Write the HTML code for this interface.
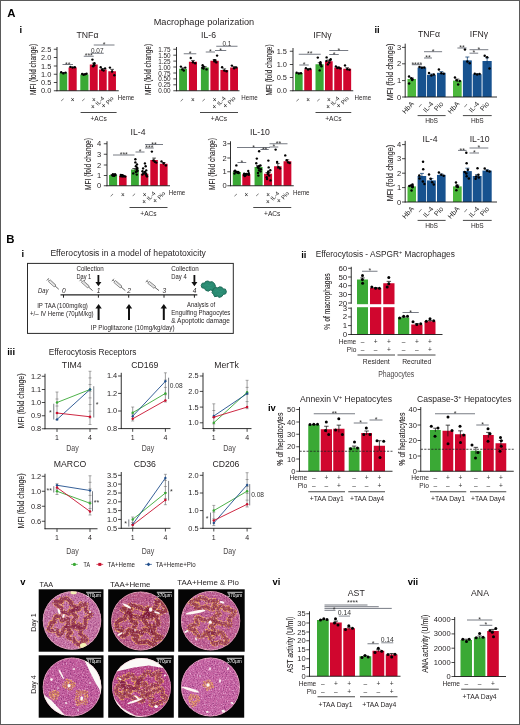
<!DOCTYPE html>
<html><head><meta charset="utf-8"><title>Figure</title>
<style>
html,body{margin:0;padding:0;background:#fff;}
body{width:520px;height:725px;overflow:hidden;font-family:"Liberation Sans",sans-serif;}
svg{display:block;font-family:"Liberation Sans",sans-serif;}
</style></head><body>
<svg width="520" height="725" viewBox="0 0 520 725">
<rect x="0" y="0" width="520" height="725" fill="#fff"/>
<g opacity="0.999">
<text x="7.20" y="17.00" font-size="11.4" text-anchor="start" fill="#000" font-weight="bold" >A</text>
<text x="19.40" y="32.50" font-size="9.4" text-anchor="start" fill="#000" font-weight="bold" >i</text>
<text x="203.90" y="25.40" font-size="8.6" text-anchor="middle" fill="#231f20" textLength="100.50" lengthAdjust="spacingAndGlyphs" >Macrophage polarization</text>
<text x="87.50" y="38.20" font-size="8.7" text-anchor="middle" fill="#231f20" >TNFα</text>
<text x="36.14" y="69.38" font-size="8.6" text-anchor="middle" fill="#231f20" stroke="#231f20" stroke-width="0.1" transform="rotate(-90 36.14 69.38)" textLength="51.00" lengthAdjust="spacingAndGlyphs">MFI (fold change)</text>
<rect x="59.55" y="73.00" width="7.65" height="17.75" fill="#3aa935" />
<rect x="68.55" y="67.50" width="8.15" height="23.25" fill="#d0062e" />
<rect x="80.30" y="74.50" width="8.15" height="16.25" fill="#3aa935" />
<rect x="89.80" y="64.50" width="7.90" height="26.25" fill="#d0062e" />
<rect x="99.05" y="69.50" width="7.65" height="21.25" fill="#d0062e" />
<rect x="108.30" y="71.25" width="7.65" height="19.50" fill="#d0062e" />
<line x1="56.60" y1="90.75" x2="118.75" y2="90.75" stroke="#1a1a1a" stroke-width="0.9" />
<line x1="57.00" y1="47.00" x2="57.00" y2="91.15" stroke="#1a1a1a" stroke-width="0.9" />
<line x1="53.80" y1="49.25" x2="57.00" y2="49.25" stroke="#1a1a1a" stroke-width="0.8" />
<text x="51.30" y="51.77" font-size="7" text-anchor="end" fill="#231f20" textLength="10.30" lengthAdjust="spacingAndGlyphs" >2.5</text>
<line x1="53.80" y1="57.50" x2="57.00" y2="57.50" stroke="#1a1a1a" stroke-width="0.8" />
<text x="51.30" y="60.02" font-size="7" text-anchor="end" fill="#231f20" textLength="10.30" lengthAdjust="spacingAndGlyphs" >2.0</text>
<line x1="53.80" y1="66.00" x2="57.00" y2="66.00" stroke="#1a1a1a" stroke-width="0.8" />
<text x="51.30" y="68.52" font-size="7" text-anchor="end" fill="#231f20" textLength="10.30" lengthAdjust="spacingAndGlyphs" >1.5</text>
<line x1="53.80" y1="74.25" x2="57.00" y2="74.25" stroke="#1a1a1a" stroke-width="0.8" />
<text x="51.30" y="76.77" font-size="7" text-anchor="end" fill="#231f20" textLength="10.30" lengthAdjust="spacingAndGlyphs" >1.0</text>
<line x1="53.80" y1="82.50" x2="57.00" y2="82.50" stroke="#1a1a1a" stroke-width="0.8" />
<text x="51.30" y="85.02" font-size="7" text-anchor="end" fill="#231f20" textLength="10.30" lengthAdjust="spacingAndGlyphs" >0.5</text>
<line x1="53.80" y1="90.75" x2="57.00" y2="90.75" stroke="#1a1a1a" stroke-width="0.8" />
<text x="51.30" y="93.27" font-size="7" text-anchor="end" fill="#231f20" textLength="10.30" lengthAdjust="spacingAndGlyphs" >0.0</text>
<line x1="63.38" y1="72.50" x2="63.38" y2="73.50" stroke="#111" stroke-width="0.75" />
<line x1="61.58" y1="72.50" x2="65.17" y2="72.50" stroke="#111" stroke-width="0.75" />
<circle cx="61.17" cy="72.20" r="1.20" fill="#000"/>
<circle cx="63.38" cy="73.40" r="1.20" fill="#000"/>
<circle cx="65.58" cy="72.60" r="1.20" fill="#000"/>
<line x1="72.62" y1="67.00" x2="72.62" y2="68.00" stroke="#111" stroke-width="0.75" />
<line x1="70.83" y1="67.00" x2="74.42" y2="67.00" stroke="#111" stroke-width="0.75" />
<circle cx="70.42" cy="66.90" r="1.20" fill="#000"/>
<circle cx="72.62" cy="67.60" r="1.20" fill="#000"/>
<circle cx="74.83" cy="67.20" r="1.20" fill="#000"/>
<line x1="84.38" y1="74.10" x2="84.38" y2="74.90" stroke="#111" stroke-width="0.75" />
<line x1="82.58" y1="74.10" x2="86.17" y2="74.10" stroke="#111" stroke-width="0.75" />
<circle cx="82.17" cy="74.00" r="1.20" fill="#000"/>
<circle cx="83.64" cy="74.80" r="1.20" fill="#000"/>
<circle cx="85.11" cy="74.20" r="1.20" fill="#000"/>
<circle cx="86.58" cy="73.80" r="1.20" fill="#000"/>
<line x1="93.75" y1="63.20" x2="93.75" y2="65.80" stroke="#111" stroke-width="0.75" />
<line x1="91.95" y1="63.20" x2="95.55" y2="63.20" stroke="#111" stroke-width="0.75" />
<circle cx="92.42" cy="59.60" r="1.20" fill="#000"/>
<circle cx="93.97" cy="64.80" r="1.20" fill="#000"/>
<circle cx="93.09" cy="66.20" r="1.20" fill="#000"/>
<circle cx="94.28" cy="65.20" r="1.20" fill="#000"/>
<circle cx="94.39" cy="63.20" r="1.20" fill="#000"/>
<line x1="102.88" y1="68.60" x2="102.88" y2="70.40" stroke="#111" stroke-width="0.75" />
<line x1="101.08" y1="68.60" x2="104.67" y2="68.60" stroke="#111" stroke-width="0.75" />
<circle cx="100.67" cy="67.20" r="1.20" fill="#000"/>
<circle cx="102.14" cy="69.80" r="1.20" fill="#000"/>
<circle cx="103.61" cy="70.60" r="1.20" fill="#000"/>
<circle cx="105.08" cy="68.40" r="1.20" fill="#000"/>
<line x1="112.12" y1="69.35" x2="112.12" y2="73.15" stroke="#111" stroke-width="0.75" />
<line x1="110.33" y1="69.35" x2="113.92" y2="69.35" stroke="#111" stroke-width="0.75" />
<circle cx="109.92" cy="67.60" r="1.20" fill="#000"/>
<circle cx="112.12" cy="71.40" r="1.20" fill="#000"/>
<circle cx="114.33" cy="75.20" r="1.20" fill="#000"/>
<line x1="62.50" y1="64.50" x2="73.00" y2="64.50" stroke="#555a66" stroke-width="0.8" />
<text x="67.75" y="66.70" font-size="7" text-anchor="middle" fill="#333" >**</text>
<line x1="83.75" y1="56.25" x2="93.75" y2="56.25" stroke="#555a66" stroke-width="0.8" />
<text x="88.75" y="58.45" font-size="7" text-anchor="middle" fill="#333" >***</text>
<line x1="90.75" y1="53.25" x2="103.75" y2="53.25" stroke="#555a66" stroke-width="0.8" />
<text x="97.25" y="52.55" font-size="6.4" text-anchor="middle" fill="#333" >0.07</text>
<line x1="93.75" y1="45.00" x2="114.50" y2="45.00" stroke="#555a66" stroke-width="0.8" />
<text x="104.12" y="47.20" font-size="7" text-anchor="middle" fill="#333" >*</text>
<text x="63.38" y="101.15" font-size="6.2" text-anchor="middle" fill="#111" transform="rotate(-45 63.38 101.15)" >–</text>
<text x="72.62" y="101.95" font-size="6.4" text-anchor="middle" fill="#111" >×</text>
<text x="84.38" y="101.15" font-size="6.2" text-anchor="middle" fill="#111" transform="rotate(-45 84.38 101.15)" >–</text>
<text x="93.75" y="101.95" font-size="6.4" text-anchor="middle" fill="#111" >×</text>
<text x="104.78" y="98.55" font-size="5.8" text-anchor="end" fill="#222" transform="rotate(-48 104.78 98.55)" >IL-4</text>
<text x="92.88" y="109.25" font-size="6.4" text-anchor="middle" fill="#111" >×</text>
<text x="114.03" y="98.55" font-size="5.8" text-anchor="end" fill="#222" transform="rotate(-48 114.03 98.55)" >Pio</text>
<text x="103.53" y="108.25" font-size="6.4" text-anchor="middle" fill="#111" >×</text>
<text x="117.80" y="99.75" font-size="6.3" text-anchor="start" fill="#231f20" textLength="16.50" lengthAdjust="spacingAndGlyphs" >Heme</text>
<line x1="80.60" y1="112.50" x2="116.60" y2="112.50" stroke="#333" stroke-width="0.9" />
<text x="98.60" y="120.70" font-size="6.6" text-anchor="middle" fill="#231f20" >+ACs</text>
<text x="208.60" y="38.20" font-size="8.7" text-anchor="middle" fill="#231f20" >IL-6</text>
<text x="151.04" y="69.38" font-size="8.6" text-anchor="middle" fill="#231f20" stroke="#231f20" stroke-width="0.1" transform="rotate(-90 151.04 69.38)" textLength="51.00" lengthAdjust="spacingAndGlyphs">MFI (fold change)</text>
<rect x="179.15" y="68.75" width="7.85" height="22.00" fill="#3aa935" />
<rect x="188.90" y="61.75" width="8.10" height="29.00" fill="#d0062e" />
<rect x="200.90" y="67.50" width="7.85" height="23.25" fill="#3aa935" />
<rect x="210.40" y="60.75" width="8.35" height="30.00" fill="#d0062e" />
<rect x="220.40" y="70.00" width="7.85" height="20.75" fill="#d0062e" />
<rect x="230.15" y="67.50" width="7.85" height="23.25" fill="#d0062e" />
<line x1="176.10" y1="90.75" x2="239.50" y2="90.75" stroke="#1a1a1a" stroke-width="0.9" />
<line x1="176.50" y1="47.00" x2="176.50" y2="91.15" stroke="#1a1a1a" stroke-width="0.9" />
<line x1="173.30" y1="49.25" x2="176.50" y2="49.25" stroke="#1a1a1a" stroke-width="0.8" />
<text x="170.60" y="51.77" font-size="7" text-anchor="end" fill="#231f20" textLength="12.40" lengthAdjust="spacingAndGlyphs" >1.75</text>
<line x1="173.30" y1="55.20" x2="176.50" y2="55.20" stroke="#1a1a1a" stroke-width="0.8" />
<text x="170.60" y="57.72" font-size="7" text-anchor="end" fill="#231f20" textLength="12.40" lengthAdjust="spacingAndGlyphs" >1.50</text>
<line x1="173.30" y1="61.10" x2="176.50" y2="61.10" stroke="#1a1a1a" stroke-width="0.8" />
<text x="170.60" y="63.62" font-size="7" text-anchor="end" fill="#231f20" textLength="12.40" lengthAdjust="spacingAndGlyphs" >1.25</text>
<line x1="173.30" y1="67.00" x2="176.50" y2="67.00" stroke="#1a1a1a" stroke-width="0.8" />
<text x="170.60" y="69.52" font-size="7" text-anchor="end" fill="#231f20" textLength="12.40" lengthAdjust="spacingAndGlyphs" >1.00</text>
<line x1="173.30" y1="73.00" x2="176.50" y2="73.00" stroke="#1a1a1a" stroke-width="0.8" />
<text x="170.60" y="75.52" font-size="7" text-anchor="end" fill="#231f20" textLength="12.40" lengthAdjust="spacingAndGlyphs" >0.75</text>
<line x1="173.30" y1="78.90" x2="176.50" y2="78.90" stroke="#1a1a1a" stroke-width="0.8" />
<text x="170.60" y="81.42" font-size="7" text-anchor="end" fill="#231f20" textLength="12.40" lengthAdjust="spacingAndGlyphs" >0.50</text>
<line x1="173.30" y1="84.80" x2="176.50" y2="84.80" stroke="#1a1a1a" stroke-width="0.8" />
<text x="170.60" y="87.32" font-size="7" text-anchor="end" fill="#231f20" textLength="12.40" lengthAdjust="spacingAndGlyphs" >0.25</text>
<line x1="173.30" y1="90.75" x2="176.50" y2="90.75" stroke="#1a1a1a" stroke-width="0.8" />
<text x="170.60" y="93.27" font-size="7" text-anchor="end" fill="#231f20" textLength="12.40" lengthAdjust="spacingAndGlyphs" >0.00</text>
<line x1="183.07" y1="67.85" x2="183.07" y2="69.65" stroke="#111" stroke-width="0.75" />
<line x1="181.27" y1="67.85" x2="184.88" y2="67.85" stroke="#111" stroke-width="0.75" />
<circle cx="180.88" cy="66.60" r="1.20" fill="#000"/>
<circle cx="182.34" cy="69.40" r="1.20" fill="#000"/>
<circle cx="183.81" cy="70.60" r="1.20" fill="#000"/>
<circle cx="185.27" cy="67.60" r="1.20" fill="#000"/>
<line x1="192.95" y1="60.45" x2="192.95" y2="63.05" stroke="#111" stroke-width="0.75" />
<line x1="191.15" y1="60.45" x2="194.75" y2="60.45" stroke="#111" stroke-width="0.75" />
<circle cx="190.75" cy="58.00" r="1.20" fill="#000"/>
<circle cx="192.95" cy="62.20" r="1.20" fill="#000"/>
<circle cx="195.15" cy="63.20" r="1.20" fill="#000"/>
<line x1="204.82" y1="66.70" x2="204.82" y2="68.30" stroke="#111" stroke-width="0.75" />
<line x1="203.02" y1="66.70" x2="206.62" y2="66.70" stroke="#111" stroke-width="0.75" />
<circle cx="202.63" cy="65.20" r="1.20" fill="#000"/>
<circle cx="202.36" cy="67.80" r="1.20" fill="#000"/>
<circle cx="206.53" cy="69.40" r="1.20" fill="#000"/>
<circle cx="203.61" cy="66.60" r="1.20" fill="#000"/>
<circle cx="203.48" cy="68.60" r="1.20" fill="#000"/>
<line x1="214.57" y1="59.55" x2="214.57" y2="61.95" stroke="#111" stroke-width="0.75" />
<line x1="212.77" y1="59.55" x2="216.38" y2="59.55" stroke="#111" stroke-width="0.75" />
<circle cx="217.08" cy="55.60" r="1.20" fill="#000"/>
<circle cx="214.42" cy="60.20" r="1.20" fill="#000"/>
<circle cx="216.28" cy="62.40" r="1.20" fill="#000"/>
<circle cx="214.46" cy="61.40" r="1.20" fill="#000"/>
<circle cx="215.28" cy="60.60" r="1.20" fill="#000"/>
<line x1="224.32" y1="68.90" x2="224.32" y2="71.10" stroke="#111" stroke-width="0.75" />
<line x1="222.52" y1="68.90" x2="226.12" y2="68.90" stroke="#111" stroke-width="0.75" />
<circle cx="222.12" cy="67.20" r="1.20" fill="#000"/>
<circle cx="224.32" cy="70.60" r="1.20" fill="#000"/>
<circle cx="226.52" cy="71.20" r="1.20" fill="#000"/>
<line x1="234.07" y1="66.60" x2="234.07" y2="68.40" stroke="#111" stroke-width="0.75" />
<line x1="232.27" y1="66.60" x2="235.88" y2="66.60" stroke="#111" stroke-width="0.75" />
<circle cx="231.88" cy="65.60" r="1.20" fill="#000"/>
<circle cx="234.07" cy="68.20" r="1.20" fill="#000"/>
<circle cx="236.27" cy="67.40" r="1.20" fill="#000"/>
<line x1="183.75" y1="53.75" x2="196.25" y2="53.75" stroke="#555a66" stroke-width="0.8" />
<text x="190.00" y="55.95" font-size="7" text-anchor="middle" fill="#333" >*</text>
<line x1="205.75" y1="52.00" x2="215.00" y2="52.00" stroke="#555a66" stroke-width="0.8" />
<text x="210.38" y="54.20" font-size="7" text-anchor="middle" fill="#333" >*</text>
<line x1="215.00" y1="50.50" x2="226.25" y2="50.50" stroke="#555a66" stroke-width="0.8" />
<text x="220.62" y="52.70" font-size="7" text-anchor="middle" fill="#333" >*</text>
<line x1="216.25" y1="46.25" x2="237.50" y2="46.25" stroke="#555a66" stroke-width="0.8" />
<text x="226.88" y="45.55" font-size="6.4" text-anchor="middle" fill="#333" >0.1</text>
<text x="183.07" y="101.15" font-size="6.2" text-anchor="middle" fill="#111" transform="rotate(-45 183.07 101.15)" >–</text>
<text x="192.95" y="101.95" font-size="6.4" text-anchor="middle" fill="#111" >×</text>
<text x="204.82" y="101.15" font-size="6.2" text-anchor="middle" fill="#111" transform="rotate(-45 204.82 101.15)" >–</text>
<text x="214.57" y="101.95" font-size="6.4" text-anchor="middle" fill="#111" >×</text>
<text x="226.22" y="98.55" font-size="5.8" text-anchor="end" fill="#222" transform="rotate(-48 226.22 98.55)" >IL-4</text>
<text x="214.32" y="109.25" font-size="6.4" text-anchor="middle" fill="#111" >×</text>
<text x="235.97" y="98.55" font-size="5.8" text-anchor="end" fill="#222" transform="rotate(-48 235.97 98.55)" >Pio</text>
<text x="225.47" y="108.25" font-size="6.4" text-anchor="middle" fill="#111" >×</text>
<text x="241.30" y="99.75" font-size="6.3" text-anchor="start" fill="#231f20" textLength="16.50" lengthAdjust="spacingAndGlyphs" >Heme</text>
<line x1="200.00" y1="112.50" x2="238.00" y2="112.50" stroke="#333" stroke-width="0.9" />
<text x="219.00" y="120.70" font-size="6.6" text-anchor="middle" fill="#231f20" >+ACs</text>
<text x="322.50" y="38.20" font-size="8.7" text-anchor="middle" fill="#231f20" >IFNγ</text>
<text x="272.44" y="69.88" font-size="8.6" text-anchor="middle" fill="#231f20" stroke="#231f20" stroke-width="0.1" transform="rotate(-90 272.44 69.88)" textLength="51.00" lengthAdjust="spacingAndGlyphs">MFI (fold change)</text>
<rect x="295.00" y="73.25" width="7.65" height="17.50" fill="#3aa935" />
<rect x="304.25" y="69.25" width="7.65" height="21.50" fill="#d0062e" />
<rect x="315.50" y="64.25" width="8.15" height="26.50" fill="#3aa935" />
<rect x="325.00" y="61.25" width="7.65" height="29.50" fill="#d0062e" />
<rect x="334.25" y="67.50" width="7.65" height="23.25" fill="#d0062e" />
<rect x="343.25" y="68.75" width="7.90" height="22.00" fill="#d0062e" />
<line x1="292.60" y1="90.75" x2="353.25" y2="90.75" stroke="#1a1a1a" stroke-width="0.9" />
<line x1="293.00" y1="48.00" x2="293.00" y2="91.15" stroke="#1a1a1a" stroke-width="0.9" />
<line x1="289.80" y1="51.25" x2="293.00" y2="51.25" stroke="#1a1a1a" stroke-width="0.8" />
<text x="287.00" y="53.77" font-size="7" text-anchor="end" fill="#231f20" textLength="10.30" lengthAdjust="spacingAndGlyphs" >1.5</text>
<line x1="289.80" y1="64.50" x2="293.00" y2="64.50" stroke="#1a1a1a" stroke-width="0.8" />
<text x="287.00" y="67.02" font-size="7" text-anchor="end" fill="#231f20" textLength="10.30" lengthAdjust="spacingAndGlyphs" >1.0</text>
<line x1="289.80" y1="77.50" x2="293.00" y2="77.50" stroke="#1a1a1a" stroke-width="0.8" />
<text x="287.00" y="80.02" font-size="7" text-anchor="end" fill="#231f20" textLength="10.30" lengthAdjust="spacingAndGlyphs" >0.5</text>
<line x1="289.80" y1="90.75" x2="293.00" y2="90.75" stroke="#1a1a1a" stroke-width="0.8" />
<text x="287.00" y="93.27" font-size="7" text-anchor="end" fill="#231f20" textLength="10.30" lengthAdjust="spacingAndGlyphs" >0.0</text>
<line x1="298.82" y1="72.85" x2="298.82" y2="73.65" stroke="#111" stroke-width="0.75" />
<line x1="297.02" y1="72.85" x2="300.62" y2="72.85" stroke="#111" stroke-width="0.75" />
<circle cx="296.62" cy="72.80" r="1.20" fill="#000"/>
<circle cx="298.82" cy="73.60" r="1.20" fill="#000"/>
<circle cx="301.02" cy="73.20" r="1.20" fill="#000"/>
<line x1="308.07" y1="68.65" x2="308.07" y2="69.85" stroke="#111" stroke-width="0.75" />
<line x1="306.27" y1="68.65" x2="309.88" y2="68.65" stroke="#111" stroke-width="0.75" />
<circle cx="305.88" cy="68.20" r="1.20" fill="#000"/>
<circle cx="308.07" cy="69.60" r="1.20" fill="#000"/>
<circle cx="310.27" cy="69.00" r="1.20" fill="#000"/>
<line x1="319.57" y1="62.75" x2="319.57" y2="65.75" stroke="#111" stroke-width="0.75" />
<line x1="317.77" y1="62.75" x2="321.38" y2="62.75" stroke="#111" stroke-width="0.75" />
<circle cx="317.81" cy="57.60" r="1.20" fill="#000"/>
<circle cx="320.26" cy="63.40" r="1.20" fill="#000"/>
<circle cx="321.44" cy="66.20" r="1.20" fill="#000"/>
<circle cx="319.69" cy="70.40" r="1.20" fill="#000"/>
<circle cx="320.80" cy="64.40" r="1.20" fill="#000"/>
<circle cx="320.44" cy="62.20" r="1.20" fill="#000"/>
<line x1="328.82" y1="60.05" x2="328.82" y2="62.45" stroke="#111" stroke-width="0.75" />
<line x1="327.02" y1="60.05" x2="330.62" y2="60.05" stroke="#111" stroke-width="0.75" />
<circle cx="326.62" cy="57.40" r="1.20" fill="#000"/>
<circle cx="330.13" cy="60.20" r="1.20" fill="#000"/>
<circle cx="329.29" cy="62.60" r="1.20" fill="#000"/>
<circle cx="327.82" cy="64.40" r="1.20" fill="#000"/>
<circle cx="326.45" cy="61.00" r="1.20" fill="#000"/>
<circle cx="330.67" cy="59.20" r="1.20" fill="#000"/>
<line x1="338.07" y1="67.00" x2="338.07" y2="68.00" stroke="#111" stroke-width="0.75" />
<line x1="336.27" y1="67.00" x2="339.88" y2="67.00" stroke="#111" stroke-width="0.75" />
<circle cx="335.88" cy="66.40" r="1.20" fill="#000"/>
<circle cx="337.34" cy="68.00" r="1.20" fill="#000"/>
<circle cx="338.81" cy="67.60" r="1.20" fill="#000"/>
<circle cx="340.27" cy="68.40" r="1.20" fill="#000"/>
<line x1="347.20" y1="67.75" x2="347.20" y2="69.75" stroke="#111" stroke-width="0.75" />
<line x1="345.40" y1="67.75" x2="349.00" y2="67.75" stroke="#111" stroke-width="0.75" />
<circle cx="345.00" cy="65.40" r="1.20" fill="#000"/>
<circle cx="347.20" cy="69.20" r="1.20" fill="#000"/>
<circle cx="349.40" cy="69.80" r="1.20" fill="#000"/>
<line x1="298.75" y1="54.25" x2="320.75" y2="54.25" stroke="#555a66" stroke-width="0.8" />
<text x="309.75" y="56.45" font-size="7" text-anchor="middle" fill="#333" >**</text>
<line x1="299.25" y1="65.00" x2="308.75" y2="65.00" stroke="#555a66" stroke-width="0.8" />
<text x="304.00" y="67.20" font-size="7" text-anchor="middle" fill="#333" >*</text>
<line x1="329.25" y1="50.50" x2="348.25" y2="50.50" stroke="#555a66" stroke-width="0.8" />
<text x="338.75" y="52.70" font-size="7" text-anchor="middle" fill="#333" >*</text>
<line x1="329.25" y1="54.50" x2="338.75" y2="54.50" stroke="#555a66" stroke-width="0.8" />
<text x="334.00" y="56.70" font-size="7" text-anchor="middle" fill="#333" >*</text>
<text x="298.82" y="101.15" font-size="6.2" text-anchor="middle" fill="#111" transform="rotate(-45 298.82 101.15)" >–</text>
<text x="308.07" y="101.95" font-size="6.4" text-anchor="middle" fill="#111" >×</text>
<text x="319.57" y="101.15" font-size="6.2" text-anchor="middle" fill="#111" transform="rotate(-45 319.57 101.15)" >–</text>
<text x="328.82" y="101.95" font-size="6.4" text-anchor="middle" fill="#111" >×</text>
<text x="339.97" y="98.55" font-size="5.8" text-anchor="end" fill="#222" transform="rotate(-48 339.97 98.55)" >IL-4</text>
<text x="328.07" y="109.25" font-size="6.4" text-anchor="middle" fill="#111" >×</text>
<text x="349.10" y="98.55" font-size="5.8" text-anchor="end" fill="#222" transform="rotate(-48 349.10 98.55)" >Pio</text>
<text x="338.60" y="108.25" font-size="6.4" text-anchor="middle" fill="#111" >×</text>
<text x="354.60" y="99.75" font-size="6.3" text-anchor="start" fill="#231f20" textLength="16.50" lengthAdjust="spacingAndGlyphs" >Heme</text>
<line x1="315.50" y1="112.50" x2="351.25" y2="112.50" stroke="#333" stroke-width="0.9" />
<text x="333.38" y="120.70" font-size="6.6" text-anchor="middle" fill="#231f20" >+ACs</text>
<text x="138.00" y="135.30" font-size="8.7" text-anchor="middle" fill="#231f20" >IL-4</text>
<text x="91.24" y="164.00" font-size="8.6" text-anchor="middle" fill="#231f20" stroke="#231f20" stroke-width="0.1" transform="rotate(-90 91.24 164.00)" textLength="52.00" lengthAdjust="spacingAndGlyphs">MFI (fold change)</text>
<rect x="109.05" y="175.00" width="8.05" height="10.75" fill="#3aa935" />
<rect x="119.05" y="175.75" width="7.55" height="10.00" fill="#d0062e" />
<rect x="131.05" y="169.50" width="7.80" height="16.25" fill="#3aa935" />
<rect x="140.80" y="173.75" width="7.55" height="12.00" fill="#d0062e" />
<rect x="150.30" y="160.00" width="7.55" height="25.75" fill="#d0062e" />
<rect x="159.80" y="163.75" width="7.80" height="22.00" fill="#d0062e" />
<line x1="106.60" y1="185.75" x2="170.00" y2="185.75" stroke="#1a1a1a" stroke-width="0.9" />
<line x1="107.00" y1="141.25" x2="107.00" y2="186.15" stroke="#1a1a1a" stroke-width="0.9" />
<line x1="103.80" y1="143.75" x2="107.00" y2="143.75" stroke="#1a1a1a" stroke-width="0.8" />
<text x="101.20" y="146.27" font-size="7" text-anchor="end" fill="#231f20" textLength="4.20" lengthAdjust="spacingAndGlyphs" >4</text>
<line x1="103.80" y1="154.25" x2="107.00" y2="154.25" stroke="#1a1a1a" stroke-width="0.8" />
<text x="101.20" y="156.77" font-size="7" text-anchor="end" fill="#231f20" textLength="4.20" lengthAdjust="spacingAndGlyphs" >3</text>
<line x1="103.80" y1="165.00" x2="107.00" y2="165.00" stroke="#1a1a1a" stroke-width="0.8" />
<text x="101.20" y="167.52" font-size="7" text-anchor="end" fill="#231f20" textLength="4.20" lengthAdjust="spacingAndGlyphs" >2</text>
<line x1="103.80" y1="175.50" x2="107.00" y2="175.50" stroke="#1a1a1a" stroke-width="0.8" />
<text x="101.20" y="178.02" font-size="7" text-anchor="end" fill="#231f20" textLength="4.20" lengthAdjust="spacingAndGlyphs" >1</text>
<line x1="103.80" y1="185.75" x2="107.00" y2="185.75" stroke="#1a1a1a" stroke-width="0.8" />
<text x="101.20" y="188.27" font-size="7" text-anchor="end" fill="#231f20" textLength="4.20" lengthAdjust="spacingAndGlyphs" >0</text>
<line x1="113.07" y1="174.70" x2="113.07" y2="175.30" stroke="#111" stroke-width="0.75" />
<line x1="110.47" y1="174.70" x2="115.67" y2="174.70" stroke="#111" stroke-width="0.75" />
<circle cx="112.94" cy="174.20" r="1.20" fill="#000"/>
<circle cx="114.18" cy="175.40" r="1.20" fill="#000"/>
<circle cx="114.99" cy="174.80" r="1.20" fill="#000"/>
<circle cx="114.16" cy="175.80" r="1.20" fill="#000"/>
<circle cx="115.21" cy="174.40" r="1.20" fill="#000"/>
<circle cx="112.54" cy="175.20" r="1.20" fill="#000"/>
<circle cx="114.60" cy="174.60" r="1.20" fill="#000"/>
<circle cx="112.79" cy="175.60" r="1.20" fill="#000"/>
<circle cx="115.28" cy="174.90" r="1.20" fill="#000"/>
<circle cx="114.99" cy="175.10" r="1.20" fill="#000"/>
<line x1="122.82" y1="175.45" x2="122.82" y2="176.05" stroke="#111" stroke-width="0.75" />
<line x1="120.22" y1="175.45" x2="125.42" y2="175.45" stroke="#111" stroke-width="0.75" />
<circle cx="120.79" cy="175.00" r="1.20" fill="#000"/>
<circle cx="120.98" cy="176.20" r="1.20" fill="#000"/>
<circle cx="121.39" cy="175.40" r="1.20" fill="#000"/>
<circle cx="125.18" cy="176.60" r="1.20" fill="#000"/>
<circle cx="122.50" cy="175.20" r="1.20" fill="#000"/>
<circle cx="123.47" cy="176.00" r="1.20" fill="#000"/>
<circle cx="121.82" cy="175.60" r="1.20" fill="#000"/>
<circle cx="122.86" cy="176.40" r="1.20" fill="#000"/>
<circle cx="122.25" cy="175.80" r="1.20" fill="#000"/>
<circle cx="122.07" cy="176.10" r="1.20" fill="#000"/>
<line x1="134.95" y1="168.50" x2="134.95" y2="170.50" stroke="#111" stroke-width="0.75" />
<line x1="132.35" y1="168.50" x2="137.55" y2="168.50" stroke="#111" stroke-width="0.75" />
<circle cx="135.38" cy="159.20" r="1.20" fill="#000"/>
<circle cx="135.38" cy="162.40" r="1.20" fill="#000"/>
<circle cx="137.00" cy="164.40" r="1.20" fill="#000"/>
<circle cx="135.87" cy="166.20" r="1.20" fill="#000"/>
<circle cx="137.12" cy="167.80" r="1.20" fill="#000"/>
<circle cx="136.75" cy="169.20" r="1.20" fill="#000"/>
<circle cx="137.43" cy="170.60" r="1.20" fill="#000"/>
<circle cx="135.82" cy="172.00" r="1.20" fill="#000"/>
<circle cx="133.25" cy="173.40" r="1.20" fill="#000"/>
<circle cx="136.77" cy="174.60" r="1.20" fill="#000"/>
<circle cx="137.30" cy="168.40" r="1.20" fill="#000"/>
<circle cx="137.00" cy="171.20" r="1.20" fill="#000"/>
<line x1="144.57" y1="172.85" x2="144.57" y2="174.65" stroke="#111" stroke-width="0.75" />
<line x1="141.97" y1="172.85" x2="147.17" y2="172.85" stroke="#111" stroke-width="0.75" />
<circle cx="144.92" cy="163.40" r="1.20" fill="#000"/>
<circle cx="145.66" cy="166.20" r="1.20" fill="#000"/>
<circle cx="143.11" cy="168.40" r="1.20" fill="#000"/>
<circle cx="146.25" cy="170.40" r="1.20" fill="#000"/>
<circle cx="144.95" cy="172.00" r="1.20" fill="#000"/>
<circle cx="143.49" cy="173.40" r="1.20" fill="#000"/>
<circle cx="142.37" cy="174.60" r="1.20" fill="#000"/>
<circle cx="146.37" cy="175.60" r="1.20" fill="#000"/>
<circle cx="147.05" cy="176.40" r="1.20" fill="#000"/>
<circle cx="142.49" cy="171.20" r="1.20" fill="#000"/>
<circle cx="146.10" cy="174.00" r="1.20" fill="#000"/>
<line x1="154.07" y1="158.10" x2="154.07" y2="161.90" stroke="#111" stroke-width="0.75" />
<line x1="152.27" y1="158.10" x2="155.88" y2="158.10" stroke="#111" stroke-width="0.75" />
<circle cx="151.88" cy="151.60" r="1.20" fill="#000"/>
<circle cx="153.34" cy="160.40" r="1.20" fill="#000"/>
<circle cx="154.81" cy="161.80" r="1.20" fill="#000"/>
<circle cx="156.27" cy="162.60" r="1.20" fill="#000"/>
<line x1="163.70" y1="162.55" x2="163.70" y2="164.95" stroke="#111" stroke-width="0.75" />
<line x1="161.90" y1="162.55" x2="165.50" y2="162.55" stroke="#111" stroke-width="0.75" />
<circle cx="161.50" cy="161.40" r="1.20" fill="#000"/>
<circle cx="163.70" cy="163.20" r="1.20" fill="#000"/>
<circle cx="165.90" cy="165.40" r="1.20" fill="#000"/>
<line x1="113.00" y1="155.00" x2="134.50" y2="155.00" stroke="#555a66" stroke-width="0.8" />
<text x="123.75" y="157.20" font-size="7" text-anchor="middle" fill="#333" >***</text>
<line x1="135.50" y1="152.00" x2="144.50" y2="152.00" stroke="#555a66" stroke-width="0.8" />
<text x="140.00" y="154.20" font-size="7" text-anchor="middle" fill="#333" >*</text>
<line x1="145.00" y1="148.00" x2="153.75" y2="148.00" stroke="#555a66" stroke-width="0.8" />
<text x="149.38" y="150.20" font-size="7" text-anchor="middle" fill="#333" >***</text>
<line x1="145.00" y1="144.50" x2="163.00" y2="144.50" stroke="#555a66" stroke-width="0.8" />
<text x="154.00" y="146.70" font-size="7" text-anchor="middle" fill="#333" >**</text>
<text x="113.07" y="196.15" font-size="6.2" text-anchor="middle" fill="#111" transform="rotate(-45 113.07 196.15)" >–</text>
<text x="122.82" y="196.95" font-size="6.4" text-anchor="middle" fill="#111" >×</text>
<text x="134.95" y="196.15" font-size="6.2" text-anchor="middle" fill="#111" transform="rotate(-45 134.95 196.15)" >–</text>
<text x="144.57" y="196.95" font-size="6.4" text-anchor="middle" fill="#111" >×</text>
<text x="155.97" y="193.55" font-size="5.8" text-anchor="end" fill="#222" transform="rotate(-48 155.97 193.55)" >IL-4</text>
<text x="144.07" y="204.25" font-size="6.4" text-anchor="middle" fill="#111" >×</text>
<text x="165.60" y="193.55" font-size="5.8" text-anchor="end" fill="#222" transform="rotate(-48 165.60 193.55)" >Pio</text>
<text x="155.10" y="203.25" font-size="6.4" text-anchor="middle" fill="#111" >×</text>
<text x="168.80" y="194.75" font-size="6.3" text-anchor="start" fill="#231f20" textLength="16.50" lengthAdjust="spacingAndGlyphs" >Heme</text>
<line x1="129.50" y1="207.50" x2="167.50" y2="207.50" stroke="#333" stroke-width="0.9" />
<text x="148.50" y="215.70" font-size="6.6" text-anchor="middle" fill="#231f20" >+ACs</text>
<text x="260.00" y="135.30" font-size="8.7" text-anchor="middle" fill="#231f20" >IL-10</text>
<text x="215.04" y="164.00" font-size="8.6" text-anchor="middle" fill="#231f20" stroke="#231f20" stroke-width="0.1" transform="rotate(-90 215.04 164.00)" textLength="52.00" lengthAdjust="spacingAndGlyphs">MFI (fold change)</text>
<rect x="232.80" y="172.00" width="8.05" height="13.75" fill="#3aa935" />
<rect x="242.30" y="174.25" width="8.05" height="11.50" fill="#d0062e" />
<rect x="254.55" y="167.00" width="8.05" height="18.75" fill="#3aa935" />
<rect x="264.05" y="173.75" width="8.05" height="12.00" fill="#d0062e" />
<rect x="274.05" y="166.25" width="7.55" height="19.50" fill="#d0062e" />
<rect x="283.55" y="161.25" width="7.80" height="24.50" fill="#d0062e" />
<line x1="230.10" y1="185.75" x2="293.75" y2="185.75" stroke="#1a1a1a" stroke-width="0.9" />
<line x1="230.50" y1="141.25" x2="230.50" y2="186.15" stroke="#1a1a1a" stroke-width="0.9" />
<line x1="227.30" y1="143.75" x2="230.50" y2="143.75" stroke="#1a1a1a" stroke-width="0.8" />
<text x="226.60" y="146.27" font-size="7" text-anchor="end" fill="#231f20" textLength="4.20" lengthAdjust="spacingAndGlyphs" >3</text>
<line x1="227.30" y1="158.00" x2="230.50" y2="158.00" stroke="#1a1a1a" stroke-width="0.8" />
<text x="226.60" y="160.52" font-size="7" text-anchor="end" fill="#231f20" textLength="4.20" lengthAdjust="spacingAndGlyphs" >2</text>
<line x1="227.30" y1="171.75" x2="230.50" y2="171.75" stroke="#1a1a1a" stroke-width="0.8" />
<text x="226.60" y="174.27" font-size="7" text-anchor="end" fill="#231f20" textLength="4.20" lengthAdjust="spacingAndGlyphs" >1</text>
<line x1="227.30" y1="185.75" x2="230.50" y2="185.75" stroke="#1a1a1a" stroke-width="0.8" />
<text x="226.60" y="188.27" font-size="7" text-anchor="end" fill="#231f20" textLength="4.20" lengthAdjust="spacingAndGlyphs" >0</text>
<line x1="236.82" y1="171.50" x2="236.82" y2="172.50" stroke="#111" stroke-width="0.75" />
<line x1="234.22" y1="171.50" x2="239.42" y2="171.50" stroke="#111" stroke-width="0.75" />
<circle cx="236.37" cy="165.40" r="1.20" fill="#000"/>
<circle cx="235.06" cy="170.80" r="1.20" fill="#000"/>
<circle cx="235.78" cy="171.60" r="1.20" fill="#000"/>
<circle cx="238.19" cy="172.40" r="1.20" fill="#000"/>
<circle cx="238.71" cy="173.00" r="1.20" fill="#000"/>
<circle cx="234.52" cy="171.20" r="1.20" fill="#000"/>
<circle cx="237.40" cy="172.80" r="1.20" fill="#000"/>
<circle cx="234.52" cy="173.60" r="1.20" fill="#000"/>
<circle cx="237.93" cy="172.00" r="1.20" fill="#000"/>
<circle cx="235.97" cy="171.90" r="1.20" fill="#000"/>
<line x1="246.32" y1="173.75" x2="246.32" y2="174.75" stroke="#111" stroke-width="0.75" />
<line x1="243.72" y1="173.75" x2="248.92" y2="173.75" stroke="#111" stroke-width="0.75" />
<circle cx="248.25" cy="171.00" r="1.20" fill="#000"/>
<circle cx="248.76" cy="173.20" r="1.20" fill="#000"/>
<circle cx="246.35" cy="174.00" r="1.20" fill="#000"/>
<circle cx="248.85" cy="174.80" r="1.20" fill="#000"/>
<circle cx="245.36" cy="175.40" r="1.20" fill="#000"/>
<circle cx="244.18" cy="173.60" r="1.20" fill="#000"/>
<circle cx="246.83" cy="174.40" r="1.20" fill="#000"/>
<circle cx="243.95" cy="175.00" r="1.20" fill="#000"/>
<circle cx="244.79" cy="176.00" r="1.20" fill="#000"/>
<circle cx="245.86" cy="174.20" r="1.20" fill="#000"/>
<line x1="258.58" y1="165.70" x2="258.58" y2="168.30" stroke="#111" stroke-width="0.75" />
<line x1="255.98" y1="165.70" x2="261.18" y2="165.70" stroke="#111" stroke-width="0.75" />
<circle cx="259.13" cy="151.20" r="1.20" fill="#000"/>
<circle cx="256.84" cy="158.60" r="1.20" fill="#000"/>
<circle cx="256.26" cy="163.20" r="1.20" fill="#000"/>
<circle cx="260.44" cy="165.40" r="1.20" fill="#000"/>
<circle cx="257.63" cy="167.00" r="1.20" fill="#000"/>
<circle cx="260.90" cy="169.20" r="1.20" fill="#000"/>
<circle cx="260.58" cy="171.40" r="1.20" fill="#000"/>
<circle cx="257.96" cy="173.00" r="1.20" fill="#000"/>
<circle cx="258.37" cy="175.60" r="1.20" fill="#000"/>
<circle cx="258.68" cy="168.20" r="1.20" fill="#000"/>
<circle cx="259.30" cy="166.00" r="1.20" fill="#000"/>
<circle cx="259.06" cy="170.40" r="1.20" fill="#000"/>
<line x1="268.08" y1="172.55" x2="268.08" y2="174.95" stroke="#111" stroke-width="0.75" />
<line x1="265.48" y1="172.55" x2="270.68" y2="172.55" stroke="#111" stroke-width="0.75" />
<circle cx="268.37" cy="160.60" r="1.20" fill="#000"/>
<circle cx="268.68" cy="167.40" r="1.20" fill="#000"/>
<circle cx="270.30" cy="170.20" r="1.20" fill="#000"/>
<circle cx="268.11" cy="172.40" r="1.20" fill="#000"/>
<circle cx="267.73" cy="174.00" r="1.20" fill="#000"/>
<circle cx="269.19" cy="175.60" r="1.20" fill="#000"/>
<circle cx="266.75" cy="177.20" r="1.20" fill="#000"/>
<circle cx="267.07" cy="179.00" r="1.20" fill="#000"/>
<circle cx="270.49" cy="180.40" r="1.20" fill="#000"/>
<circle cx="268.18" cy="173.20" r="1.20" fill="#000"/>
<circle cx="268.32" cy="171.40" r="1.20" fill="#000"/>
<line x1="277.83" y1="163.45" x2="277.83" y2="169.05" stroke="#111" stroke-width="0.75" />
<line x1="276.03" y1="163.45" x2="279.63" y2="163.45" stroke="#111" stroke-width="0.75" />
<circle cx="275.63" cy="149.60" r="1.20" fill="#000"/>
<circle cx="277.09" cy="162.00" r="1.20" fill="#000"/>
<circle cx="278.56" cy="167.20" r="1.20" fill="#000"/>
<circle cx="280.03" cy="168.40" r="1.20" fill="#000"/>
<line x1="287.45" y1="159.85" x2="287.45" y2="162.65" stroke="#111" stroke-width="0.75" />
<line x1="285.65" y1="159.85" x2="289.25" y2="159.85" stroke="#111" stroke-width="0.75" />
<circle cx="285.25" cy="155.40" r="1.20" fill="#000"/>
<circle cx="286.72" cy="160.20" r="1.20" fill="#000"/>
<circle cx="288.18" cy="162.40" r="1.20" fill="#000"/>
<circle cx="289.65" cy="163.00" r="1.20" fill="#000"/>
<line x1="237.00" y1="147.50" x2="270.00" y2="147.50" stroke="#555a66" stroke-width="0.8" />
<text x="253.50" y="149.70" font-size="7" text-anchor="middle" fill="#333" >*</text>
<line x1="237.50" y1="162.50" x2="246.25" y2="162.50" stroke="#555a66" stroke-width="0.8" />
<text x="241.88" y="164.70" font-size="7" text-anchor="middle" fill="#333" >*</text>
<line x1="260.50" y1="149.50" x2="268.75" y2="149.50" stroke="#555a66" stroke-width="0.8" />
<text x="264.62" y="151.70" font-size="7" text-anchor="middle" fill="#333" >**</text>
<line x1="269.50" y1="147.00" x2="278.25" y2="147.00" stroke="#555a66" stroke-width="0.8" />
<text x="273.88" y="149.20" font-size="7" text-anchor="middle" fill="#333" >*</text>
<line x1="269.50" y1="143.75" x2="287.50" y2="143.75" stroke="#555a66" stroke-width="0.8" />
<text x="278.50" y="145.95" font-size="7" text-anchor="middle" fill="#333" >**</text>
<text x="236.82" y="196.15" font-size="6.2" text-anchor="middle" fill="#111" transform="rotate(-45 236.82 196.15)" >–</text>
<text x="246.32" y="196.95" font-size="6.4" text-anchor="middle" fill="#111" >×</text>
<text x="258.58" y="196.15" font-size="6.2" text-anchor="middle" fill="#111" transform="rotate(-45 258.58 196.15)" >–</text>
<text x="268.08" y="196.95" font-size="6.4" text-anchor="middle" fill="#111" >×</text>
<text x="279.73" y="193.55" font-size="5.8" text-anchor="end" fill="#222" transform="rotate(-48 279.73 193.55)" >IL-4</text>
<text x="267.83" y="204.25" font-size="6.4" text-anchor="middle" fill="#111" >×</text>
<text x="289.35" y="193.55" font-size="5.8" text-anchor="end" fill="#222" transform="rotate(-48 289.35 193.55)" >Pio</text>
<text x="278.85" y="203.25" font-size="6.4" text-anchor="middle" fill="#111" >×</text>
<text x="293.00" y="194.75" font-size="6.3" text-anchor="start" fill="#231f20" textLength="16.50" lengthAdjust="spacingAndGlyphs" >Heme</text>
<line x1="253.25" y1="207.50" x2="291.25" y2="207.50" stroke="#333" stroke-width="0.9" />
<text x="272.25" y="215.70" font-size="6.6" text-anchor="middle" fill="#231f20" >+ACs</text>
<text x="374.50" y="32.60" font-size="9.4" text-anchor="start" fill="#000" font-weight="bold" >ii</text>
<text x="392.64" y="71.95" font-size="9.2" text-anchor="middle" fill="#231f20" stroke="#231f20" stroke-width="0.1" transform="rotate(-90 392.64 71.95)" textLength="56.50" lengthAdjust="spacingAndGlyphs">MFI (fold change)</text>
<text x="429.00" y="37.40" font-size="8.7" text-anchor="middle" fill="#231f20" >TNFα</text>
<text x="479.00" y="37.40" font-size="8.7" text-anchor="middle" fill="#231f20" >IFNγ</text>
<rect x="407.50" y="79.00" width="8.50" height="18.00" fill="#4cb83c" />
<rect x="417.60" y="67.60" width="8.60" height="29.40" fill="#17528f" />
<rect x="427.00" y="74.80" width="8.80" height="22.20" fill="#17528f" />
<rect x="437.00" y="72.80" width="8.60" height="24.20" fill="#17528f" />
<rect x="453.00" y="80.60" width="8.70" height="16.40" fill="#4cb83c" />
<rect x="462.90" y="60.40" width="8.90" height="36.60" fill="#17528f" />
<rect x="472.70" y="74.20" width="8.90" height="22.80" fill="#17528f" />
<rect x="482.50" y="61.00" width="9.20" height="36.00" fill="#17528f" />
<line x1="404.80" y1="97.00" x2="497.00" y2="97.00" stroke="#1a1a1a" stroke-width="0.9" />
<line x1="405.20" y1="43.70" x2="405.20" y2="97.40" stroke="#1a1a1a" stroke-width="0.9" />
<line x1="402.00" y1="47.40" x2="405.20" y2="47.40" stroke="#1a1a1a" stroke-width="0.8" />
<text x="401.20" y="49.99" font-size="7.2" text-anchor="end" fill="#231f20" textLength="4.20" lengthAdjust="spacingAndGlyphs" >3</text>
<line x1="402.00" y1="63.80" x2="405.20" y2="63.80" stroke="#1a1a1a" stroke-width="0.8" />
<text x="401.20" y="66.39" font-size="7.2" text-anchor="end" fill="#231f20" textLength="4.20" lengthAdjust="spacingAndGlyphs" >2</text>
<line x1="402.00" y1="80.60" x2="405.20" y2="80.60" stroke="#1a1a1a" stroke-width="0.8" />
<text x="401.20" y="83.19" font-size="7.2" text-anchor="end" fill="#231f20" textLength="4.20" lengthAdjust="spacingAndGlyphs" >1</text>
<line x1="402.00" y1="97.00" x2="405.20" y2="97.00" stroke="#1a1a1a" stroke-width="0.8" />
<text x="401.20" y="99.59" font-size="7.2" text-anchor="end" fill="#231f20" textLength="4.20" lengthAdjust="spacingAndGlyphs" >0</text>
<line x1="411.75" y1="78.00" x2="411.75" y2="80.00" stroke="#111" stroke-width="0.75" />
<line x1="409.75" y1="78.00" x2="413.75" y2="78.00" stroke="#111" stroke-width="0.75" />
<circle cx="409.05" cy="76.60" r="1.25" fill="#000"/>
<circle cx="411.28" cy="78.20" r="1.25" fill="#000"/>
<circle cx="412.19" cy="80.00" r="1.25" fill="#000"/>
<circle cx="409.10" cy="83.40" r="1.25" fill="#000"/>
<circle cx="412.39" cy="79.20" r="1.25" fill="#000"/>
<line x1="421.90" y1="67.20" x2="421.90" y2="68.00" stroke="#0d3c6e" stroke-width="0.75" />
<line x1="419.90" y1="67.20" x2="423.90" y2="67.20" stroke="#0d3c6e" stroke-width="0.75" />
<circle cx="419.50" cy="67.00" r="1.25" fill="#000"/>
<circle cx="421.90" cy="67.80" r="1.25" fill="#000"/>
<circle cx="424.30" cy="67.40" r="1.25" fill="#000"/>
<line x1="431.40" y1="74.00" x2="431.40" y2="75.60" stroke="#0d3c6e" stroke-width="0.75" />
<line x1="429.40" y1="74.00" x2="433.40" y2="74.00" stroke="#0d3c6e" stroke-width="0.75" />
<circle cx="429.00" cy="73.00" r="1.25" fill="#000"/>
<circle cx="431.40" cy="75.40" r="1.25" fill="#000"/>
<circle cx="433.80" cy="74.60" r="1.25" fill="#000"/>
<line x1="441.30" y1="71.60" x2="441.30" y2="74.00" stroke="#0d3c6e" stroke-width="0.75" />
<line x1="439.30" y1="71.60" x2="443.30" y2="71.60" stroke="#0d3c6e" stroke-width="0.75" />
<circle cx="438.90" cy="69.40" r="1.25" fill="#000"/>
<circle cx="441.30" cy="73.20" r="1.25" fill="#000"/>
<circle cx="443.70" cy="73.80" r="1.25" fill="#000"/>
<line x1="457.35" y1="79.10" x2="457.35" y2="82.10" stroke="#111" stroke-width="0.75" />
<line x1="455.35" y1="79.10" x2="459.35" y2="79.10" stroke="#111" stroke-width="0.75" />
<circle cx="454.95" cy="77.40" r="1.25" fill="#000"/>
<circle cx="456.55" cy="80.20" r="1.25" fill="#000"/>
<circle cx="458.15" cy="84.40" r="1.25" fill="#000"/>
<circle cx="459.75" cy="81.00" r="1.25" fill="#000"/>
<line x1="467.35" y1="57.00" x2="467.35" y2="63.80" stroke="#0d3c6e" stroke-width="0.75" />
<line x1="465.35" y1="57.00" x2="469.35" y2="57.00" stroke="#0d3c6e" stroke-width="0.75" />
<circle cx="464.95" cy="49.60" r="1.25" fill="#000"/>
<circle cx="467.35" cy="61.40" r="1.25" fill="#000"/>
<circle cx="469.75" cy="63.20" r="1.25" fill="#000"/>
<line x1="477.15" y1="73.80" x2="477.15" y2="74.60" stroke="#0d3c6e" stroke-width="0.75" />
<line x1="475.15" y1="73.80" x2="479.15" y2="73.80" stroke="#0d3c6e" stroke-width="0.75" />
<circle cx="474.75" cy="73.80" r="1.25" fill="#000"/>
<circle cx="477.15" cy="74.40" r="1.25" fill="#000"/>
<circle cx="479.55" cy="74.00" r="1.25" fill="#000"/>
<line x1="487.10" y1="57.80" x2="487.10" y2="64.20" stroke="#0d3c6e" stroke-width="0.75" />
<line x1="485.10" y1="57.80" x2="489.10" y2="57.80" stroke="#0d3c6e" stroke-width="0.75" />
<circle cx="484.70" cy="55.80" r="1.25" fill="#000"/>
<circle cx="487.10" cy="57.20" r="1.25" fill="#000"/>
<circle cx="489.50" cy="68.40" r="1.25" fill="#000"/>
<line x1="411.80" y1="64.70" x2="421.90" y2="64.70" stroke="#555a66" stroke-width="0.8" />
<text x="416.85" y="66.90" font-size="7" text-anchor="middle" fill="#333" >****</text>
<line x1="424.00" y1="58.00" x2="432.00" y2="58.00" stroke="#555a66" stroke-width="0.8" />
<text x="428.00" y="60.20" font-size="7" text-anchor="middle" fill="#333" >**</text>
<line x1="424.00" y1="51.70" x2="442.10" y2="51.70" stroke="#555a66" stroke-width="0.8" />
<text x="433.05" y="53.90" font-size="7" text-anchor="middle" fill="#333" >*</text>
<line x1="457.40" y1="48.00" x2="466.60" y2="48.00" stroke="#555a66" stroke-width="0.8" />
<text x="462.00" y="50.20" font-size="7" text-anchor="middle" fill="#333" >**</text>
<line x1="469.50" y1="49.70" x2="488.30" y2="49.70" stroke="#555a66" stroke-width="0.8" />
<text x="478.90" y="51.90" font-size="7" text-anchor="middle" fill="#333" >*</text>
<line x1="469.50" y1="53.20" x2="478.20" y2="53.20" stroke="#555a66" stroke-width="0.8" />
<text x="473.85" y="55.40" font-size="7" text-anchor="middle" fill="#333" >*</text>
<text x="414.25" y="104.20" font-size="6.9" text-anchor="end" fill="#222" transform="rotate(-48 414.25 104.20)" >HbA</text>
<text x="422.90" y="105.40" font-size="7.0" text-anchor="end" fill="#222" transform="rotate(-48 422.90 105.40)" >–</text>
<text x="433.90" y="104.20" font-size="6.9" text-anchor="end" fill="#222" transform="rotate(-48 433.90 104.20)" >IL-4</text>
<text x="443.80" y="104.20" font-size="6.9" text-anchor="end" fill="#222" transform="rotate(-48 443.80 104.20)" >Pio</text>
<line x1="417.60" y1="115.60" x2="445.60" y2="115.60" stroke="#333" stroke-width="0.9" />
<text x="431.60" y="123.20" font-size="6.6" text-anchor="middle" fill="#231f20" >HbS</text>
<text x="459.85" y="104.20" font-size="6.9" text-anchor="end" fill="#222" transform="rotate(-48 459.85 104.20)" >HbA</text>
<text x="468.35" y="105.40" font-size="7.0" text-anchor="end" fill="#222" transform="rotate(-48 468.35 105.40)" >–</text>
<text x="479.65" y="104.20" font-size="6.9" text-anchor="end" fill="#222" transform="rotate(-48 479.65 104.20)" >IL-4</text>
<text x="489.60" y="104.20" font-size="6.9" text-anchor="end" fill="#222" transform="rotate(-48 489.60 104.20)" >Pio</text>
<line x1="462.90" y1="115.60" x2="491.70" y2="115.60" stroke="#333" stroke-width="0.9" />
<text x="477.30" y="123.20" font-size="6.6" text-anchor="middle" fill="#231f20" >HbS</text>
<text x="392.64" y="173.05" font-size="9.2" text-anchor="middle" fill="#231f20" stroke="#231f20" stroke-width="0.1" transform="rotate(-90 392.64 173.05)" textLength="56.50" lengthAdjust="spacingAndGlyphs">MFI (fold change)</text>
<text x="430.00" y="142.40" font-size="8.7" text-anchor="middle" fill="#231f20" >IL-4</text>
<text x="479.60" y="142.40" font-size="8.7" text-anchor="middle" fill="#231f20" >IL-10</text>
<rect x="407.50" y="186.40" width="8.50" height="15.60" fill="#4cb83c" />
<rect x="417.60" y="176.00" width="8.60" height="26.00" fill="#17528f" />
<rect x="427.00" y="180.40" width="8.80" height="21.60" fill="#17528f" />
<rect x="437.00" y="174.90" width="8.60" height="27.10" fill="#17528f" />
<rect x="453.00" y="186.40" width="8.70" height="15.60" fill="#4cb83c" />
<rect x="462.90" y="171.10" width="8.90" height="30.90" fill="#17528f" />
<rect x="472.70" y="176.00" width="8.90" height="26.00" fill="#17528f" />
<rect x="482.50" y="170.60" width="9.20" height="31.40" fill="#17528f" />
<line x1="404.80" y1="202.00" x2="497.00" y2="202.00" stroke="#1a1a1a" stroke-width="0.9" />
<line x1="405.20" y1="140.90" x2="405.20" y2="202.40" stroke="#1a1a1a" stroke-width="0.9" />
<line x1="402.00" y1="144.60" x2="405.20" y2="144.60" stroke="#1a1a1a" stroke-width="0.8" />
<text x="401.20" y="147.19" font-size="7.2" text-anchor="end" fill="#231f20" textLength="4.20" lengthAdjust="spacingAndGlyphs" >4</text>
<line x1="402.00" y1="158.70" x2="405.20" y2="158.70" stroke="#1a1a1a" stroke-width="0.8" />
<text x="401.20" y="161.29" font-size="7.2" text-anchor="end" fill="#231f20" textLength="4.20" lengthAdjust="spacingAndGlyphs" >3</text>
<line x1="402.00" y1="173.20" x2="405.20" y2="173.20" stroke="#1a1a1a" stroke-width="0.8" />
<text x="401.20" y="175.79" font-size="7.2" text-anchor="end" fill="#231f20" textLength="4.20" lengthAdjust="spacingAndGlyphs" >2</text>
<line x1="402.00" y1="187.60" x2="405.20" y2="187.60" stroke="#1a1a1a" stroke-width="0.8" />
<text x="401.20" y="190.19" font-size="7.2" text-anchor="end" fill="#231f20" textLength="4.20" lengthAdjust="spacingAndGlyphs" >1</text>
<line x1="402.00" y1="202.00" x2="405.20" y2="202.00" stroke="#1a1a1a" stroke-width="0.8" />
<text x="401.20" y="204.59" font-size="7.2" text-anchor="end" fill="#231f20" textLength="4.20" lengthAdjust="spacingAndGlyphs" >0</text>
<line x1="411.75" y1="185.60" x2="411.75" y2="187.20" stroke="#111" stroke-width="0.75" />
<line x1="409.75" y1="185.60" x2="413.75" y2="185.60" stroke="#111" stroke-width="0.75" />
<circle cx="412.48" cy="184.60" r="1.25" fill="#000"/>
<circle cx="409.32" cy="186.00" r="1.25" fill="#000"/>
<circle cx="412.45" cy="187.20" r="1.25" fill="#000"/>
<circle cx="411.56" cy="190.60" r="1.25" fill="#000"/>
<circle cx="412.74" cy="186.40" r="1.25" fill="#000"/>
<circle cx="410.94" cy="185.40" r="1.25" fill="#000"/>
<line x1="421.90" y1="173.40" x2="421.90" y2="178.60" stroke="#0d3c6e" stroke-width="0.75" />
<line x1="419.90" y1="173.40" x2="423.90" y2="173.40" stroke="#0d3c6e" stroke-width="0.75" />
<circle cx="423.04" cy="161.80" r="1.25" fill="#000"/>
<circle cx="423.21" cy="169.20" r="1.25" fill="#000"/>
<circle cx="419.26" cy="175.40" r="1.25" fill="#000"/>
<circle cx="419.47" cy="178.40" r="1.25" fill="#000"/>
<circle cx="422.87" cy="181.60" r="1.25" fill="#000"/>
<circle cx="424.46" cy="184.00" r="1.25" fill="#000"/>
<line x1="431.40" y1="178.60" x2="431.40" y2="182.20" stroke="#0d3c6e" stroke-width="0.75" />
<line x1="429.40" y1="178.60" x2="433.40" y2="178.60" stroke="#0d3c6e" stroke-width="0.75" />
<circle cx="429.00" cy="174.60" r="1.25" fill="#000"/>
<circle cx="430.60" cy="178.80" r="1.25" fill="#000"/>
<circle cx="432.20" cy="182.20" r="1.25" fill="#000"/>
<circle cx="433.80" cy="184.60" r="1.25" fill="#000"/>
<line x1="441.30" y1="174.00" x2="441.30" y2="175.80" stroke="#0d3c6e" stroke-width="0.75" />
<line x1="439.30" y1="174.00" x2="443.30" y2="174.00" stroke="#0d3c6e" stroke-width="0.75" />
<circle cx="438.90" cy="172.60" r="1.25" fill="#000"/>
<circle cx="441.30" cy="174.80" r="1.25" fill="#000"/>
<circle cx="443.70" cy="175.80" r="1.25" fill="#000"/>
<line x1="457.35" y1="185.20" x2="457.35" y2="187.60" stroke="#111" stroke-width="0.75" />
<line x1="455.35" y1="185.20" x2="459.35" y2="185.20" stroke="#111" stroke-width="0.75" />
<circle cx="455.98" cy="182.40" r="1.25" fill="#000"/>
<circle cx="457.11" cy="185.60" r="1.25" fill="#000"/>
<circle cx="457.86" cy="187.00" r="1.25" fill="#000"/>
<circle cx="456.36" cy="190.20" r="1.25" fill="#000"/>
<circle cx="456.60" cy="186.60" r="1.25" fill="#000"/>
<line x1="467.35" y1="168.20" x2="467.35" y2="174.00" stroke="#0d3c6e" stroke-width="0.75" />
<line x1="465.35" y1="168.20" x2="469.35" y2="168.20" stroke="#0d3c6e" stroke-width="0.75" />
<circle cx="466.32" cy="152.80" r="1.25" fill="#000"/>
<circle cx="466.63" cy="163.20" r="1.25" fill="#000"/>
<circle cx="467.88" cy="169.80" r="1.25" fill="#000"/>
<circle cx="466.25" cy="173.40" r="1.25" fill="#000"/>
<circle cx="466.67" cy="176.20" r="1.25" fill="#000"/>
<circle cx="468.85" cy="178.60" r="1.25" fill="#000"/>
<circle cx="464.74" cy="172.00" r="1.25" fill="#000"/>
<line x1="477.15" y1="174.60" x2="477.15" y2="177.40" stroke="#0d3c6e" stroke-width="0.75" />
<line x1="475.15" y1="174.60" x2="479.15" y2="174.60" stroke="#0d3c6e" stroke-width="0.75" />
<circle cx="477.53" cy="168.20" r="1.25" fill="#000"/>
<circle cx="478.45" cy="174.80" r="1.25" fill="#000"/>
<circle cx="476.10" cy="176.60" r="1.25" fill="#000"/>
<circle cx="475.62" cy="178.80" r="1.25" fill="#000"/>
<circle cx="478.83" cy="177.40" r="1.25" fill="#000"/>
<line x1="487.10" y1="169.80" x2="487.10" y2="171.40" stroke="#0d3c6e" stroke-width="0.75" />
<line x1="485.10" y1="169.80" x2="489.10" y2="169.80" stroke="#0d3c6e" stroke-width="0.75" />
<circle cx="484.70" cy="168.60" r="1.25" fill="#000"/>
<circle cx="487.10" cy="170.80" r="1.25" fill="#000"/>
<circle cx="489.50" cy="171.60" r="1.25" fill="#000"/>
<line x1="458.00" y1="150.40" x2="466.60" y2="150.40" stroke="#555a66" stroke-width="0.8" />
<text x="462.30" y="152.60" font-size="7" text-anchor="middle" fill="#333" >**</text>
<line x1="469.50" y1="148.00" x2="488.30" y2="148.00" stroke="#555a66" stroke-width="0.8" />
<text x="478.90" y="150.20" font-size="7" text-anchor="middle" fill="#333" >*</text>
<line x1="469.50" y1="153.00" x2="479.00" y2="153.00" stroke="#555a66" stroke-width="0.8" />
<text x="474.25" y="155.20" font-size="7" text-anchor="middle" fill="#333" >*</text>
<text x="414.25" y="209.20" font-size="6.9" text-anchor="end" fill="#222" transform="rotate(-48 414.25 209.20)" >HbA</text>
<text x="422.90" y="210.40" font-size="7.0" text-anchor="end" fill="#222" transform="rotate(-48 422.90 210.40)" >–</text>
<text x="433.90" y="209.20" font-size="6.9" text-anchor="end" fill="#222" transform="rotate(-48 433.90 209.20)" >IL-4</text>
<text x="443.80" y="209.20" font-size="6.9" text-anchor="end" fill="#222" transform="rotate(-48 443.80 209.20)" >Pio</text>
<line x1="417.60" y1="220.40" x2="445.60" y2="220.40" stroke="#333" stroke-width="0.9" />
<text x="431.60" y="228.00" font-size="6.6" text-anchor="middle" fill="#231f20" >HbS</text>
<text x="459.85" y="209.20" font-size="6.9" text-anchor="end" fill="#222" transform="rotate(-48 459.85 209.20)" >HbA</text>
<text x="468.35" y="210.40" font-size="7.0" text-anchor="end" fill="#222" transform="rotate(-48 468.35 210.40)" >–</text>
<text x="479.65" y="209.20" font-size="6.9" text-anchor="end" fill="#222" transform="rotate(-48 479.65 209.20)" >IL-4</text>
<text x="489.60" y="209.20" font-size="6.9" text-anchor="end" fill="#222" transform="rotate(-48 489.60 209.20)" >Pio</text>
<line x1="462.90" y1="220.40" x2="491.70" y2="220.40" stroke="#333" stroke-width="0.9" />
<text x="477.30" y="228.00" font-size="6.6" text-anchor="middle" fill="#231f20" >HbS</text>
<text x="6.20" y="243.20" font-size="11.4" text-anchor="start" fill="#000" font-weight="bold" >B</text>
<text x="21.40" y="257.00" font-size="9.4" text-anchor="start" fill="#000" font-weight="bold" >i</text>
<text x="50.40" y="256.40" font-size="8.3" text-anchor="start" fill="#231f20" textLength="155.50" lengthAdjust="spacingAndGlyphs" >Efferocytosis in a model of hepatotoxicity</text>
<rect x="27.5" y="263.4" width="205.8" height="70" fill="#fff" stroke="#2a2a2a" stroke-width="1"/>
<line x1="60.50" y1="294.80" x2="197.30" y2="294.80" stroke="#222" stroke-width="1.2" />
<line x1="63.50" y1="294.80" x2="63.50" y2="297.70" stroke="#222" stroke-width="1.0" />
<text x="63.80" y="293.00" font-size="6.6" text-anchor="middle" fill="#231f20" font-style="italic" >0</text>
<line x1="98.40" y1="294.80" x2="98.40" y2="297.70" stroke="#222" stroke-width="1.0" />
<text x="98.70" y="293.00" font-size="6.6" text-anchor="middle" fill="#231f20" font-style="italic" >1</text>
<line x1="128.70" y1="294.80" x2="128.70" y2="297.70" stroke="#222" stroke-width="1.0" />
<text x="129.00" y="293.00" font-size="6.6" text-anchor="middle" fill="#231f20" font-style="italic" >2</text>
<line x1="164.00" y1="294.80" x2="164.00" y2="297.70" stroke="#222" stroke-width="1.0" />
<text x="164.30" y="293.00" font-size="6.6" text-anchor="middle" fill="#231f20" font-style="italic" >3</text>
<line x1="194.40" y1="294.80" x2="194.40" y2="297.70" stroke="#222" stroke-width="1.0" />
<text x="194.70" y="293.00" font-size="6.6" text-anchor="middle" fill="#231f20" font-style="italic" >4</text>
<text x="38.10" y="293.30" font-size="6.6" text-anchor="start" fill="#231f20" font-style="italic" textLength="10.30" lengthAdjust="spacingAndGlyphs" >Day</text>
<text x="76.40" y="271.00" font-size="6.8" text-anchor="start" fill="#231f20" textLength="27.30" lengthAdjust="spacingAndGlyphs" >Collection</text>
<text x="76.40" y="279.00" font-size="6.8" text-anchor="start" fill="#231f20" textLength="14.80" lengthAdjust="spacingAndGlyphs" >Day 1</text>
<path d="M97.50 275.00H99.30V282.00H101.40L98.40 286.20L95.40 282.00H97.50Z" fill="#111"/>
<text x="171.30" y="271.00" font-size="6.8" text-anchor="start" fill="#231f20" textLength="27.40" lengthAdjust="spacingAndGlyphs" >Collection</text>
<text x="171.30" y="279.00" font-size="6.8" text-anchor="start" fill="#231f20" textLength="15.40" lengthAdjust="spacingAndGlyphs" >Day 4</text>
<path d="M193.50 275.00H195.30V282.00H197.40L194.40 286.20L191.40 282.00H193.50Z" fill="#111"/>
<path d="M97.60 320.00H99.60V308.60H101.80L98.60 304.00L95.40 308.60H97.60Z" fill="#111"/>
<path d="M128.00 320.00H130.00V308.60H132.20L129.00 304.00L125.80 308.60H128.00Z" fill="#111"/>
<path d="M162.80 320.00H164.80V308.60H167.00L163.80 304.00L160.60 308.60H162.80Z" fill="#111"/>
<text x="37.20" y="308.00" font-size="6.8" text-anchor="start" fill="#231f20" textLength="50.60" lengthAdjust="spacingAndGlyphs" >IP TAA (100mg/kg)</text>
<text x="30.00" y="316.10" font-size="6.8" text-anchor="start" fill="#231f20" textLength="63.60" lengthAdjust="spacingAndGlyphs" >+/– IV Heme (70µM/kg)</text>
<text x="90.80" y="329.60" font-size="6.8" text-anchor="start" fill="#231f20" textLength="83.80" lengthAdjust="spacingAndGlyphs" >IP Pioglitazone (10mg/kg/day)</text>
<text x="187.10" y="306.90" font-size="6.8" text-anchor="start" fill="#231f20" textLength="28.00" lengthAdjust="spacingAndGlyphs" >Analysis of</text>
<text x="171.30" y="314.70" font-size="6.8" text-anchor="start" fill="#231f20" textLength="59.10" lengthAdjust="spacingAndGlyphs" >Engulfing Phagocytes</text>
<text x="171.30" y="322.90" font-size="6.8" text-anchor="start" fill="#231f20" textLength="58.50" lengthAdjust="spacingAndGlyphs" >&amp; Apoptotic damage</text>
<line x1="48.87" y1="278.21" x2="46.73" y2="280.59" stroke="#444" stroke-width="0.7" />
<line x1="47.80" y1="279.40" x2="49.56" y2="280.98" stroke="#444" stroke-width="0.6" />
<polygon points="50.18,279.86 55.90,285.00 54.22,286.86 48.50,281.72" fill="#f1f1f1" stroke="#444" stroke-width="0.6"/>
<line x1="51.46" y1="281.08" x2="50.59" y2="282.05" stroke="#666" stroke-width="0.35" />
<line x1="52.56" y1="282.07" x2="51.69" y2="283.04" stroke="#666" stroke-width="0.35" />
<line x1="53.66" y1="283.06" x2="52.79" y2="284.03" stroke="#666" stroke-width="0.35" />
<line x1="54.76" y1="284.05" x2="53.89" y2="285.02" stroke="#666" stroke-width="0.35" />
<line x1="55.06" y1="285.93" x2="58.80" y2="289.30" stroke="#222" stroke-width="0.7" />
<line x1="81.66" y1="278.80" x2="79.54" y2="281.20" stroke="#444" stroke-width="0.7" />
<line x1="80.60" y1="280.00" x2="82.52" y2="281.70" stroke="#444" stroke-width="0.6" />
<polygon points="83.11,280.55 89.35,286.06 87.69,287.93 81.45,282.42" fill="#f1f1f1" stroke="#444" stroke-width="0.6"/>
<line x1="84.51" y1="281.86" x2="83.65" y2="282.83" stroke="#666" stroke-width="0.35" />
<line x1="85.71" y1="282.92" x2="84.85" y2="283.89" stroke="#666" stroke-width="0.35" />
<line x1="86.91" y1="283.98" x2="86.05" y2="284.95" stroke="#666" stroke-width="0.35" />
<line x1="88.11" y1="285.04" x2="87.25" y2="286.01" stroke="#666" stroke-width="0.35" />
<line x1="88.52" y1="287.00" x2="92.60" y2="290.60" stroke="#222" stroke-width="0.7" />
<line x1="113.94" y1="278.78" x2="111.86" y2="281.22" stroke="#444" stroke-width="0.7" />
<line x1="112.90" y1="280.00" x2="114.88" y2="281.70" stroke="#444" stroke-width="0.6" />
<polygon points="115.45,280.53 121.90,286.05 120.27,287.95 113.82,282.43" fill="#f1f1f1" stroke="#444" stroke-width="0.6"/>
<line x1="116.90" y1="281.84" x2="116.06" y2="282.83" stroke="#666" stroke-width="0.35" />
<line x1="118.14" y1="282.90" x2="117.30" y2="283.89" stroke="#666" stroke-width="0.35" />
<line x1="119.38" y1="283.96" x2="118.54" y2="284.95" stroke="#666" stroke-width="0.35" />
<line x1="120.62" y1="285.02" x2="119.78" y2="286.01" stroke="#666" stroke-width="0.35" />
<line x1="121.08" y1="287.00" x2="125.30" y2="290.60" stroke="#222" stroke-width="0.7" />
<line x1="147.79" y1="279.74" x2="145.81" y2="282.26" stroke="#444" stroke-width="0.7" />
<line x1="146.80" y1="281.00" x2="148.75" y2="282.54" stroke="#444" stroke-width="0.6" />
<polygon points="149.28,281.36 155.62,286.35 154.08,288.32 147.74,283.33" fill="#f1f1f1" stroke="#444" stroke-width="0.6"/>
<line x1="150.71" y1="282.55" x2="149.91" y2="283.57" stroke="#666" stroke-width="0.35" />
<line x1="151.93" y1="283.51" x2="151.13" y2="284.53" stroke="#666" stroke-width="0.35" />
<line x1="153.15" y1="284.47" x2="152.35" y2="285.49" stroke="#666" stroke-width="0.35" />
<line x1="154.37" y1="285.43" x2="153.57" y2="286.45" stroke="#666" stroke-width="0.35" />
<line x1="154.85" y1="287.34" x2="159.00" y2="290.60" stroke="#222" stroke-width="0.7" />
<path d="M201.20 285.59 L202.21 283.24 L204.66 283.04 L205.52 281.51 L207.97 281.00 L209.84 282.02 L212.43 281.71 L214.59 283.86 L215.60 286.61 L214.16 288.14 L213.01 290.49 L210.13 289.98 L208.40 291.20 L205.81 290.38 L204.37 288.34 L201.92 287.73Z" fill="#2a8b72" stroke="#1c6a57" stroke-width="1.0" stroke-linejoin="round"/>
<path d="M204.08 285.59 L206.96 284.57 L209.12 286.10 L212.00 284.57 M206.24 288.34 L209.12 287.73 L212.00 288.14" fill="none" stroke="#3a9c84" stroke-width="0.5"/>
<path d="M226.40 291.57 L225.39 289.13 L222.94 288.92 L222.08 287.33 L219.63 286.80 L217.76 287.86 L215.17 287.54 L213.01 289.77 L212.00 292.63 L213.44 294.22 L214.59 296.66 L217.47 296.13 L219.20 297.40 L221.79 296.55 L223.23 294.43 L225.68 293.80Z" fill="#2a8b72" stroke="#1c6a57" stroke-width="1.0" stroke-linejoin="round"/>
<path d="M214.88 291.57 L217.76 290.51 L219.92 292.10 L222.80 290.51 M217.04 294.43 L219.92 293.80 L222.80 294.22" fill="none" stroke="#3a9c84" stroke-width="0.5"/>
<text x="301.20" y="257.60" font-size="9.4" text-anchor="start" fill="#000" font-weight="bold" >ii</text>
<text x="315.70" y="257.40" font-size="8.3" text-anchor="start" fill="#231f20" >Efferocytosis - ASPGR<tspan dy="-3" font-size="5.5">+</tspan><tspan dy="3"> Macrophages</tspan></text>
<text x="330.17" y="301.50" font-size="9.6" text-anchor="middle" fill="#231f20" stroke="#231f20" stroke-width="0.1" transform="rotate(-90 330.17 301.50)" textLength="56.50" lengthAdjust="spacingAndGlyphs">% of macrophages</text>
<rect x="357.00" y="279.50" width="11.00" height="55.00" fill="#3aa935" />
<rect x="370.00" y="288.00" width="11.25" height="46.50" fill="#d0062e" />
<rect x="383.25" y="283.25" width="11.25" height="51.25" fill="#d0062e" />
<rect x="398.00" y="317.50" width="11.25" height="17.00" fill="#3aa935" />
<rect x="411.25" y="324.50" width="11.25" height="10.00" fill="#d0062e" />
<rect x="424.50" y="321.25" width="11.00" height="13.25" fill="#d0062e" />
<rect x="352.00" y="304.20" width="90.00" height="3.00" fill="#fff" />
<line x1="350.85" y1="334.50" x2="442.50" y2="334.50" stroke="#1a1a1a" stroke-width="0.9" />
<line x1="351.25" y1="266.80" x2="351.25" y2="303.80" stroke="#1a1a1a" stroke-width="0.9" />
<line x1="351.25" y1="307.40" x2="351.25" y2="334.90" stroke="#1a1a1a" stroke-width="0.9" />
<line x1="348.05" y1="268.25" x2="351.25" y2="268.25" stroke="#1a1a1a" stroke-width="0.8" />
<text x="347.20" y="270.75" font-size="7" text-anchor="end" fill="#231f20" textLength="8.80" lengthAdjust="spacingAndGlyphs" >60</text>
<line x1="348.05" y1="277.00" x2="351.25" y2="277.00" stroke="#1a1a1a" stroke-width="0.8" />
<text x="347.20" y="279.50" font-size="7" text-anchor="end" fill="#231f20" textLength="8.80" lengthAdjust="spacingAndGlyphs" >50</text>
<line x1="348.05" y1="285.75" x2="351.25" y2="285.75" stroke="#1a1a1a" stroke-width="0.8" />
<text x="347.20" y="288.25" font-size="7" text-anchor="end" fill="#231f20" textLength="8.80" lengthAdjust="spacingAndGlyphs" >40</text>
<line x1="348.05" y1="294.50" x2="351.25" y2="294.50" stroke="#1a1a1a" stroke-width="0.8" />
<text x="347.20" y="297.00" font-size="7" text-anchor="end" fill="#231f20" textLength="8.80" lengthAdjust="spacingAndGlyphs" >30</text>
<line x1="348.05" y1="303.00" x2="351.25" y2="303.00" stroke="#1a1a1a" stroke-width="0.8" />
<text x="347.20" y="305.50" font-size="7" text-anchor="end" fill="#231f20" textLength="8.80" lengthAdjust="spacingAndGlyphs" >20</text>
<line x1="348.05" y1="308.20" x2="351.25" y2="308.20" stroke="#1a1a1a" stroke-width="0.8" />
<text x="347.20" y="310.70" font-size="7" text-anchor="end" fill="#231f20" textLength="4.40" lengthAdjust="spacingAndGlyphs" >3</text>
<line x1="348.05" y1="316.90" x2="351.25" y2="316.90" stroke="#1a1a1a" stroke-width="0.8" />
<text x="347.20" y="319.40" font-size="7" text-anchor="end" fill="#231f20" textLength="4.40" lengthAdjust="spacingAndGlyphs" >2</text>
<line x1="348.05" y1="325.60" x2="351.25" y2="325.60" stroke="#1a1a1a" stroke-width="0.8" />
<text x="347.20" y="328.10" font-size="7" text-anchor="end" fill="#231f20" textLength="4.40" lengthAdjust="spacingAndGlyphs" >1</text>
<line x1="348.05" y1="334.50" x2="351.25" y2="334.50" stroke="#1a1a1a" stroke-width="0.8" />
<text x="347.20" y="337.00" font-size="7" text-anchor="end" fill="#231f20" textLength="4.40" lengthAdjust="spacingAndGlyphs" >0</text>
<line x1="362.50" y1="277.90" x2="362.50" y2="281.10" stroke="#111" stroke-width="0.75" />
<line x1="360.30" y1="277.90" x2="364.70" y2="277.90" stroke="#111" stroke-width="0.75" />
<circle cx="362.50" cy="275.40" r="1.50" fill="#000"/>
<circle cx="362.40" cy="279.50" r="1.50" fill="#000"/>
<circle cx="362.60" cy="283.20" r="1.50" fill="#000"/>
<line x1="375.62" y1="287.50" x2="375.62" y2="288.50" stroke="#111" stroke-width="0.75" />
<line x1="373.43" y1="287.50" x2="377.82" y2="287.50" stroke="#111" stroke-width="0.75" />
<circle cx="371.80" cy="287.00" r="1.50" fill="#000"/>
<circle cx="375.60" cy="288.30" r="1.50" fill="#000"/>
<circle cx="379.40" cy="288.30" r="1.50" fill="#000"/>
<line x1="388.88" y1="281.35" x2="388.88" y2="285.15" stroke="#111" stroke-width="0.75" />
<line x1="386.68" y1="281.35" x2="391.07" y2="281.35" stroke="#111" stroke-width="0.75" />
<circle cx="388.80" cy="277.50" r="1.50" fill="#000"/>
<circle cx="388.80" cy="283.70" r="1.50" fill="#000"/>
<circle cx="387.20" cy="287.00" r="1.50" fill="#000"/>
<line x1="403.62" y1="317.00" x2="403.62" y2="318.00" stroke="#111" stroke-width="0.75" />
<line x1="401.43" y1="317.00" x2="405.82" y2="317.00" stroke="#111" stroke-width="0.75" />
<circle cx="399.60" cy="318.00" r="1.50" fill="#000"/>
<circle cx="403.70" cy="316.30" r="1.50" fill="#000"/>
<circle cx="407.50" cy="316.30" r="1.50" fill="#000"/>
<line x1="416.88" y1="323.70" x2="416.88" y2="325.30" stroke="#111" stroke-width="0.75" />
<line x1="414.68" y1="323.70" x2="419.07" y2="323.70" stroke="#111" stroke-width="0.75" />
<circle cx="413.00" cy="321.80" r="1.50" fill="#000"/>
<circle cx="416.80" cy="324.50" r="1.50" fill="#000"/>
<circle cx="420.70" cy="323.80" r="1.50" fill="#000"/>
<line x1="430.00" y1="320.55" x2="430.00" y2="321.95" stroke="#111" stroke-width="0.75" />
<line x1="427.80" y1="320.55" x2="432.20" y2="320.55" stroke="#111" stroke-width="0.75" />
<circle cx="426.30" cy="321.20" r="1.50" fill="#000"/>
<circle cx="430.00" cy="318.80" r="1.50" fill="#000"/>
<circle cx="433.70" cy="320.80" r="1.50" fill="#000"/>
<line x1="362.00" y1="271.25" x2="377.50" y2="271.25" stroke="#555a66" stroke-width="0.8" />
<text x="369.75" y="273.45" font-size="7" text-anchor="middle" fill="#333" >*</text>
<line x1="402.50" y1="312.50" x2="418.75" y2="312.50" stroke="#555a66" stroke-width="0.8" />
<text x="410.62" y="314.70" font-size="7" text-anchor="middle" fill="#333" >*</text>
<text x="356.30" y="343.55" font-size="6.6" text-anchor="end" fill="#231f20" >Heme</text>
<text x="362.50" y="343.55" font-size="6.6" text-anchor="middle" fill="#333" >–</text>
<text x="375.62" y="343.55" font-size="6.6" text-anchor="middle" fill="#333" >+</text>
<text x="388.88" y="343.55" font-size="6.6" text-anchor="middle" fill="#333" >+</text>
<text x="403.62" y="343.55" font-size="6.6" text-anchor="middle" fill="#333" >–</text>
<text x="416.88" y="343.55" font-size="6.6" text-anchor="middle" fill="#333" >+</text>
<text x="430.00" y="343.55" font-size="6.6" text-anchor="middle" fill="#333" >+</text>
<text x="356.30" y="351.55" font-size="6.6" text-anchor="end" fill="#231f20" >Pio</text>
<text x="362.50" y="351.55" font-size="6.6" text-anchor="middle" fill="#333" >–</text>
<text x="375.62" y="351.55" font-size="6.6" text-anchor="middle" fill="#333" >–</text>
<text x="388.88" y="351.55" font-size="6.6" text-anchor="middle" fill="#333" >+</text>
<text x="403.62" y="351.55" font-size="6.6" text-anchor="middle" fill="#333" >–</text>
<text x="416.88" y="351.55" font-size="6.6" text-anchor="middle" fill="#333" >–</text>
<text x="430.00" y="351.55" font-size="6.6" text-anchor="middle" fill="#333" >+</text>
<line x1="357.50" y1="355.00" x2="395.00" y2="355.00" stroke="#333" stroke-width="0.9" />
<line x1="397.50" y1="355.00" x2="435.50" y2="355.00" stroke="#333" stroke-width="0.9" />
<text x="376.25" y="364.10" font-size="6.8" text-anchor="middle" fill="#231f20" >Resident</text>
<text x="416.75" y="364.10" font-size="6.8" text-anchor="middle" fill="#231f20" >Recruited</text>
<text x="396.25" y="377.00" font-size="9.6" text-anchor="middle" fill="#231f20" textLength="36.00" lengthAdjust="spacingAndGlyphs" fill-opacity="0.85">Phagocytes</text>
<text x="7.20" y="355.40" font-size="9.4" text-anchor="start" fill="#000" font-weight="bold" >iii</text>
<text x="48.80" y="355.30" font-size="8.3" text-anchor="start" fill="#231f20" textLength="87.50" lengthAdjust="spacingAndGlyphs" >Efferocytosis Receptors</text>
<text x="71.75" y="367.60" font-size="8.7" text-anchor="middle" fill="#231f20" >TIM4</text>
<text x="24.50" y="400.95" font-size="9.4" text-anchor="middle" fill="#231f20" stroke="#231f20" stroke-width="0.1" transform="rotate(-90 24.50 400.95)" textLength="55.00" lengthAdjust="spacingAndGlyphs">MFI (fold change)</text>
<line x1="57.00" y1="392.00" x2="57.00" y2="420.00" stroke="#5a5a5a" stroke-width="0.6" />
<line x1="55.50" y1="392.00" x2="58.50" y2="392.00" stroke="#5a5a5a" stroke-width="0.5" />
<line x1="55.50" y1="399.00" x2="58.50" y2="399.00" stroke="#5a5a5a" stroke-width="0.5" />
<line x1="55.50" y1="406.00" x2="58.50" y2="406.00" stroke="#5a5a5a" stroke-width="0.5" />
<line x1="55.50" y1="413.00" x2="58.50" y2="413.00" stroke="#5a5a5a" stroke-width="0.5" />
<line x1="55.50" y1="420.00" x2="58.50" y2="420.00" stroke="#5a5a5a" stroke-width="0.5" />
<line x1="90.00" y1="371.25" x2="90.00" y2="424.50" stroke="#5a5a5a" stroke-width="0.6" />
<line x1="88.50" y1="371.25" x2="91.50" y2="371.25" stroke="#5a5a5a" stroke-width="0.5" />
<line x1="88.50" y1="377.91" x2="91.50" y2="377.91" stroke="#5a5a5a" stroke-width="0.5" />
<line x1="88.50" y1="384.56" x2="91.50" y2="384.56" stroke="#5a5a5a" stroke-width="0.5" />
<line x1="88.50" y1="391.22" x2="91.50" y2="391.22" stroke="#5a5a5a" stroke-width="0.5" />
<line x1="88.50" y1="397.88" x2="91.50" y2="397.88" stroke="#5a5a5a" stroke-width="0.5" />
<line x1="88.50" y1="404.53" x2="91.50" y2="404.53" stroke="#5a5a5a" stroke-width="0.5" />
<line x1="88.50" y1="411.19" x2="91.50" y2="411.19" stroke="#5a5a5a" stroke-width="0.5" />
<line x1="88.50" y1="417.84" x2="91.50" y2="417.84" stroke="#5a5a5a" stroke-width="0.5" />
<line x1="88.50" y1="424.50" x2="91.50" y2="424.50" stroke="#5a5a5a" stroke-width="0.5" />
<line x1="57.00" y1="402.50" x2="90.00" y2="389.50" stroke="#3aa935" stroke-width="0.9" />
<line x1="57.00" y1="419.50" x2="90.00" y2="389.50" stroke="#1f4e8c" stroke-width="0.9" />
<line x1="57.00" y1="413.00" x2="90.00" y2="416.75" stroke="#c8102e" stroke-width="0.9" />
<circle cx="57.00" cy="402.50" r="1.25" fill="#3aa935"/>
<circle cx="90.00" cy="389.50" r="1.25" fill="#3aa935"/>
<path d="M55.50 419.50L57.00 418.00L58.50 419.50L57.00 421.00Z" fill="#1f4e8c"/>
<path d="M88.50 389.50L90.00 388.00L91.50 389.50L90.00 391.00Z" fill="#1f4e8c"/>
<circle cx="57.00" cy="413.00" r="1.25" fill="#c8102e"/>
<circle cx="90.00" cy="416.75" r="1.25" fill="#c8102e"/>
<line x1="44.60" y1="428.75" x2="97.50" y2="428.75" stroke="#1a1a1a" stroke-width="0.9" />
<line x1="45.00" y1="373.75" x2="45.00" y2="429.15" stroke="#1a1a1a" stroke-width="0.9" />
<line x1="41.80" y1="376.25" x2="45.00" y2="376.25" stroke="#1a1a1a" stroke-width="0.8" />
<text x="41.20" y="378.70" font-size="6.8" text-anchor="end" fill="#231f20" textLength="10.30" lengthAdjust="spacingAndGlyphs" >1.2</text>
<line x1="41.80" y1="389.50" x2="45.00" y2="389.50" stroke="#1a1a1a" stroke-width="0.8" />
<text x="41.20" y="391.95" font-size="6.8" text-anchor="end" fill="#231f20" textLength="10.30" lengthAdjust="spacingAndGlyphs" >1.1</text>
<line x1="41.80" y1="402.50" x2="45.00" y2="402.50" stroke="#1a1a1a" stroke-width="0.8" />
<text x="41.20" y="404.95" font-size="6.8" text-anchor="end" fill="#231f20" textLength="10.30" lengthAdjust="spacingAndGlyphs" >1.0</text>
<line x1="41.80" y1="415.75" x2="45.00" y2="415.75" stroke="#1a1a1a" stroke-width="0.8" />
<text x="41.20" y="418.20" font-size="6.8" text-anchor="end" fill="#231f20" textLength="10.30" lengthAdjust="spacingAndGlyphs" >0.9</text>
<line x1="41.80" y1="428.75" x2="45.00" y2="428.75" stroke="#1a1a1a" stroke-width="0.8" />
<text x="41.20" y="431.20" font-size="6.8" text-anchor="end" fill="#231f20" textLength="10.30" lengthAdjust="spacingAndGlyphs" >0.8</text>
<line x1="57.00" y1="428.75" x2="57.00" y2="431.95" stroke="#1a1a1a" stroke-width="0.8" />
<text x="57.00" y="440.35" font-size="7" text-anchor="middle" fill="#231f20" >1</text>
<line x1="90.00" y1="428.75" x2="90.00" y2="431.95" stroke="#1a1a1a" stroke-width="0.8" />
<text x="90.00" y="440.35" font-size="7" text-anchor="middle" fill="#231f20" >4</text>
<text x="72.50" y="451.00" font-size="9.6" text-anchor="middle" fill="#231f20" textLength="12.50" lengthAdjust="spacingAndGlyphs" fill-opacity="0.85">Day</text>
<line x1="53.75" y1="403.75" x2="53.75" y2="419.50" stroke="#555a66" stroke-width="0.8" />
<text x="50.40" y="415.00" font-size="7" text-anchor="middle" fill="#333" >*</text>
<line x1="93.75" y1="386.25" x2="93.75" y2="417.50" stroke="#555a66" stroke-width="0.8" />
<text x="97.20" y="406.60" font-size="7" text-anchor="middle" fill="#333" >*</text>
<text x="144.80" y="367.60" font-size="8.7" text-anchor="middle" fill="#231f20" >CD169</text>
<line x1="132.70" y1="407.00" x2="132.70" y2="421.00" stroke="#5a5a5a" stroke-width="0.6" />
<line x1="131.20" y1="407.00" x2="134.20" y2="407.00" stroke="#5a5a5a" stroke-width="0.5" />
<line x1="131.20" y1="414.00" x2="134.20" y2="414.00" stroke="#5a5a5a" stroke-width="0.5" />
<line x1="131.20" y1="421.00" x2="134.20" y2="421.00" stroke="#5a5a5a" stroke-width="0.5" />
<line x1="165.40" y1="372.80" x2="165.40" y2="402.00" stroke="#5a5a5a" stroke-width="0.6" />
<line x1="163.90" y1="372.80" x2="166.90" y2="372.80" stroke="#5a5a5a" stroke-width="0.5" />
<line x1="163.90" y1="380.10" x2="166.90" y2="380.10" stroke="#5a5a5a" stroke-width="0.5" />
<line x1="163.90" y1="387.40" x2="166.90" y2="387.40" stroke="#5a5a5a" stroke-width="0.5" />
<line x1="163.90" y1="394.70" x2="166.90" y2="394.70" stroke="#5a5a5a" stroke-width="0.5" />
<line x1="163.90" y1="402.00" x2="166.90" y2="402.00" stroke="#5a5a5a" stroke-width="0.5" />
<line x1="132.70" y1="412.70" x2="165.40" y2="393.40" stroke="#3aa935" stroke-width="0.9" />
<line x1="132.70" y1="416.20" x2="165.40" y2="381.30" stroke="#1f4e8c" stroke-width="0.9" />
<line x1="132.70" y1="418.80" x2="165.40" y2="400.40" stroke="#c8102e" stroke-width="0.9" />
<circle cx="132.70" cy="412.70" r="1.25" fill="#3aa935"/>
<circle cx="165.40" cy="393.40" r="1.25" fill="#3aa935"/>
<path d="M131.20 416.20L132.70 414.70L134.20 416.20L132.70 417.70Z" fill="#1f4e8c"/>
<path d="M163.90 381.30L165.40 379.80L166.90 381.30L165.40 382.80Z" fill="#1f4e8c"/>
<circle cx="132.70" cy="418.80" r="1.25" fill="#c8102e"/>
<circle cx="165.40" cy="400.40" r="1.25" fill="#c8102e"/>
<line x1="120.85" y1="428.60" x2="170.50" y2="428.60" stroke="#1a1a1a" stroke-width="0.9" />
<line x1="121.25" y1="372.80" x2="121.25" y2="429.00" stroke="#1a1a1a" stroke-width="0.9" />
<line x1="118.05" y1="376.00" x2="121.25" y2="376.00" stroke="#1a1a1a" stroke-width="0.8" />
<text x="117.20" y="378.45" font-size="6.8" text-anchor="end" fill="#231f20" textLength="10.30" lengthAdjust="spacingAndGlyphs" >1.4</text>
<line x1="118.05" y1="393.40" x2="121.25" y2="393.40" stroke="#1a1a1a" stroke-width="0.8" />
<text x="117.20" y="395.85" font-size="6.8" text-anchor="end" fill="#231f20" textLength="10.30" lengthAdjust="spacingAndGlyphs" >1.2</text>
<line x1="118.05" y1="411.00" x2="121.25" y2="411.00" stroke="#1a1a1a" stroke-width="0.8" />
<text x="117.20" y="413.45" font-size="6.8" text-anchor="end" fill="#231f20" textLength="10.30" lengthAdjust="spacingAndGlyphs" >1.0</text>
<line x1="118.05" y1="428.60" x2="121.25" y2="428.60" stroke="#1a1a1a" stroke-width="0.8" />
<text x="117.20" y="431.05" font-size="6.8" text-anchor="end" fill="#231f20" textLength="10.30" lengthAdjust="spacingAndGlyphs" >0.8</text>
<line x1="132.70" y1="428.60" x2="132.70" y2="431.80" stroke="#1a1a1a" stroke-width="0.8" />
<text x="132.70" y="440.20" font-size="7" text-anchor="middle" fill="#231f20" >1</text>
<line x1="165.40" y1="428.60" x2="165.40" y2="431.80" stroke="#1a1a1a" stroke-width="0.8" />
<text x="165.40" y="440.20" font-size="7" text-anchor="middle" fill="#231f20" >4</text>
<text x="148.05" y="451.00" font-size="9.6" text-anchor="middle" fill="#231f20" textLength="12.50" lengthAdjust="spacingAndGlyphs" fill-opacity="0.85">Day</text>
<line x1="168.60" y1="377.70" x2="168.60" y2="399.00" stroke="#555a66" stroke-width="0.8" />
<text x="169.80" y="388.40" font-size="6.6" text-anchor="start" fill="#333" >0.08</text>
<text x="226.50" y="367.60" font-size="8.7" text-anchor="middle" fill="#231f20" >MerTk</text>
<line x1="213.80" y1="403.80" x2="213.80" y2="430.60" stroke="#5a5a5a" stroke-width="0.6" />
<line x1="212.30" y1="403.80" x2="215.30" y2="403.80" stroke="#5a5a5a" stroke-width="0.5" />
<line x1="212.30" y1="410.50" x2="215.30" y2="410.50" stroke="#5a5a5a" stroke-width="0.5" />
<line x1="212.30" y1="417.20" x2="215.30" y2="417.20" stroke="#5a5a5a" stroke-width="0.5" />
<line x1="212.30" y1="423.90" x2="215.30" y2="423.90" stroke="#5a5a5a" stroke-width="0.5" />
<line x1="212.30" y1="430.60" x2="215.30" y2="430.60" stroke="#5a5a5a" stroke-width="0.5" />
<line x1="247.10" y1="380.30" x2="247.10" y2="408.70" stroke="#5a5a5a" stroke-width="0.6" />
<line x1="245.60" y1="380.30" x2="248.60" y2="380.30" stroke="#5a5a5a" stroke-width="0.5" />
<line x1="245.60" y1="387.40" x2="248.60" y2="387.40" stroke="#5a5a5a" stroke-width="0.5" />
<line x1="245.60" y1="394.50" x2="248.60" y2="394.50" stroke="#5a5a5a" stroke-width="0.5" />
<line x1="245.60" y1="401.60" x2="248.60" y2="401.60" stroke="#5a5a5a" stroke-width="0.5" />
<line x1="245.60" y1="408.70" x2="248.60" y2="408.70" stroke="#5a5a5a" stroke-width="0.5" />
<line x1="213.80" y1="422.80" x2="247.10" y2="392.30" stroke="#3aa935" stroke-width="0.9" />
<line x1="213.80" y1="416.00" x2="247.10" y2="393.60" stroke="#1f4e8c" stroke-width="0.9" />
<line x1="213.80" y1="417.20" x2="247.10" y2="407.10" stroke="#c8102e" stroke-width="0.9" />
<circle cx="213.80" cy="422.80" r="1.25" fill="#3aa935"/>
<circle cx="247.10" cy="392.30" r="1.25" fill="#3aa935"/>
<path d="M212.30 416.00L213.80 414.50L215.30 416.00L213.80 417.50Z" fill="#1f4e8c"/>
<path d="M245.60 393.60L247.10 392.10L248.60 393.60L247.10 395.10Z" fill="#1f4e8c"/>
<circle cx="213.80" cy="417.20" r="1.25" fill="#c8102e"/>
<circle cx="247.10" cy="407.10" r="1.25" fill="#c8102e"/>
<line x1="202.60" y1="428.60" x2="251.50" y2="428.60" stroke="#1a1a1a" stroke-width="0.9" />
<line x1="203.00" y1="372.80" x2="203.00" y2="429.00" stroke="#1a1a1a" stroke-width="0.9" />
<line x1="199.80" y1="376.00" x2="203.00" y2="376.00" stroke="#1a1a1a" stroke-width="0.8" />
<text x="198.60" y="378.45" font-size="6.8" text-anchor="end" fill="#231f20" textLength="10.30" lengthAdjust="spacingAndGlyphs" >2.5</text>
<line x1="199.80" y1="391.40" x2="203.00" y2="391.40" stroke="#1a1a1a" stroke-width="0.8" />
<text x="198.60" y="393.85" font-size="6.8" text-anchor="end" fill="#231f20" textLength="10.30" lengthAdjust="spacingAndGlyphs" >2.0</text>
<line x1="199.80" y1="407.10" x2="203.00" y2="407.10" stroke="#1a1a1a" stroke-width="0.8" />
<text x="198.60" y="409.55" font-size="6.8" text-anchor="end" fill="#231f20" textLength="10.30" lengthAdjust="spacingAndGlyphs" >1.5</text>
<line x1="199.80" y1="422.80" x2="203.00" y2="422.80" stroke="#1a1a1a" stroke-width="0.8" />
<text x="198.60" y="425.25" font-size="6.8" text-anchor="end" fill="#231f20" textLength="10.30" lengthAdjust="spacingAndGlyphs" >1.0</text>
<line x1="213.80" y1="428.60" x2="213.80" y2="431.80" stroke="#1a1a1a" stroke-width="0.8" />
<text x="213.80" y="440.20" font-size="7" text-anchor="middle" fill="#231f20" >1</text>
<line x1="247.10" y1="428.60" x2="247.10" y2="431.80" stroke="#1a1a1a" stroke-width="0.8" />
<text x="247.10" y="440.20" font-size="7" text-anchor="middle" fill="#231f20" >4</text>
<text x="229.45" y="451.00" font-size="9.6" text-anchor="middle" fill="#231f20" textLength="12.50" lengthAdjust="spacingAndGlyphs" fill-opacity="0.85">Day</text>
<text x="70.00" y="467.40" font-size="8.7" text-anchor="middle" fill="#231f20" >MARCO</text>
<text x="24.50" y="500.95" font-size="9.4" text-anchor="middle" fill="#231f20" stroke="#231f20" stroke-width="0.1" transform="rotate(-90 24.50 500.95)" textLength="55.00" lengthAdjust="spacingAndGlyphs">MFI (fold change)</text>
<line x1="57.00" y1="483.75" x2="57.00" y2="494.50" stroke="#5a5a5a" stroke-width="0.6" />
<line x1="55.50" y1="483.75" x2="58.50" y2="483.75" stroke="#5a5a5a" stroke-width="0.5" />
<line x1="55.50" y1="489.12" x2="58.50" y2="489.12" stroke="#5a5a5a" stroke-width="0.5" />
<line x1="55.50" y1="494.50" x2="58.50" y2="494.50" stroke="#5a5a5a" stroke-width="0.5" />
<line x1="90.00" y1="475.75" x2="90.00" y2="515.00" stroke="#5a5a5a" stroke-width="0.6" />
<line x1="88.50" y1="475.75" x2="91.50" y2="475.75" stroke="#5a5a5a" stroke-width="0.5" />
<line x1="88.50" y1="482.29" x2="91.50" y2="482.29" stroke="#5a5a5a" stroke-width="0.5" />
<line x1="88.50" y1="488.83" x2="91.50" y2="488.83" stroke="#5a5a5a" stroke-width="0.5" />
<line x1="88.50" y1="495.38" x2="91.50" y2="495.38" stroke="#5a5a5a" stroke-width="0.5" />
<line x1="88.50" y1="501.92" x2="91.50" y2="501.92" stroke="#5a5a5a" stroke-width="0.5" />
<line x1="88.50" y1="508.46" x2="91.50" y2="508.46" stroke="#5a5a5a" stroke-width="0.5" />
<line x1="88.50" y1="515.00" x2="91.50" y2="515.00" stroke="#5a5a5a" stroke-width="0.5" />
<line x1="57.00" y1="491.25" x2="90.00" y2="503.25" stroke="#3aa935" stroke-width="0.9" />
<line x1="57.00" y1="485.25" x2="90.00" y2="490.50" stroke="#1f4e8c" stroke-width="0.9" />
<line x1="57.00" y1="487.50" x2="90.00" y2="511.50" stroke="#c8102e" stroke-width="0.9" />
<circle cx="57.00" cy="491.25" r="1.25" fill="#3aa935"/>
<circle cx="90.00" cy="503.25" r="1.25" fill="#3aa935"/>
<path d="M55.50 485.25L57.00 483.75L58.50 485.25L57.00 486.75Z" fill="#1f4e8c"/>
<path d="M88.50 490.50L90.00 489.00L91.50 490.50L90.00 492.00Z" fill="#1f4e8c"/>
<circle cx="57.00" cy="487.50" r="1.25" fill="#c8102e"/>
<circle cx="90.00" cy="511.50" r="1.25" fill="#c8102e"/>
<line x1="44.60" y1="528.75" x2="97.50" y2="528.75" stroke="#1a1a1a" stroke-width="0.9" />
<line x1="45.00" y1="473.75" x2="45.00" y2="529.15" stroke="#1a1a1a" stroke-width="0.9" />
<line x1="41.80" y1="476.25" x2="45.00" y2="476.25" stroke="#1a1a1a" stroke-width="0.8" />
<text x="41.20" y="478.70" font-size="6.8" text-anchor="end" fill="#231f20" textLength="10.30" lengthAdjust="spacingAndGlyphs" >1.2</text>
<line x1="41.80" y1="491.25" x2="45.00" y2="491.25" stroke="#1a1a1a" stroke-width="0.8" />
<text x="41.20" y="493.70" font-size="6.8" text-anchor="end" fill="#231f20" textLength="10.30" lengthAdjust="spacingAndGlyphs" >1.0</text>
<line x1="41.80" y1="506.25" x2="45.00" y2="506.25" stroke="#1a1a1a" stroke-width="0.8" />
<text x="41.20" y="508.70" font-size="6.8" text-anchor="end" fill="#231f20" textLength="10.30" lengthAdjust="spacingAndGlyphs" >0.8</text>
<line x1="41.80" y1="521.25" x2="45.00" y2="521.25" stroke="#1a1a1a" stroke-width="0.8" />
<text x="41.20" y="523.70" font-size="6.8" text-anchor="end" fill="#231f20" textLength="10.30" lengthAdjust="spacingAndGlyphs" >0.6</text>
<line x1="57.00" y1="528.75" x2="57.00" y2="531.95" stroke="#1a1a1a" stroke-width="0.8" />
<text x="57.00" y="540.35" font-size="7" text-anchor="middle" fill="#231f20" >1</text>
<line x1="90.00" y1="528.75" x2="90.00" y2="531.95" stroke="#1a1a1a" stroke-width="0.8" />
<text x="90.00" y="540.35" font-size="7" text-anchor="middle" fill="#231f20" >4</text>
<text x="72.50" y="553.60" font-size="9.6" text-anchor="middle" fill="#231f20" textLength="12.50" lengthAdjust="spacingAndGlyphs" fill-opacity="0.85">Day</text>
<line x1="53.75" y1="486.25" x2="53.75" y2="492.50" stroke="#555a66" stroke-width="0.8" />
<text x="49.20" y="493.20" font-size="7" text-anchor="middle" fill="#333" >**</text>
<line x1="92.50" y1="491.25" x2="92.50" y2="511.25" stroke="#555a66" stroke-width="0.8" />
<text x="96.60" y="504.60" font-size="7" text-anchor="middle" fill="#333" >**</text>
<text x="144.80" y="467.40" font-size="8.7" text-anchor="middle" fill="#231f20" >CD36</text>
<line x1="132.70" y1="517.00" x2="132.70" y2="528.00" stroke="#5a5a5a" stroke-width="0.6" />
<line x1="131.20" y1="517.00" x2="134.20" y2="517.00" stroke="#5a5a5a" stroke-width="0.5" />
<line x1="131.20" y1="522.50" x2="134.20" y2="522.50" stroke="#5a5a5a" stroke-width="0.5" />
<line x1="131.20" y1="528.00" x2="134.20" y2="528.00" stroke="#5a5a5a" stroke-width="0.5" />
<line x1="165.40" y1="474.30" x2="165.40" y2="504.70" stroke="#5a5a5a" stroke-width="0.6" />
<line x1="163.90" y1="474.30" x2="166.90" y2="474.30" stroke="#5a5a5a" stroke-width="0.5" />
<line x1="163.90" y1="480.38" x2="166.90" y2="480.38" stroke="#5a5a5a" stroke-width="0.5" />
<line x1="163.90" y1="486.46" x2="166.90" y2="486.46" stroke="#5a5a5a" stroke-width="0.5" />
<line x1="163.90" y1="492.54" x2="166.90" y2="492.54" stroke="#5a5a5a" stroke-width="0.5" />
<line x1="163.90" y1="498.62" x2="166.90" y2="498.62" stroke="#5a5a5a" stroke-width="0.5" />
<line x1="163.90" y1="504.70" x2="166.90" y2="504.70" stroke="#5a5a5a" stroke-width="0.5" />
<line x1="132.70" y1="519.40" x2="165.40" y2="493.00" stroke="#3aa935" stroke-width="0.9" />
<line x1="132.70" y1="524.40" x2="165.40" y2="478.00" stroke="#1f4e8c" stroke-width="0.9" />
<line x1="132.70" y1="525.10" x2="165.40" y2="500.00" stroke="#c8102e" stroke-width="0.9" />
<circle cx="132.70" cy="519.40" r="1.25" fill="#3aa935"/>
<circle cx="165.40" cy="493.00" r="1.25" fill="#3aa935"/>
<path d="M131.20 524.40L132.70 522.90L134.20 524.40L132.70 525.90Z" fill="#1f4e8c"/>
<path d="M163.90 478.00L165.40 476.50L166.90 478.00L165.40 479.50Z" fill="#1f4e8c"/>
<circle cx="132.70" cy="525.10" r="1.25" fill="#c8102e"/>
<circle cx="165.40" cy="500.00" r="1.25" fill="#c8102e"/>
<line x1="120.85" y1="528.30" x2="170.50" y2="528.30" stroke="#1a1a1a" stroke-width="0.9" />
<line x1="121.25" y1="472.00" x2="121.25" y2="528.70" stroke="#1a1a1a" stroke-width="0.9" />
<line x1="118.05" y1="475.30" x2="121.25" y2="475.30" stroke="#1a1a1a" stroke-width="0.8" />
<text x="117.20" y="477.75" font-size="6.8" text-anchor="end" fill="#231f20" textLength="10.30" lengthAdjust="spacingAndGlyphs" >3.5</text>
<line x1="118.05" y1="484.10" x2="121.25" y2="484.10" stroke="#1a1a1a" stroke-width="0.8" />
<text x="117.20" y="486.55" font-size="6.8" text-anchor="end" fill="#231f20" textLength="10.30" lengthAdjust="spacingAndGlyphs" >3.0</text>
<line x1="118.05" y1="493.00" x2="121.25" y2="493.00" stroke="#1a1a1a" stroke-width="0.8" />
<text x="117.20" y="495.45" font-size="6.8" text-anchor="end" fill="#231f20" textLength="10.30" lengthAdjust="spacingAndGlyphs" >2.5</text>
<line x1="118.05" y1="501.80" x2="121.25" y2="501.80" stroke="#1a1a1a" stroke-width="0.8" />
<text x="117.20" y="504.25" font-size="6.8" text-anchor="end" fill="#231f20" textLength="10.30" lengthAdjust="spacingAndGlyphs" >2.0</text>
<line x1="118.05" y1="510.60" x2="121.25" y2="510.60" stroke="#1a1a1a" stroke-width="0.8" />
<text x="117.20" y="513.05" font-size="6.8" text-anchor="end" fill="#231f20" textLength="10.30" lengthAdjust="spacingAndGlyphs" >1.5</text>
<line x1="118.05" y1="519.40" x2="121.25" y2="519.40" stroke="#1a1a1a" stroke-width="0.8" />
<text x="117.20" y="521.85" font-size="6.8" text-anchor="end" fill="#231f20" textLength="10.30" lengthAdjust="spacingAndGlyphs" >1.0</text>
<line x1="118.05" y1="528.30" x2="121.25" y2="528.30" stroke="#1a1a1a" stroke-width="0.8" />
<text x="117.20" y="530.75" font-size="6.8" text-anchor="end" fill="#231f20" textLength="10.30" lengthAdjust="spacingAndGlyphs" >0.5</text>
<line x1="132.70" y1="528.30" x2="132.70" y2="531.50" stroke="#1a1a1a" stroke-width="0.8" />
<text x="132.70" y="539.90" font-size="7" text-anchor="middle" fill="#231f20" >1</text>
<line x1="165.40" y1="528.30" x2="165.40" y2="531.50" stroke="#1a1a1a" stroke-width="0.8" />
<text x="165.40" y="539.90" font-size="7" text-anchor="middle" fill="#231f20" >4</text>
<text x="148.05" y="553.60" font-size="9.6" text-anchor="middle" fill="#231f20" textLength="12.50" lengthAdjust="spacingAndGlyphs" fill-opacity="0.85">Day</text>
<line x1="128.80" y1="519.40" x2="128.80" y2="526.60" stroke="#555a66" stroke-width="0.8" />
<text x="125.60" y="526.20" font-size="7" text-anchor="middle" fill="#333" >*</text>
<line x1="168.60" y1="480.90" x2="168.60" y2="500.50" stroke="#555a66" stroke-width="0.8" />
<text x="171.40" y="494.00" font-size="7" text-anchor="middle" fill="#333" >*</text>
<text x="225.90" y="467.40" font-size="8.7" text-anchor="middle" fill="#231f20" >CD206</text>
<line x1="213.80" y1="505.40" x2="213.80" y2="525.60" stroke="#5a5a5a" stroke-width="0.6" />
<line x1="212.30" y1="505.40" x2="215.30" y2="505.40" stroke="#5a5a5a" stroke-width="0.5" />
<line x1="212.30" y1="512.13" x2="215.30" y2="512.13" stroke="#5a5a5a" stroke-width="0.5" />
<line x1="212.30" y1="518.87" x2="215.30" y2="518.87" stroke="#5a5a5a" stroke-width="0.5" />
<line x1="212.30" y1="525.60" x2="215.30" y2="525.60" stroke="#5a5a5a" stroke-width="0.5" />
<line x1="247.10" y1="472.70" x2="247.10" y2="507.00" stroke="#5a5a5a" stroke-width="0.6" />
<line x1="245.60" y1="472.70" x2="248.60" y2="472.70" stroke="#5a5a5a" stroke-width="0.5" />
<line x1="245.60" y1="479.56" x2="248.60" y2="479.56" stroke="#5a5a5a" stroke-width="0.5" />
<line x1="245.60" y1="486.42" x2="248.60" y2="486.42" stroke="#5a5a5a" stroke-width="0.5" />
<line x1="245.60" y1="493.28" x2="248.60" y2="493.28" stroke="#5a5a5a" stroke-width="0.5" />
<line x1="245.60" y1="500.14" x2="248.60" y2="500.14" stroke="#5a5a5a" stroke-width="0.5" />
<line x1="245.60" y1="507.00" x2="248.60" y2="507.00" stroke="#5a5a5a" stroke-width="0.5" />
<line x1="213.80" y1="510.60" x2="247.10" y2="491.20" stroke="#3aa935" stroke-width="0.9" />
<line x1="213.80" y1="523.00" x2="247.10" y2="484.90" stroke="#1f4e8c" stroke-width="0.9" />
<line x1="213.80" y1="520.50" x2="247.10" y2="504.30" stroke="#c8102e" stroke-width="0.9" />
<circle cx="213.80" cy="510.60" r="1.25" fill="#3aa935"/>
<circle cx="247.10" cy="491.20" r="1.25" fill="#3aa935"/>
<path d="M212.30 523.00L213.80 521.50L215.30 523.00L213.80 524.50Z" fill="#1f4e8c"/>
<path d="M245.60 484.90L247.10 483.40L248.60 484.90L247.10 486.40Z" fill="#1f4e8c"/>
<circle cx="213.80" cy="520.50" r="1.25" fill="#c8102e"/>
<circle cx="247.10" cy="504.30" r="1.25" fill="#c8102e"/>
<line x1="202.60" y1="528.30" x2="251.50" y2="528.30" stroke="#1a1a1a" stroke-width="0.9" />
<line x1="203.00" y1="472.00" x2="203.00" y2="528.70" stroke="#1a1a1a" stroke-width="0.9" />
<line x1="199.80" y1="475.30" x2="203.00" y2="475.30" stroke="#1a1a1a" stroke-width="0.8" />
<text x="198.60" y="477.75" font-size="6.8" text-anchor="end" fill="#231f20" textLength="10.30" lengthAdjust="spacingAndGlyphs" >2.0</text>
<line x1="199.80" y1="493.00" x2="203.00" y2="493.00" stroke="#1a1a1a" stroke-width="0.8" />
<text x="198.60" y="495.45" font-size="6.8" text-anchor="end" fill="#231f20" textLength="10.30" lengthAdjust="spacingAndGlyphs" >1.5</text>
<line x1="199.80" y1="510.60" x2="203.00" y2="510.60" stroke="#1a1a1a" stroke-width="0.8" />
<text x="198.60" y="513.05" font-size="6.8" text-anchor="end" fill="#231f20" textLength="10.30" lengthAdjust="spacingAndGlyphs" >1.0</text>
<line x1="199.80" y1="528.30" x2="203.00" y2="528.30" stroke="#1a1a1a" stroke-width="0.8" />
<text x="198.60" y="530.75" font-size="6.8" text-anchor="end" fill="#231f20" textLength="10.30" lengthAdjust="spacingAndGlyphs" >0.5</text>
<line x1="213.80" y1="528.30" x2="213.80" y2="531.50" stroke="#1a1a1a" stroke-width="0.8" />
<text x="213.80" y="539.90" font-size="7" text-anchor="middle" fill="#231f20" >1</text>
<line x1="247.10" y1="528.30" x2="247.10" y2="531.50" stroke="#1a1a1a" stroke-width="0.8" />
<text x="247.10" y="539.90" font-size="7" text-anchor="middle" fill="#231f20" >4</text>
<text x="229.45" y="553.60" font-size="9.6" text-anchor="middle" fill="#231f20" textLength="12.50" lengthAdjust="spacingAndGlyphs" fill-opacity="0.85">Day</text>
<line x1="210.50" y1="512.60" x2="210.50" y2="524.30" stroke="#555a66" stroke-width="0.8" />
<text x="207.20" y="521.40" font-size="7" text-anchor="middle" fill="#333" >*</text>
<line x1="249.70" y1="484.10" x2="249.70" y2="505.40" stroke="#555a66" stroke-width="0.8" />
<text x="251.20" y="497.40" font-size="6.6" text-anchor="start" fill="#333" >0.08</text>
<line x1="71.00" y1="564.40" x2="77.80" y2="564.40" stroke="#3aa935" stroke-width="0.7" />
<circle cx="74.40" cy="564.40" r="1.60" fill="#3aa935"/>
<text x="83.60" y="566.60" font-size="6.3" text-anchor="start" fill="#231f20" textLength="6.40" lengthAdjust="spacingAndGlyphs" >TA</text>
<line x1="96.40" y1="564.40" x2="103.20" y2="564.40" stroke="#c8102e" stroke-width="0.7" />
<rect x="98.30" y="562.90" width="3.00" height="3.00" fill="#c8102e" />
<text x="107.60" y="566.60" font-size="6.3" text-anchor="start" fill="#231f20" textLength="27.40" lengthAdjust="spacingAndGlyphs" >TA+Heme</text>
<line x1="145.10" y1="564.40" x2="151.90" y2="564.40" stroke="#1f4e8c" stroke-width="0.7" />
<path d="M146.60 564.40L148.50 562.50L150.40 564.40L148.50 566.30Z" fill="#1f4e8c"/>
<text x="155.80" y="566.60" font-size="6.3" text-anchor="start" fill="#231f20" textLength="39.80" lengthAdjust="spacingAndGlyphs" >TA+Heme+Pio</text>
<text x="267.90" y="411.00" font-size="9.4" text-anchor="start" fill="#000" font-weight="bold" >iv</text>
<text x="300.00" y="402.40" font-size="8.55" text-anchor="start" fill="#231f20" >Annexin V<tspan dy="-3" font-size="5.5">+</tspan><tspan dy="3"> Hepatocytes</tspan></text>
<text x="283.17" y="439.12" font-size="9.6" text-anchor="middle" fill="#231f20" stroke="#231f20" stroke-width="0.1" transform="rotate(-90 283.17 439.12)" textLength="53.00" lengthAdjust="spacingAndGlyphs">% of hepatocytes</text>
<rect x="308.25" y="425.00" width="11.25" height="46.25" fill="#3aa935" />
<rect x="320.75" y="429.25" width="11.25" height="42.00" fill="#d0062e" />
<rect x="333.25" y="428.75" width="11.25" height="42.50" fill="#d0062e" />
<rect x="348.75" y="447.50" width="10.75" height="23.75" fill="#3aa935" />
<rect x="361.25" y="433.00" width="10.75" height="38.25" fill="#d0062e" />
<rect x="373.75" y="445.75" width="11.25" height="25.50" fill="#d0062e" />
<line x1="299.50" y1="451.25" x2="392.50" y2="451.25" stroke="#222" stroke-width="0.8" stroke-dasharray="2.2 1.3"/>
<line x1="299.10" y1="471.25" x2="392.50" y2="471.25" stroke="#1a1a1a" stroke-width="0.9" />
<line x1="299.50" y1="407.00" x2="299.50" y2="471.65" stroke="#1a1a1a" stroke-width="0.9" />
<line x1="296.30" y1="409.50" x2="299.50" y2="409.50" stroke="#1a1a1a" stroke-width="0.8" />
<text x="295.40" y="412.02" font-size="7" text-anchor="end" fill="#231f20" textLength="8.40" lengthAdjust="spacingAndGlyphs" >50</text>
<line x1="296.30" y1="422.00" x2="299.50" y2="422.00" stroke="#1a1a1a" stroke-width="0.8" />
<text x="295.40" y="424.52" font-size="7" text-anchor="end" fill="#231f20" textLength="8.40" lengthAdjust="spacingAndGlyphs" >40</text>
<line x1="296.30" y1="434.25" x2="299.50" y2="434.25" stroke="#1a1a1a" stroke-width="0.8" />
<text x="295.40" y="436.77" font-size="7" text-anchor="end" fill="#231f20" textLength="8.40" lengthAdjust="spacingAndGlyphs" >30</text>
<line x1="296.30" y1="446.75" x2="299.50" y2="446.75" stroke="#1a1a1a" stroke-width="0.8" />
<text x="295.40" y="449.27" font-size="7" text-anchor="end" fill="#231f20" textLength="8.40" lengthAdjust="spacingAndGlyphs" >20</text>
<line x1="296.30" y1="459.00" x2="299.50" y2="459.00" stroke="#1a1a1a" stroke-width="0.8" />
<text x="295.40" y="461.52" font-size="7" text-anchor="end" fill="#231f20" textLength="8.40" lengthAdjust="spacingAndGlyphs" >10</text>
<line x1="296.30" y1="471.25" x2="299.50" y2="471.25" stroke="#1a1a1a" stroke-width="0.8" />
<text x="295.40" y="473.77" font-size="7" text-anchor="end" fill="#231f20" textLength="4.20" lengthAdjust="spacingAndGlyphs" >0</text>
<line x1="313.88" y1="424.60" x2="313.88" y2="425.40" stroke="#111" stroke-width="0.75" />
<line x1="311.68" y1="424.60" x2="316.07" y2="424.60" stroke="#111" stroke-width="0.75" />
<circle cx="310.00" cy="424.50" r="1.50" fill="#000"/>
<circle cx="313.80" cy="424.20" r="1.50" fill="#000"/>
<circle cx="317.50" cy="424.30" r="1.50" fill="#000"/>
<line x1="326.38" y1="426.25" x2="326.38" y2="432.25" stroke="#111" stroke-width="0.75" />
<line x1="324.18" y1="426.25" x2="328.57" y2="426.25" stroke="#111" stroke-width="0.75" />
<circle cx="326.30" cy="422.00" r="1.50" fill="#000"/>
<circle cx="325.50" cy="430.50" r="1.50" fill="#000"/>
<circle cx="328.70" cy="434.50" r="1.50" fill="#000"/>
<line x1="338.88" y1="425.15" x2="338.88" y2="432.35" stroke="#111" stroke-width="0.75" />
<line x1="336.68" y1="425.15" x2="341.07" y2="425.15" stroke="#111" stroke-width="0.75" />
<circle cx="338.80" cy="418.80" r="1.50" fill="#000"/>
<circle cx="335.60" cy="430.00" r="1.50" fill="#000"/>
<circle cx="342.40" cy="434.50" r="1.50" fill="#000"/>
<line x1="354.12" y1="446.10" x2="354.12" y2="448.90" stroke="#111" stroke-width="0.75" />
<line x1="351.93" y1="446.10" x2="356.32" y2="446.10" stroke="#111" stroke-width="0.75" />
<circle cx="354.50" cy="442.00" r="1.50" fill="#000"/>
<circle cx="350.60" cy="448.70" r="1.50" fill="#000"/>
<circle cx="357.50" cy="448.00" r="1.50" fill="#000"/>
<line x1="366.62" y1="431.00" x2="366.62" y2="435.00" stroke="#111" stroke-width="0.75" />
<line x1="364.43" y1="431.00" x2="368.82" y2="431.00" stroke="#111" stroke-width="0.75" />
<circle cx="366.30" cy="428.00" r="1.50" fill="#000"/>
<circle cx="363.80" cy="434.50" r="1.50" fill="#000"/>
<circle cx="370.00" cy="434.50" r="1.50" fill="#000"/>
<line x1="379.38" y1="440.75" x2="379.38" y2="450.75" stroke="#111" stroke-width="0.75" />
<line x1="377.18" y1="440.75" x2="381.57" y2="440.75" stroke="#111" stroke-width="0.75" />
<circle cx="377.00" cy="440.80" r="1.50" fill="#000"/>
<circle cx="383.70" cy="441.20" r="1.50" fill="#000"/>
<circle cx="380.00" cy="457.50" r="1.50" fill="#000"/>
<line x1="313.75" y1="413.75" x2="355.00" y2="413.75" stroke="#555a66" stroke-width="0.8" />
<text x="334.38" y="415.95" font-size="7" text-anchor="middle" fill="#333" >**</text>
<line x1="353.75" y1="423.00" x2="367.50" y2="423.00" stroke="#555a66" stroke-width="0.8" />
<text x="360.62" y="425.20" font-size="7" text-anchor="middle" fill="#333" >*</text>
<line x1="369.50" y1="420.00" x2="382.50" y2="420.00" stroke="#555a66" stroke-width="0.8" />
<text x="376.00" y="422.20" font-size="7" text-anchor="middle" fill="#333" >*</text>
<text x="307.20" y="480.30" font-size="6.6" text-anchor="end" fill="#231f20" >Heme</text>
<text x="313.88" y="480.30" font-size="6.6" text-anchor="middle" fill="#333" >–</text>
<text x="326.38" y="480.30" font-size="6.6" text-anchor="middle" fill="#333" >+</text>
<text x="338.88" y="480.30" font-size="6.6" text-anchor="middle" fill="#333" >+</text>
<text x="354.12" y="480.30" font-size="6.6" text-anchor="middle" fill="#333" >–</text>
<text x="366.62" y="480.30" font-size="6.6" text-anchor="middle" fill="#333" >+</text>
<text x="379.38" y="480.30" font-size="6.6" text-anchor="middle" fill="#333" >+</text>
<text x="307.20" y="488.05" font-size="6.6" text-anchor="end" fill="#231f20" >Pio</text>
<text x="313.88" y="488.05" font-size="6.6" text-anchor="middle" fill="#333" >–</text>
<text x="326.38" y="488.05" font-size="6.6" text-anchor="middle" fill="#333" >–</text>
<text x="338.88" y="488.05" font-size="6.6" text-anchor="middle" fill="#333" >+</text>
<text x="354.12" y="488.05" font-size="6.6" text-anchor="middle" fill="#333" >–</text>
<text x="366.62" y="488.05" font-size="6.6" text-anchor="middle" fill="#333" >–</text>
<text x="379.38" y="488.05" font-size="6.6" text-anchor="middle" fill="#333" >+</text>
<line x1="308.25" y1="491.75" x2="345.00" y2="491.75" stroke="#333" stroke-width="0.9" />
<line x1="348.25" y1="491.75" x2="385.00" y2="491.75" stroke="#333" stroke-width="0.9" />
<text x="326.75" y="501.20" font-size="6.8" text-anchor="middle" fill="#231f20" >+TAA Day1</text>
<text x="367.00" y="501.20" font-size="6.8" text-anchor="middle" fill="#231f20" >+TAA Day4</text>
<text x="417.00" y="402.40" font-size="8.55" text-anchor="start" fill="#231f20" >Caspase-3<tspan dy="-3" font-size="5.5">+</tspan><tspan dy="3"> Hepatocytes</tspan></text>
<text x="405.17" y="439.12" font-size="9.6" text-anchor="middle" fill="#231f20" stroke="#231f20" stroke-width="0.1" transform="rotate(-90 405.17 439.12)" textLength="53.00" lengthAdjust="spacingAndGlyphs">% of hepatocytes</text>
<rect x="430.00" y="430.00" width="10.75" height="41.25" fill="#3aa935" />
<rect x="442.50" y="430.75" width="10.75" height="40.50" fill="#d0062e" />
<rect x="455.00" y="434.25" width="10.75" height="37.00" fill="#d0062e" />
<rect x="470.50" y="450.75" width="10.75" height="20.50" fill="#3aa935" />
<rect x="483.00" y="435.00" width="10.75" height="36.25" fill="#d0062e" />
<rect x="495.50" y="443.25" width="10.75" height="28.00" fill="#d0062e" />
<line x1="420.75" y1="449.25" x2="513.75" y2="449.25" stroke="#222" stroke-width="0.8" stroke-dasharray="2.2 1.3"/>
<line x1="420.35" y1="471.25" x2="513.75" y2="471.25" stroke="#1a1a1a" stroke-width="0.9" />
<line x1="420.75" y1="407.00" x2="420.75" y2="471.65" stroke="#1a1a1a" stroke-width="0.9" />
<line x1="417.55" y1="409.50" x2="420.75" y2="409.50" stroke="#1a1a1a" stroke-width="0.8" />
<text x="417.00" y="412.02" font-size="7" text-anchor="end" fill="#231f20" textLength="8.40" lengthAdjust="spacingAndGlyphs" >40</text>
<line x1="417.55" y1="425.00" x2="420.75" y2="425.00" stroke="#1a1a1a" stroke-width="0.8" />
<text x="417.00" y="427.52" font-size="7" text-anchor="end" fill="#231f20" textLength="8.40" lengthAdjust="spacingAndGlyphs" >30</text>
<line x1="417.55" y1="440.50" x2="420.75" y2="440.50" stroke="#1a1a1a" stroke-width="0.8" />
<text x="417.00" y="443.02" font-size="7" text-anchor="end" fill="#231f20" textLength="8.40" lengthAdjust="spacingAndGlyphs" >20</text>
<line x1="417.55" y1="456.00" x2="420.75" y2="456.00" stroke="#1a1a1a" stroke-width="0.8" />
<text x="417.00" y="458.52" font-size="7" text-anchor="end" fill="#231f20" textLength="8.40" lengthAdjust="spacingAndGlyphs" >10</text>
<line x1="417.55" y1="471.25" x2="420.75" y2="471.25" stroke="#1a1a1a" stroke-width="0.8" />
<text x="417.00" y="473.77" font-size="7" text-anchor="end" fill="#231f20" textLength="4.20" lengthAdjust="spacingAndGlyphs" >0</text>
<line x1="435.38" y1="428.20" x2="435.38" y2="431.80" stroke="#111" stroke-width="0.75" />
<line x1="433.18" y1="428.20" x2="437.57" y2="428.20" stroke="#111" stroke-width="0.75" />
<circle cx="431.30" cy="426.30" r="1.50" fill="#000"/>
<circle cx="438.00" cy="428.00" r="1.50" fill="#000"/>
<circle cx="435.00" cy="436.20" r="1.50" fill="#000"/>
<line x1="447.88" y1="425.15" x2="447.88" y2="436.35" stroke="#111" stroke-width="0.75" />
<line x1="445.68" y1="425.15" x2="450.07" y2="425.15" stroke="#111" stroke-width="0.75" />
<circle cx="448.00" cy="417.00" r="1.50" fill="#000"/>
<circle cx="452.00" cy="430.50" r="1.50" fill="#000"/>
<circle cx="448.00" cy="443.70" r="1.50" fill="#000"/>
<line x1="460.38" y1="430.85" x2="460.38" y2="437.65" stroke="#111" stroke-width="0.75" />
<line x1="458.18" y1="430.85" x2="462.57" y2="430.85" stroke="#111" stroke-width="0.75" />
<circle cx="460.00" cy="426.30" r="1.50" fill="#000"/>
<circle cx="463.70" cy="435.00" r="1.50" fill="#000"/>
<circle cx="460.50" cy="442.50" r="1.50" fill="#000"/>
<line x1="475.88" y1="447.35" x2="475.88" y2="454.15" stroke="#111" stroke-width="0.75" />
<line x1="473.68" y1="447.35" x2="478.07" y2="447.35" stroke="#111" stroke-width="0.75" />
<circle cx="472.00" cy="445.00" r="1.50" fill="#000"/>
<circle cx="478.00" cy="452.50" r="1.50" fill="#000"/>
<circle cx="475.50" cy="458.00" r="1.50" fill="#000"/>
<line x1="488.38" y1="432.40" x2="488.38" y2="437.60" stroke="#111" stroke-width="0.75" />
<line x1="486.18" y1="432.40" x2="490.57" y2="432.40" stroke="#111" stroke-width="0.75" />
<circle cx="488.00" cy="428.80" r="1.50" fill="#000"/>
<circle cx="490.00" cy="433.80" r="1.50" fill="#000"/>
<circle cx="488.00" cy="441.20" r="1.50" fill="#000"/>
<line x1="500.88" y1="440.45" x2="500.88" y2="446.05" stroke="#111" stroke-width="0.75" />
<line x1="498.68" y1="440.45" x2="503.07" y2="440.45" stroke="#111" stroke-width="0.75" />
<circle cx="500.50" cy="437.50" r="1.50" fill="#000"/>
<circle cx="501.30" cy="440.80" r="1.50" fill="#000"/>
<circle cx="501.30" cy="446.20" r="1.50" fill="#000"/>
<circle cx="500.00" cy="451.20" r="1.50" fill="#000"/>
<line x1="435.00" y1="413.75" x2="475.00" y2="413.75" stroke="#555a66" stroke-width="0.8" />
<text x="455.00" y="415.95" font-size="7" text-anchor="middle" fill="#333" >*</text>
<line x1="476.25" y1="425.00" x2="488.75" y2="425.00" stroke="#555a66" stroke-width="0.8" />
<text x="482.50" y="427.20" font-size="7" text-anchor="middle" fill="#333" >*</text>
<text x="428.90" y="480.30" font-size="6.6" text-anchor="end" fill="#231f20" >Heme</text>
<text x="435.38" y="480.30" font-size="6.6" text-anchor="middle" fill="#333" >–</text>
<text x="447.88" y="480.30" font-size="6.6" text-anchor="middle" fill="#333" >+</text>
<text x="460.38" y="480.30" font-size="6.6" text-anchor="middle" fill="#333" >+</text>
<text x="475.88" y="480.30" font-size="6.6" text-anchor="middle" fill="#333" >–</text>
<text x="488.38" y="480.30" font-size="6.6" text-anchor="middle" fill="#333" >+</text>
<text x="500.88" y="480.30" font-size="6.6" text-anchor="middle" fill="#333" >+</text>
<text x="428.90" y="488.05" font-size="6.6" text-anchor="end" fill="#231f20" >Pio</text>
<text x="435.38" y="488.05" font-size="6.6" text-anchor="middle" fill="#333" >–</text>
<text x="447.88" y="488.05" font-size="6.6" text-anchor="middle" fill="#333" >–</text>
<text x="460.38" y="488.05" font-size="6.6" text-anchor="middle" fill="#333" >+</text>
<text x="475.88" y="488.05" font-size="6.6" text-anchor="middle" fill="#333" >–</text>
<text x="488.38" y="488.05" font-size="6.6" text-anchor="middle" fill="#333" >–</text>
<text x="500.88" y="488.05" font-size="6.6" text-anchor="middle" fill="#333" >+</text>
<line x1="430.00" y1="491.75" x2="466.25" y2="491.75" stroke="#333" stroke-width="0.9" />
<line x1="470.00" y1="491.75" x2="506.25" y2="491.75" stroke="#333" stroke-width="0.9" />
<text x="448.00" y="501.20" font-size="6.8" text-anchor="middle" fill="#231f20" >+TAA Day1</text>
<text x="488.00" y="501.20" font-size="6.8" text-anchor="middle" fill="#231f20" >+TAA Day4</text>
<text x="20.20" y="584.60" font-size="9.4" text-anchor="start" fill="#000" font-weight="bold" >v</text>
<text x="39.50" y="587.00" font-size="7.4" text-anchor="start" fill="#231f20" textLength="13.60" lengthAdjust="spacingAndGlyphs" >TAA</text>
<text x="110.00" y="587.20" font-size="7.4" text-anchor="start" fill="#231f20" textLength="40.50" lengthAdjust="spacingAndGlyphs" >TAA+Heme</text>
<text x="177.30" y="584.80" font-size="7.4" text-anchor="start" fill="#231f20" textLength="61.70" lengthAdjust="spacingAndGlyphs" >TAA+Heme &amp; Pio</text>
<text x="35.60" y="622.50" font-size="7.0" text-anchor="middle" fill="#231f20" transform="rotate(-90 35.60 622.50)" textLength="18.50" lengthAdjust="spacingAndGlyphs" >Day 1</text>
<text x="35.60" y="684.50" font-size="7.0" text-anchor="middle" fill="#231f20" transform="rotate(-90 35.60 684.50)" textLength="18.50" lengthAdjust="spacingAndGlyphs" >Day 4</text>
<defs><clipPath id="hc1"><circle cx="72.0" cy="620.5" r="29.3"/></clipPath><filter id="hf1" x="0" y="0" width="100%" height="100%" color-interpolation-filters="sRGB"><feTurbulence type="fractalNoise" baseFrequency="0.75" numOctaves="2" seed="11"/><feColorMatrix type="matrix" values="0 0 0 0 0.40  0 0 0 0 0.06  0 0 0 0 0.36  1.5 0 0 0 -0.72"/></filter><filter id="hg1" x="0" y="0" width="100%" height="100%" color-interpolation-filters="sRGB"><feTurbulence type="fractalNoise" baseFrequency="0.600" numOctaves="2" seed="16"/><feColorMatrix type="matrix" values="0 0 0 0 0.97  0 0 0 0 0.80  0 0 0 0 0.92  0 1.8 0 0 -0.92"/></filter><filter id="hb1" x="-5%" y="-5%" width="110%" height="110%"><feGaussianBlur stdDeviation="0.45"/></filter></defs>
<rect x="38.70" y="589.30" width="64.80" height="62.40" fill="#050505" />
<g clip-path="url(#hc1)">
<circle cx="72.0" cy="620.5" r="29.8" fill="rgb(198, 114, 162)"/>
<path d="M73.8 610.2 L72.8 610.3 L71.9 610.4 L71.1 610.4 L70.5 610.5 L70.1 610.9 L70.1 611.7 L70.0 612.8 L69.6 613.7 L68.7 614.0 L67.7 613.6 L66.6 612.9 L65.7 612.4 L64.8 612.3 L63.7 612.4 L62.6 612.2 L61.7 611.5 L61.4 610.4 L61.5 609.2 L61.7 608.3 L61.5 607.7 L60.8 607.3 L59.8 606.9 L58.7 606.3 L57.7 605.6 L56.7 604.8 L55.6 603.8 L54.8 602.7 L54.7 601.8 L55.8 601.3 L57.7 601.5 L59.7 602.0 L61.2 602.4 L61.6 602.2 L61.4 601.4 L61.1 600.3 L61.3 599.4 L61.9 599.0 L62.8 599.0 L63.6 599.0 L64.4 598.8 L65.3 598.6 L66.3 598.6 L67.4 599.0 L68.2 599.7 L69.0 600.5 L69.7 601.1 L70.5 601.7 L71.1 602.4 L71.2 603.3 L71.0 604.1 L70.7 604.8 L71.1 605.3 L72.4 605.7 L74.5 606.4 L76.5 607.4 L77.6 608.5 L77.5 609.4 L76.4 609.9 L75.0 610.1Z" fill="none" stroke="#f2ae5e" stroke-width="5.2" stroke-dasharray="1.0 0.6" stroke-opacity="1" stroke-linejoin="round"/>
<path d="M87.9 617.4 L86.0 617.9 L85.3 618.5 L85.3 619.4 L85.5 620.7 L85.5 622.1 L85.3 623.5 L85.1 625.3 L84.7 627.1 L83.8 627.9 L82.7 627.3 L81.8 626.1 L81.0 625.6 L80.3 626.2 L79.5 626.9 L78.9 626.6 L78.5 625.2 L78.2 624.1 L77.6 624.1 L76.4 625.0 L75.0 625.7 L74.0 625.6 L73.4 624.6 L73.1 623.4 L73.0 622.1 L73.5 620.4 L74.8 618.7 L76.3 617.3 L76.8 616.5 L75.9 615.8 L74.1 614.6 L72.9 612.9 L72.8 611.3 L73.6 610.1 L74.8 609.4 L75.8 608.9 L76.8 608.6 L77.8 608.8 L78.7 609.2 L79.3 608.8 L79.7 607.3 L80.2 605.3 L81.0 604.2 L81.8 604.5 L82.5 605.2 L83.2 605.0 L84.3 604.1 L85.3 603.5 L86.0 604.4 L85.9 606.4 L85.6 608.5 L85.6 609.8 L85.9 610.5 L86.3 611.0 L86.7 611.6 L87.6 612.1 L89.1 612.5 L90.7 613.3 L91.1 614.8 L90.0 616.3Z" fill="none" stroke="#f2ae5e" stroke-width="5.2" stroke-dasharray="1.0 0.6" stroke-opacity="1" stroke-linejoin="round"/>
<path d="M68.4 621.0 L68.0 622.0 L68.0 622.8 L68.3 623.6 L68.3 624.4 L67.9 625.2 L67.0 625.9 L66.0 626.5 L65.4 627.1 L65.0 627.7 L64.7 628.3 L64.2 628.9 L63.6 629.5 L63.0 630.1 L62.6 631.1 L62.2 632.5 L61.4 633.9 L60.3 634.8 L59.0 634.6 L58.0 633.4 L57.4 631.7 L57.1 630.3 L56.7 629.7 L56.0 629.8 L55.0 630.2 L53.8 630.5 L52.8 630.6 L51.7 630.5 L50.5 630.4 L49.4 630.0 L48.7 629.4 L48.7 628.4 L49.4 627.3 L50.4 626.3 L51.0 625.5 L51.0 624.8 L50.8 624.1 L50.9 623.3 L51.6 622.6 L52.9 622.3 L54.1 622.1 L54.7 621.7 L54.8 620.9 L54.7 619.5 L54.9 618.0 L55.6 616.8 L56.6 616.2 L57.8 616.1 L59.0 616.3 L60.0 616.8 L60.8 617.5 L61.3 618.6 L61.6 619.8 L61.7 620.7 L62.3 620.8 L63.5 620.1 L65.4 619.2 L67.3 618.7 L68.5 619.0 L68.8 619.9Z" fill="none" stroke="#f2ae5e" stroke-width="5.2" stroke-dasharray="1.0 0.6" stroke-opacity="1" stroke-linejoin="round"/>
<path d="M81.8 642.3 L81.6 643.0 L81.1 643.4 L80.6 644.0 L80.2 644.8 L79.5 645.1 L78.6 644.6 L77.5 643.7 L76.7 643.0 L75.8 642.8 L75.0 642.4 L74.3 641.3 L74.0 639.7 L73.7 638.6 L73.0 638.4 L71.4 638.6 L69.6 638.5 L68.3 637.6 L67.8 636.5 L67.8 635.3 L68.1 634.2 L68.8 633.5 L69.9 633.0 L71.0 632.8 L71.1 632.4 L69.8 631.0 L67.9 629.0 L66.7 627.0 L66.9 626.1 L68.1 626.3 L69.4 626.7 L70.2 626.7 L70.9 626.5 L71.7 626.8 L72.7 627.4 L73.5 627.8 L74.0 627.6 L74.6 627.1 L75.3 627.0 L76.1 627.6 L76.9 628.1 L77.9 628.1 L79.1 627.8 L80.3 628.1 L81.0 629.4 L80.8 631.2 L80.3 632.7 L80.1 633.6 L80.5 634.2 L81.4 634.8 L82.5 635.6 L83.7 636.6 L85.2 638.0 L86.5 639.5 L86.7 640.7 L85.2 640.9 L83.0 640.2 L81.4 639.6 L81.0 639.9 L81.5 641.1Z" fill="none" stroke="#f2ae5e" stroke-width="5.2" stroke-dasharray="1.0 0.6" stroke-opacity="1" stroke-linejoin="round"/>
<g filter="url(#hb1)">
<path d="M73.8 610.2 L72.8 610.3 L71.9 610.4 L71.1 610.4 L70.5 610.5 L70.1 610.9 L70.1 611.7 L70.0 612.8 L69.6 613.7 L68.7 614.0 L67.7 613.6 L66.6 612.9 L65.7 612.4 L64.8 612.3 L63.7 612.4 L62.6 612.2 L61.7 611.5 L61.4 610.4 L61.5 609.2 L61.7 608.3 L61.5 607.7 L60.8 607.3 L59.8 606.9 L58.7 606.3 L57.7 605.6 L56.7 604.8 L55.6 603.8 L54.8 602.7 L54.7 601.8 L55.8 601.3 L57.7 601.5 L59.7 602.0 L61.2 602.4 L61.6 602.2 L61.4 601.4 L61.1 600.3 L61.3 599.4 L61.9 599.0 L62.8 599.0 L63.6 599.0 L64.4 598.8 L65.3 598.6 L66.3 598.6 L67.4 599.0 L68.2 599.7 L69.0 600.5 L69.7 601.1 L70.5 601.7 L71.1 602.4 L71.2 603.3 L71.0 604.1 L70.7 604.8 L71.1 605.3 L72.4 605.7 L74.5 606.4 L76.5 607.4 L77.6 608.5 L77.5 609.4 L76.4 609.9 L75.0 610.1Z" fill="none" stroke="rgb(128,28,68)" stroke-width="3.4" stroke-opacity="0.72" stroke-linejoin="round"/>
<path d="M87.9 617.4 L86.0 617.9 L85.3 618.5 L85.3 619.4 L85.5 620.7 L85.5 622.1 L85.3 623.5 L85.1 625.3 L84.7 627.1 L83.8 627.9 L82.7 627.3 L81.8 626.1 L81.0 625.6 L80.3 626.2 L79.5 626.9 L78.9 626.6 L78.5 625.2 L78.2 624.1 L77.6 624.1 L76.4 625.0 L75.0 625.7 L74.0 625.6 L73.4 624.6 L73.1 623.4 L73.0 622.1 L73.5 620.4 L74.8 618.7 L76.3 617.3 L76.8 616.5 L75.9 615.8 L74.1 614.6 L72.9 612.9 L72.8 611.3 L73.6 610.1 L74.8 609.4 L75.8 608.9 L76.8 608.6 L77.8 608.8 L78.7 609.2 L79.3 608.8 L79.7 607.3 L80.2 605.3 L81.0 604.2 L81.8 604.5 L82.5 605.2 L83.2 605.0 L84.3 604.1 L85.3 603.5 L86.0 604.4 L85.9 606.4 L85.6 608.5 L85.6 609.8 L85.9 610.5 L86.3 611.0 L86.7 611.6 L87.6 612.1 L89.1 612.5 L90.7 613.3 L91.1 614.8 L90.0 616.3Z" fill="none" stroke="rgb(128,28,68)" stroke-width="3.4" stroke-opacity="0.72" stroke-linejoin="round"/>
<path d="M68.4 621.0 L68.0 622.0 L68.0 622.8 L68.3 623.6 L68.3 624.4 L67.9 625.2 L67.0 625.9 L66.0 626.5 L65.4 627.1 L65.0 627.7 L64.7 628.3 L64.2 628.9 L63.6 629.5 L63.0 630.1 L62.6 631.1 L62.2 632.5 L61.4 633.9 L60.3 634.8 L59.0 634.6 L58.0 633.4 L57.4 631.7 L57.1 630.3 L56.7 629.7 L56.0 629.8 L55.0 630.2 L53.8 630.5 L52.8 630.6 L51.7 630.5 L50.5 630.4 L49.4 630.0 L48.7 629.4 L48.7 628.4 L49.4 627.3 L50.4 626.3 L51.0 625.5 L51.0 624.8 L50.8 624.1 L50.9 623.3 L51.6 622.6 L52.9 622.3 L54.1 622.1 L54.7 621.7 L54.8 620.9 L54.7 619.5 L54.9 618.0 L55.6 616.8 L56.6 616.2 L57.8 616.1 L59.0 616.3 L60.0 616.8 L60.8 617.5 L61.3 618.6 L61.6 619.8 L61.7 620.7 L62.3 620.8 L63.5 620.1 L65.4 619.2 L67.3 618.7 L68.5 619.0 L68.8 619.9Z" fill="none" stroke="rgb(128,28,68)" stroke-width="3.4" stroke-opacity="0.72" stroke-linejoin="round"/>
<path d="M81.8 642.3 L81.6 643.0 L81.1 643.4 L80.6 644.0 L80.2 644.8 L79.5 645.1 L78.6 644.6 L77.5 643.7 L76.7 643.0 L75.8 642.8 L75.0 642.4 L74.3 641.3 L74.0 639.7 L73.7 638.6 L73.0 638.4 L71.4 638.6 L69.6 638.5 L68.3 637.6 L67.8 636.5 L67.8 635.3 L68.1 634.2 L68.8 633.5 L69.9 633.0 L71.0 632.8 L71.1 632.4 L69.8 631.0 L67.9 629.0 L66.7 627.0 L66.9 626.1 L68.1 626.3 L69.4 626.7 L70.2 626.7 L70.9 626.5 L71.7 626.8 L72.7 627.4 L73.5 627.8 L74.0 627.6 L74.6 627.1 L75.3 627.0 L76.1 627.6 L76.9 628.1 L77.9 628.1 L79.1 627.8 L80.3 628.1 L81.0 629.4 L80.8 631.2 L80.3 632.7 L80.1 633.6 L80.5 634.2 L81.4 634.8 L82.5 635.6 L83.7 636.6 L85.2 638.0 L86.5 639.5 L86.7 640.7 L85.2 640.9 L83.0 640.2 L81.4 639.6 L81.0 639.9 L81.5 641.1Z" fill="none" stroke="rgb(128,28,68)" stroke-width="3.4" stroke-opacity="0.72" stroke-linejoin="round"/>
</g>
<rect x="41.7" y="590.2" width="60.6" height="60.6" fill="#000" filter="url(#hf1)"/>
<rect x="41.7" y="590.2" width="60.6" height="60.6" fill="#000" filter="url(#hg1)"/>
<ellipse cx="59.0" cy="611.4" rx="1.2" ry="3.0" fill="#fdf7f4" transform="rotate(-20 59.0 611.4)"/>
<ellipse cx="63.5" cy="616" rx="1.0" ry="2.0" fill="#fdf7f4" transform="rotate(20 63.5 616)"/>
<ellipse cx="90" cy="612" rx="1.0" ry="1.0" fill="#fdf7f4" transform="rotate(0 90 612)"/>
<ellipse cx="55" cy="630" rx="0.8" ry="0.8" fill="#fdf7f4" transform="rotate(0 55 630)"/>
<ellipse cx="73.6" cy="592.4" rx="3.2" ry="1.8" fill="#f6f3b4"/>
<ellipse cx="83.4" cy="645.6" rx="3.4" ry="2.6" fill="#f6f3b4"/>
<circle cx="72.0" cy="620.5" r="28.900000000000002" fill="none" stroke="#f3d9cf" stroke-width="0.9" stroke-opacity="0.55"/>
</g>
<line x1="86.10" y1="592.30" x2="101.30" y2="592.30" stroke="#fff" stroke-width="0.8" />
<text x="93.70" y="597.30" font-size="4.9" text-anchor="middle" fill="#fff" textLength="14.60" lengthAdjust="spacingAndGlyphs" >370µm</text>
<defs><clipPath id="hc2"><circle cx="140.6" cy="621.0" r="29.5"/></clipPath><filter id="hf2" x="0" y="0" width="100%" height="100%" color-interpolation-filters="sRGB"><feTurbulence type="fractalNoise" baseFrequency="0.75" numOctaves="2" seed="23"/><feColorMatrix type="matrix" values="0 0 0 0 0.40  0 0 0 0 0.06  0 0 0 0 0.36  1.5 0 0 0 -0.72"/></filter><filter id="hg2" x="0" y="0" width="100%" height="100%" color-interpolation-filters="sRGB"><feTurbulence type="fractalNoise" baseFrequency="0.600" numOctaves="2" seed="28"/><feColorMatrix type="matrix" values="0 0 0 0 0.97  0 0 0 0 0.80  0 0 0 0 0.92  0 1.8 0 0 -0.92"/></filter><filter id="hb2" x="-5%" y="-5%" width="110%" height="110%"><feGaussianBlur stdDeviation="0.45"/></filter></defs>
<rect x="108.20" y="589.30" width="66.00" height="62.40" fill="#050505" />
<g clip-path="url(#hc2)">
<circle cx="140.6" cy="621.0" r="30.0" fill="rgb(188, 92, 134)"/>
<path d="M147.4 614.4 L150.6 615.8 L152.6 617.1 L152.4 617.8 L150.5 617.8 L148.3 617.4 L146.6 617.2 L145.2 617.0 L143.8 616.8 L142.6 616.4 L141.8 616.5 L141.3 617.1 L140.5 617.8 L139.3 618.0 L138.0 617.5 L136.7 616.9 L135.5 616.6 L133.9 616.7 L132.2 616.5 L131.2 615.7 L131.2 614.7 L131.7 613.8 L131.6 613.2 L130.7 612.8 L129.5 612.4 L128.1 611.9 L126.4 611.2 L124.2 610.4 L122.2 609.4 L121.9 608.6 L124.1 608.5 L127.7 608.9 L130.4 609.3 L131.1 609.2 L130.2 608.4 L129.4 607.4 L129.2 606.7 L129.6 606.2 L130.1 605.6 L130.9 605.1 L132.3 605.1 L134.1 605.8 L135.7 606.7 L136.9 607.3 L138.0 607.3 L139.2 607.2 L140.4 607.6 L141.1 608.4 L141.8 609.1 L142.9 609.3 L145.0 609.2 L147.4 609.4 L149.0 610.0 L149.7 610.7 L149.7 611.5 L149.5 612.2 L148.7 612.7 L147.1 613.1 L145.4 613.2 L145.3 613.5Z" fill="none" stroke="#f2ae5e" stroke-width="5.4" stroke-dasharray="1.0 0.6" stroke-opacity="1" stroke-linejoin="round"/>
<path d="M157.2 618.1 L157.1 619.1 L157.2 620.1 L157.8 621.0 L158.5 622.2 L158.9 623.5 L158.5 624.4 L157.5 624.8 L156.1 624.6 L155.0 624.3 L154.5 624.4 L154.4 625.1 L154.4 626.1 L154.4 627.3 L154.3 628.4 L154.0 629.6 L153.5 630.8 L152.9 631.7 L152.0 631.8 L151.1 630.8 L150.4 628.9 L149.9 626.9 L149.6 625.5 L149.2 625.1 L148.5 625.2 L147.7 625.4 L146.9 625.1 L146.4 624.3 L146.1 623.4 L145.8 622.5 L145.3 621.8 L144.5 620.9 L143.8 619.9 L143.6 618.8 L143.7 617.8 L144.0 616.9 L144.3 616.1 L144.7 615.4 L145.2 614.9 L146.1 614.8 L147.2 615.1 L147.9 615.4 L148.2 615.0 L148.0 613.6 L147.7 611.4 L147.7 609.2 L148.2 608.0 L149.1 608.1 L150.1 609.1 L150.9 610.5 L151.6 611.6 L152.1 612.5 L152.6 613.3 L153.0 614.2 L153.4 614.9 L153.8 615.4 L154.5 615.6 L155.5 615.8 L156.4 616.2 L157.0 617.1Z" fill="none" stroke="#f2ae5e" stroke-width="5.4" stroke-dasharray="1.0 0.6" stroke-opacity="1" stroke-linejoin="round"/>
<path d="M133.4 630.1 L132.5 630.6 L131.0 630.6 L129.7 630.1 L128.7 629.9 L128.3 630.4 L127.9 631.6 L127.4 633.0 L126.7 634.2 L125.7 635.1 L124.6 635.7 L123.5 636.1 L122.4 636.0 L121.5 635.2 L121.2 633.6 L121.5 631.6 L122.0 629.9 L122.1 628.9 L121.3 628.8 L119.9 629.1 L118.3 629.2 L117.2 628.7 L116.9 627.8 L117.0 626.7 L117.2 625.8 L117.0 624.8 L116.8 623.8 L116.9 622.7 L117.5 621.8 L118.5 621.1 L119.5 620.6 L120.3 620.0 L121.0 619.5 L121.8 619.1 L122.7 619.0 L123.6 619.2 L124.3 619.1 L124.8 618.3 L125.4 616.6 L126.3 614.6 L127.5 613.0 L128.8 612.8 L129.7 613.9 L130.1 615.7 L130.2 617.5 L130.2 618.8 L130.5 619.6 L130.9 620.1 L131.3 620.6 L131.8 621.1 L132.6 621.4 L133.8 621.7 L135.1 622.2 L136.0 623.1 L136.1 624.1 L135.4 625.2 L134.5 626.2 L133.9 627.0 L133.7 628.0 L133.8 629.1Z" fill="none" stroke="#f2ae5e" stroke-width="5.4" stroke-dasharray="1.0 0.6" stroke-opacity="1" stroke-linejoin="round"/>
<path d="M160.6 638.5 L158.0 638.8 L155.6 639.0 L154.3 639.2 L153.8 639.6 L153.7 640.1 L153.8 640.7 L154.4 641.8 L155.2 643.4 L155.0 644.7 L153.5 644.9 L151.1 644.0 L148.9 642.6 L147.5 641.7 L146.5 641.6 L145.5 642.0 L144.3 642.2 L143.2 642.2 L141.9 642.1 L140.3 642.3 L138.5 642.3 L137.3 641.8 L136.8 641.0 L136.5 640.2 L135.7 639.6 L134.5 639.1 L134.1 638.4 L135.2 637.7 L137.1 637.1 L137.9 636.6 L136.8 636.1 L134.4 635.2 L132.4 634.2 L131.9 633.2 L132.5 632.5 L133.6 632.0 L135.2 631.8 L137.5 632.1 L140.1 632.9 L142.0 633.6 L142.6 633.4 L142.5 632.1 L142.6 630.5 L143.7 629.5 L145.2 629.5 L146.7 630.1 L148.0 630.6 L149.3 631.0 L150.4 631.5 L151.1 632.3 L151.5 633.1 L152.3 633.5 L153.6 633.7 L155.0 634.0 L155.7 634.5 L155.8 635.2 L156.4 635.8 L158.3 636.2 L160.7 636.9 L161.8 637.8Z" fill="none" stroke="#f2ae5e" stroke-width="5.4" stroke-dasharray="1.0 0.6" stroke-opacity="1" stroke-linejoin="round"/>
<path d="M165.1 607.0 L165.7 607.7 L166.2 608.6 L166.4 609.5 L166.2 610.3 L165.6 610.9 L164.7 611.1 L163.8 611.1 L163.0 611.0 L162.5 611.1 L162.1 611.4 L161.8 611.9 L161.5 612.5 L161.0 612.8 L160.5 612.8 L160.0 612.5 L159.6 612.0 L159.2 611.5 L158.8 611.3 L158.3 611.5 L157.7 611.8 L156.9 612.1 L156.1 612.2 L155.4 612.0 L154.8 611.5 L154.5 610.8 L154.3 610.1 L154.2 609.2 L154.4 608.4 L154.7 607.7 L155.1 607.0 L155.8 606.5 L156.4 606.1 L156.8 605.8 L157.0 605.4 L156.9 604.9 L156.6 604.1 L156.4 603.1 L156.3 602.1 L156.6 601.4 L157.1 601.0 L157.8 601.0 L158.4 601.1 L159.0 601.1 L159.5 600.9 L160.0 600.5 L160.6 600.0 L161.3 599.8 L161.9 599.9 L162.4 600.5 L162.7 601.4 L162.8 602.4 L162.8 603.3 L162.8 604.0 L162.9 604.5 L163.1 604.8 L163.4 605.2 L163.8 605.5 L164.1 605.9 L164.6 606.4Z" fill="none" stroke="#f2ae5e" stroke-width="5.4" stroke-dasharray="1.0 0.6" stroke-opacity="1" stroke-linejoin="round"/>
<g filter="url(#hb2)">
<path d="M147.4 614.4 L150.6 615.8 L152.6 617.1 L152.4 617.8 L150.5 617.8 L148.3 617.4 L146.6 617.2 L145.2 617.0 L143.8 616.8 L142.6 616.4 L141.8 616.5 L141.3 617.1 L140.5 617.8 L139.3 618.0 L138.0 617.5 L136.7 616.9 L135.5 616.6 L133.9 616.7 L132.2 616.5 L131.2 615.7 L131.2 614.7 L131.7 613.8 L131.6 613.2 L130.7 612.8 L129.5 612.4 L128.1 611.9 L126.4 611.2 L124.2 610.4 L122.2 609.4 L121.9 608.6 L124.1 608.5 L127.7 608.9 L130.4 609.3 L131.1 609.2 L130.2 608.4 L129.4 607.4 L129.2 606.7 L129.6 606.2 L130.1 605.6 L130.9 605.1 L132.3 605.1 L134.1 605.8 L135.7 606.7 L136.9 607.3 L138.0 607.3 L139.2 607.2 L140.4 607.6 L141.1 608.4 L141.8 609.1 L142.9 609.3 L145.0 609.2 L147.4 609.4 L149.0 610.0 L149.7 610.7 L149.7 611.5 L149.5 612.2 L148.7 612.7 L147.1 613.1 L145.4 613.2 L145.3 613.5Z" fill="none" stroke="rgb(118,18,50)" stroke-width="3.6" stroke-opacity="0.7" stroke-linejoin="round"/>
<path d="M157.2 618.1 L157.1 619.1 L157.2 620.1 L157.8 621.0 L158.5 622.2 L158.9 623.5 L158.5 624.4 L157.5 624.8 L156.1 624.6 L155.0 624.3 L154.5 624.4 L154.4 625.1 L154.4 626.1 L154.4 627.3 L154.3 628.4 L154.0 629.6 L153.5 630.8 L152.9 631.7 L152.0 631.8 L151.1 630.8 L150.4 628.9 L149.9 626.9 L149.6 625.5 L149.2 625.1 L148.5 625.2 L147.7 625.4 L146.9 625.1 L146.4 624.3 L146.1 623.4 L145.8 622.5 L145.3 621.8 L144.5 620.9 L143.8 619.9 L143.6 618.8 L143.7 617.8 L144.0 616.9 L144.3 616.1 L144.7 615.4 L145.2 614.9 L146.1 614.8 L147.2 615.1 L147.9 615.4 L148.2 615.0 L148.0 613.6 L147.7 611.4 L147.7 609.2 L148.2 608.0 L149.1 608.1 L150.1 609.1 L150.9 610.5 L151.6 611.6 L152.1 612.5 L152.6 613.3 L153.0 614.2 L153.4 614.9 L153.8 615.4 L154.5 615.6 L155.5 615.8 L156.4 616.2 L157.0 617.1Z" fill="none" stroke="rgb(118,18,50)" stroke-width="3.6" stroke-opacity="0.7" stroke-linejoin="round"/>
<path d="M133.4 630.1 L132.5 630.6 L131.0 630.6 L129.7 630.1 L128.7 629.9 L128.3 630.4 L127.9 631.6 L127.4 633.0 L126.7 634.2 L125.7 635.1 L124.6 635.7 L123.5 636.1 L122.4 636.0 L121.5 635.2 L121.2 633.6 L121.5 631.6 L122.0 629.9 L122.1 628.9 L121.3 628.8 L119.9 629.1 L118.3 629.2 L117.2 628.7 L116.9 627.8 L117.0 626.7 L117.2 625.8 L117.0 624.8 L116.8 623.8 L116.9 622.7 L117.5 621.8 L118.5 621.1 L119.5 620.6 L120.3 620.0 L121.0 619.5 L121.8 619.1 L122.7 619.0 L123.6 619.2 L124.3 619.1 L124.8 618.3 L125.4 616.6 L126.3 614.6 L127.5 613.0 L128.8 612.8 L129.7 613.9 L130.1 615.7 L130.2 617.5 L130.2 618.8 L130.5 619.6 L130.9 620.1 L131.3 620.6 L131.8 621.1 L132.6 621.4 L133.8 621.7 L135.1 622.2 L136.0 623.1 L136.1 624.1 L135.4 625.2 L134.5 626.2 L133.9 627.0 L133.7 628.0 L133.8 629.1Z" fill="none" stroke="rgb(118,18,50)" stroke-width="3.6" stroke-opacity="0.7" stroke-linejoin="round"/>
<path d="M160.6 638.5 L158.0 638.8 L155.6 639.0 L154.3 639.2 L153.8 639.6 L153.7 640.1 L153.8 640.7 L154.4 641.8 L155.2 643.4 L155.0 644.7 L153.5 644.9 L151.1 644.0 L148.9 642.6 L147.5 641.7 L146.5 641.6 L145.5 642.0 L144.3 642.2 L143.2 642.2 L141.9 642.1 L140.3 642.3 L138.5 642.3 L137.3 641.8 L136.8 641.0 L136.5 640.2 L135.7 639.6 L134.5 639.1 L134.1 638.4 L135.2 637.7 L137.1 637.1 L137.9 636.6 L136.8 636.1 L134.4 635.2 L132.4 634.2 L131.9 633.2 L132.5 632.5 L133.6 632.0 L135.2 631.8 L137.5 632.1 L140.1 632.9 L142.0 633.6 L142.6 633.4 L142.5 632.1 L142.6 630.5 L143.7 629.5 L145.2 629.5 L146.7 630.1 L148.0 630.6 L149.3 631.0 L150.4 631.5 L151.1 632.3 L151.5 633.1 L152.3 633.5 L153.6 633.7 L155.0 634.0 L155.7 634.5 L155.8 635.2 L156.4 635.8 L158.3 636.2 L160.7 636.9 L161.8 637.8Z" fill="none" stroke="rgb(118,18,50)" stroke-width="3.6" stroke-opacity="0.7" stroke-linejoin="round"/>
<path d="M165.1 607.0 L165.7 607.7 L166.2 608.6 L166.4 609.5 L166.2 610.3 L165.6 610.9 L164.7 611.1 L163.8 611.1 L163.0 611.0 L162.5 611.1 L162.1 611.4 L161.8 611.9 L161.5 612.5 L161.0 612.8 L160.5 612.8 L160.0 612.5 L159.6 612.0 L159.2 611.5 L158.8 611.3 L158.3 611.5 L157.7 611.8 L156.9 612.1 L156.1 612.2 L155.4 612.0 L154.8 611.5 L154.5 610.8 L154.3 610.1 L154.2 609.2 L154.4 608.4 L154.7 607.7 L155.1 607.0 L155.8 606.5 L156.4 606.1 L156.8 605.8 L157.0 605.4 L156.9 604.9 L156.6 604.1 L156.4 603.1 L156.3 602.1 L156.6 601.4 L157.1 601.0 L157.8 601.0 L158.4 601.1 L159.0 601.1 L159.5 600.9 L160.0 600.5 L160.6 600.0 L161.3 599.8 L161.9 599.9 L162.4 600.5 L162.7 601.4 L162.8 602.4 L162.8 603.3 L162.8 604.0 L162.9 604.5 L163.1 604.8 L163.4 605.2 L163.8 605.5 L164.1 605.9 L164.6 606.4Z" fill="none" stroke="rgb(118,18,50)" stroke-width="3.6" stroke-opacity="0.7" stroke-linejoin="round"/>
</g>
<rect x="110.1" y="590.5" width="61.0" height="61.0" fill="#000" filter="url(#hf2)"/>
<rect x="110.1" y="590.5" width="61.0" height="61.0" fill="#000" filter="url(#hg2)"/>
<ellipse cx="127.0" cy="606.0" rx="4.6" ry="1.2" fill="#fdf7f4" transform="rotate(30 127.0 606.0)"/>
<ellipse cx="150.6" cy="609.6" rx="1.7" ry="2.2" fill="#fdf7f4" transform="rotate(0 150.6 609.6)"/>
<ellipse cx="157" cy="612.6" rx="3.0" ry="1.0" fill="#fdf7f4" transform="rotate(15 157 612.6)"/>
<ellipse cx="120" cy="634" rx="3.0" ry="1.0" fill="#fdf7f4" transform="rotate(-30 120 634)"/>
<ellipse cx="135" cy="630" rx="1.2" ry="0.8" fill="#fdf7f4" transform="rotate(0 135 630)"/>
<circle cx="140.6" cy="621.0" r="29.1" fill="none" stroke="#f3d9cf" stroke-width="0.9" stroke-opacity="0.55"/>
</g>
<line x1="156.80" y1="592.30" x2="172.00" y2="592.30" stroke="#fff" stroke-width="0.8" />
<text x="164.40" y="597.30" font-size="4.9" text-anchor="middle" fill="#fff" textLength="14.60" lengthAdjust="spacingAndGlyphs" >370µm</text>
<defs><clipPath id="hc3"><circle cx="210.6" cy="620.7" r="29.7"/></clipPath><filter id="hf3" x="0" y="0" width="100%" height="100%" color-interpolation-filters="sRGB"><feTurbulence type="fractalNoise" baseFrequency="0.75" numOctaves="2" seed="37"/><feColorMatrix type="matrix" values="0 0 0 0 0.40  0 0 0 0 0.06  0 0 0 0 0.36  1.5 0 0 0 -0.72"/></filter><filter id="hg3" x="0" y="0" width="100%" height="100%" color-interpolation-filters="sRGB"><feTurbulence type="fractalNoise" baseFrequency="0.600" numOctaves="2" seed="42"/><feColorMatrix type="matrix" values="0 0 0 0 0.97  0 0 0 0 0.80  0 0 0 0 0.92  0 1.8 0 0 -0.92"/></filter><filter id="hb3" x="-5%" y="-5%" width="110%" height="110%"><feGaussianBlur stdDeviation="0.45"/></filter></defs>
<rect x="178.20" y="589.30" width="66.50" height="62.40" fill="#050505" />
<g clip-path="url(#hc3)">
<circle cx="210.6" cy="620.7" r="30.2" fill="rgb(192, 96, 146)"/>
<path d="M213.8 604.5 L213.9 604.9 L214.8 605.5 L215.5 606.1 L215.1 606.5 L214.0 606.8 L213.4 607.1 L213.4 607.8 L213.5 608.6 L212.5 609.0 L210.3 608.6 L208.0 607.7 L206.4 606.9 L205.4 606.7 L204.6 607.0 L203.6 607.3 L202.4 607.7 L200.8 608.1 L198.7 608.5 L196.7 608.5 L195.6 607.8 L196.1 606.6 L197.3 605.5 L197.8 604.9 L196.8 604.7 L194.9 604.5 L193.3 604.2 L192.4 603.7 L191.7 603.2 L190.7 602.7 L189.9 602.1 L190.2 601.6 L191.6 601.3 L193.0 601.0 L193.7 600.7 L193.8 600.2 L194.6 599.9 L196.3 600.0 L198.2 600.4 L199.1 600.3 L199.2 599.6 L199.1 598.5 L199.9 597.7 L201.3 597.5 L203.0 597.8 L204.5 598.4 L205.8 599.0 L206.6 599.8 L206.9 600.7 L207.2 601.3 L208.4 601.3 L210.8 600.8 L213.9 600.5 L216.1 600.7 L216.7 601.4 L216.0 602.1 L215.5 602.7 L215.4 603.3 L215.2 603.7 L214.5 604.1Z" fill="none" stroke="#f2ae5e" stroke-width="5.0" stroke-dasharray="1.0 0.6" stroke-opacity="1" stroke-linejoin="round"/>
<path d="M228.9 618.7 L229.0 619.5 L229.5 621.0 L230.1 622.9 L230.2 624.9 L229.4 626.1 L228.1 626.2 L226.7 625.3 L225.5 624.3 L224.6 623.7 L223.8 623.7 L223.0 624.0 L222.2 624.1 L221.5 623.7 L220.9 623.1 L220.3 622.7 L219.5 622.7 L218.5 622.7 L217.5 622.5 L216.8 622.0 L216.2 621.3 L215.6 620.6 L214.8 619.8 L214.0 619.0 L213.6 617.9 L214.3 616.7 L215.9 615.7 L217.8 615.1 L219.2 614.7 L219.6 614.2 L219.0 613.3 L218.2 611.9 L217.6 610.3 L217.7 608.9 L218.3 607.8 L219.2 607.0 L220.1 606.4 L221.2 606.2 L222.3 606.4 L223.4 607.3 L224.2 608.4 L224.8 609.1 L225.5 609.2 L226.4 608.6 L227.4 608.0 L228.3 608.1 L228.9 608.8 L229.2 609.7 L229.5 610.4 L230.5 610.6 L231.9 610.6 L233.4 610.9 L234.3 611.7 L234.3 612.9 L233.5 614.2 L232.5 615.4 L231.5 616.3 L230.7 617.0 L229.9 617.6 L229.3 618.1Z" fill="none" stroke="#f2ae5e" stroke-width="5.0" stroke-dasharray="1.0 0.6" stroke-opacity="1" stroke-linejoin="round"/>
<path d="M212.9 625.0 L210.9 626.0 L210.2 626.7 L211.1 627.3 L212.6 628.1 L213.7 629.1 L214.2 630.3 L214.5 631.6 L214.2 632.8 L212.8 633.5 L210.3 633.1 L207.7 632.1 L206.1 631.3 L205.5 631.7 L205.3 633.3 L204.6 635.0 L203.5 635.8 L202.2 636.0 L201.0 636.1 L199.6 636.3 L198.4 636.1 L197.5 635.3 L197.2 634.1 L196.7 633.2 L195.8 632.9 L194.8 632.6 L194.4 631.9 L194.8 630.8 L195.0 630.0 L193.8 629.6 L191.4 629.4 L189.1 628.7 L188.5 627.7 L189.6 626.6 L191.6 625.7 L193.4 625.1 L194.9 624.6 L196.3 624.3 L197.4 624.1 L197.5 623.4 L196.8 621.8 L196.0 619.5 L196.4 617.7 L197.9 617.3 L199.8 618.2 L201.4 619.3 L202.6 619.8 L203.6 619.8 L204.6 619.8 L205.5 620.2 L206.4 620.4 L207.6 620.0 L209.2 619.5 L210.6 619.5 L211.4 620.1 L211.9 621.0 L212.8 621.5 L214.3 621.8 L215.4 622.4 L214.9 623.6Z" fill="none" stroke="#f2ae5e" stroke-width="5.0" stroke-dasharray="1.0 0.6" stroke-opacity="1" stroke-linejoin="round"/>
<path d="M226.4 640.6 L226.3 641.1 L226.8 641.9 L227.4 642.9 L227.4 643.7 L226.5 643.9 L224.8 643.5 L223.0 642.8 L221.6 642.1 L220.7 641.8 L220.1 641.9 L219.6 642.2 L219.0 642.5 L218.3 642.8 L217.4 643.3 L216.2 643.7 L214.9 643.9 L213.6 643.6 L212.7 642.8 L212.6 641.7 L212.9 640.6 L213.1 639.8 L212.7 639.4 L211.8 639.0 L210.8 638.6 L210.1 638.1 L210.0 637.5 L210.2 637.0 L210.1 636.5 L209.6 635.9 L208.9 635.2 L208.4 634.4 L208.5 633.8 L209.0 633.3 L209.7 633.0 L210.4 632.7 L211.2 632.5 L212.3 632.6 L213.7 633.1 L215.1 634.0 L216.1 634.6 L216.7 634.7 L217.1 634.0 L217.7 632.9 L218.7 632.0 L220.0 631.7 L221.1 632.1 L222.0 632.9 L222.7 633.7 L223.2 634.5 L223.6 635.2 L223.9 635.8 L223.9 636.5 L223.8 637.0 L224.1 637.5 L224.9 637.9 L226.0 638.5 L226.9 639.1 L227.2 639.7 L226.8 640.2Z" fill="none" stroke="#f2ae5e" stroke-width="5.0" stroke-dasharray="1.0 0.6" stroke-opacity="1" stroke-linejoin="round"/>
<g filter="url(#hb3)">
<path d="M213.8 604.5 L213.9 604.9 L214.8 605.5 L215.5 606.1 L215.1 606.5 L214.0 606.8 L213.4 607.1 L213.4 607.8 L213.5 608.6 L212.5 609.0 L210.3 608.6 L208.0 607.7 L206.4 606.9 L205.4 606.7 L204.6 607.0 L203.6 607.3 L202.4 607.7 L200.8 608.1 L198.7 608.5 L196.7 608.5 L195.6 607.8 L196.1 606.6 L197.3 605.5 L197.8 604.9 L196.8 604.7 L194.9 604.5 L193.3 604.2 L192.4 603.7 L191.7 603.2 L190.7 602.7 L189.9 602.1 L190.2 601.6 L191.6 601.3 L193.0 601.0 L193.7 600.7 L193.8 600.2 L194.6 599.9 L196.3 600.0 L198.2 600.4 L199.1 600.3 L199.2 599.6 L199.1 598.5 L199.9 597.7 L201.3 597.5 L203.0 597.8 L204.5 598.4 L205.8 599.0 L206.6 599.8 L206.9 600.7 L207.2 601.3 L208.4 601.3 L210.8 600.8 L213.9 600.5 L216.1 600.7 L216.7 601.4 L216.0 602.1 L215.5 602.7 L215.4 603.3 L215.2 603.7 L214.5 604.1Z" fill="none" stroke="rgb(120,22,60)" stroke-width="3.2" stroke-opacity="0.6" stroke-linejoin="round"/>
<path d="M228.9 618.7 L229.0 619.5 L229.5 621.0 L230.1 622.9 L230.2 624.9 L229.4 626.1 L228.1 626.2 L226.7 625.3 L225.5 624.3 L224.6 623.7 L223.8 623.7 L223.0 624.0 L222.2 624.1 L221.5 623.7 L220.9 623.1 L220.3 622.7 L219.5 622.7 L218.5 622.7 L217.5 622.5 L216.8 622.0 L216.2 621.3 L215.6 620.6 L214.8 619.8 L214.0 619.0 L213.6 617.9 L214.3 616.7 L215.9 615.7 L217.8 615.1 L219.2 614.7 L219.6 614.2 L219.0 613.3 L218.2 611.9 L217.6 610.3 L217.7 608.9 L218.3 607.8 L219.2 607.0 L220.1 606.4 L221.2 606.2 L222.3 606.4 L223.4 607.3 L224.2 608.4 L224.8 609.1 L225.5 609.2 L226.4 608.6 L227.4 608.0 L228.3 608.1 L228.9 608.8 L229.2 609.7 L229.5 610.4 L230.5 610.6 L231.9 610.6 L233.4 610.9 L234.3 611.7 L234.3 612.9 L233.5 614.2 L232.5 615.4 L231.5 616.3 L230.7 617.0 L229.9 617.6 L229.3 618.1Z" fill="none" stroke="rgb(120,22,60)" stroke-width="3.2" stroke-opacity="0.6" stroke-linejoin="round"/>
<path d="M212.9 625.0 L210.9 626.0 L210.2 626.7 L211.1 627.3 L212.6 628.1 L213.7 629.1 L214.2 630.3 L214.5 631.6 L214.2 632.8 L212.8 633.5 L210.3 633.1 L207.7 632.1 L206.1 631.3 L205.5 631.7 L205.3 633.3 L204.6 635.0 L203.5 635.8 L202.2 636.0 L201.0 636.1 L199.6 636.3 L198.4 636.1 L197.5 635.3 L197.2 634.1 L196.7 633.2 L195.8 632.9 L194.8 632.6 L194.4 631.9 L194.8 630.8 L195.0 630.0 L193.8 629.6 L191.4 629.4 L189.1 628.7 L188.5 627.7 L189.6 626.6 L191.6 625.7 L193.4 625.1 L194.9 624.6 L196.3 624.3 L197.4 624.1 L197.5 623.4 L196.8 621.8 L196.0 619.5 L196.4 617.7 L197.9 617.3 L199.8 618.2 L201.4 619.3 L202.6 619.8 L203.6 619.8 L204.6 619.8 L205.5 620.2 L206.4 620.4 L207.6 620.0 L209.2 619.5 L210.6 619.5 L211.4 620.1 L211.9 621.0 L212.8 621.5 L214.3 621.8 L215.4 622.4 L214.9 623.6Z" fill="none" stroke="rgb(120,22,60)" stroke-width="3.2" stroke-opacity="0.6" stroke-linejoin="round"/>
<path d="M226.4 640.6 L226.3 641.1 L226.8 641.9 L227.4 642.9 L227.4 643.7 L226.5 643.9 L224.8 643.5 L223.0 642.8 L221.6 642.1 L220.7 641.8 L220.1 641.9 L219.6 642.2 L219.0 642.5 L218.3 642.8 L217.4 643.3 L216.2 643.7 L214.9 643.9 L213.6 643.6 L212.7 642.8 L212.6 641.7 L212.9 640.6 L213.1 639.8 L212.7 639.4 L211.8 639.0 L210.8 638.6 L210.1 638.1 L210.0 637.5 L210.2 637.0 L210.1 636.5 L209.6 635.9 L208.9 635.2 L208.4 634.4 L208.5 633.8 L209.0 633.3 L209.7 633.0 L210.4 632.7 L211.2 632.5 L212.3 632.6 L213.7 633.1 L215.1 634.0 L216.1 634.6 L216.7 634.7 L217.1 634.0 L217.7 632.9 L218.7 632.0 L220.0 631.7 L221.1 632.1 L222.0 632.9 L222.7 633.7 L223.2 634.5 L223.6 635.2 L223.9 635.8 L223.9 636.5 L223.8 637.0 L224.1 637.5 L224.9 637.9 L226.0 638.5 L226.9 639.1 L227.2 639.7 L226.8 640.2Z" fill="none" stroke="rgb(120,22,60)" stroke-width="3.2" stroke-opacity="0.6" stroke-linejoin="round"/>
</g>
<rect x="179.9" y="590.0" width="61.4" height="61.4" fill="#000" filter="url(#hf3)"/>
<rect x="179.9" y="590.0" width="61.4" height="61.4" fill="#000" filter="url(#hg3)"/>
<ellipse cx="195.6" cy="612.2" rx="10.2" ry="1.4" fill="#fdf7f4" transform="rotate(-11 195.6 612.2)"/>
<ellipse cx="210.2" cy="622.2" rx="1.6" ry="1.6" fill="#fdf7f4" transform="rotate(0 210.2 622.2)"/>
<ellipse cx="222.1" cy="602.3" rx="2.4" ry="1.0" fill="#fdf7f4" transform="rotate(20 222.1 602.3)"/>
<ellipse cx="186.3" cy="631.5" rx="2.2" ry="1.0" fill="#fdf7f4" transform="rotate(-30 186.3 631.5)"/>
<ellipse cx="196" cy="639" rx="0.8" ry="1.6" fill="#fdf7f4" transform="rotate(-20 196 639)"/>
<circle cx="210.6" cy="620.7" r="29.3" fill="none" stroke="#f3d9cf" stroke-width="0.9" stroke-opacity="0.55"/>
</g>
<line x1="227.30" y1="592.30" x2="242.50" y2="592.30" stroke="#fff" stroke-width="0.8" />
<text x="234.90" y="597.30" font-size="4.9" text-anchor="middle" fill="#fff" textLength="14.60" lengthAdjust="spacingAndGlyphs" >370µm</text>
<defs><clipPath id="hc4"><circle cx="72.0" cy="687.0" r="29.4"/></clipPath><filter id="hf4" x="0" y="0" width="100%" height="100%" color-interpolation-filters="sRGB"><feTurbulence type="fractalNoise" baseFrequency="0.85" numOctaves="2" seed="41"/><feColorMatrix type="matrix" values="0 0 0 0 0.40  0 0 0 0 0.06  0 0 0 0 0.36  1.5 0 0 0 -0.72"/></filter><filter id="hg4" x="0" y="0" width="100%" height="100%" color-interpolation-filters="sRGB"><feTurbulence type="fractalNoise" baseFrequency="0.680" numOctaves="2" seed="46"/><feColorMatrix type="matrix" values="0 0 0 0 0.97  0 0 0 0 0.80  0 0 0 0 0.92  0 1.8 0 0 -0.92"/></filter><filter id="hb4" x="-5%" y="-5%" width="110%" height="110%"><feGaussianBlur stdDeviation="0.45"/></filter></defs>
<rect x="38.70" y="655.30" width="64.80" height="62.40" fill="#050505" />
<g clip-path="url(#hc4)">
<circle cx="72.0" cy="687.0" r="29.9" fill="rgb(194, 92, 156)"/>
<path d="M74.4 684.6 L74.0 685.0 L73.1 685.3 L72.1 685.5 L71.4 685.5 L71.1 685.6 L71.3 686.0 L71.5 686.5 L71.6 687.1 L71.5 687.5 L71.3 687.9 L70.9 688.3 L70.5 688.6 L70.0 688.7 L69.5 688.6 L69.0 688.2 L68.6 687.7 L68.3 687.4 L67.9 687.4 L67.5 687.5 L67.0 687.5 L66.7 687.3 L66.6 686.9 L66.6 686.4 L66.4 686.2 L65.9 686.1 L65.1 686.1 L64.4 685.9 L63.9 685.5 L63.9 685.1 L64.1 684.6 L64.6 684.2 L65.0 683.9 L65.5 683.6 L66.1 683.5 L66.6 683.4 L66.9 683.3 L67.0 683.0 L66.7 682.4 L66.5 681.6 L66.5 680.9 L66.8 680.5 L67.4 680.5 L68.0 680.8 L68.6 681.1 L69.0 681.3 L69.4 681.3 L69.8 681.3 L70.2 681.4 L70.5 681.8 L70.7 682.1 L70.9 682.3 L71.3 682.4 L71.7 682.5 L72.1 682.7 L72.4 682.9 L72.6 683.2 L73.1 683.5 L73.6 683.8 L74.2 684.1Z" fill="none" stroke="#f2ae5e" stroke-width="3.6" stroke-dasharray="1.0 0.6" stroke-opacity="1" stroke-linejoin="round"/>
<path d="M85.2 698.7 L85.2 699.2 L85.6 700.0 L86.1 701.1 L86.2 702.1 L85.9 702.9 L85.3 703.3 L84.5 703.4 L83.7 703.3 L83.0 703.1 L82.4 702.6 L81.9 702.0 L81.5 701.4 L81.2 701.2 L80.7 701.7 L80.0 702.7 L79.1 703.7 L78.2 704.1 L77.6 703.8 L77.4 702.9 L77.4 702.0 L77.3 701.3 L77.1 700.8 L76.7 700.3 L76.5 699.7 L76.7 699.1 L77.0 698.4 L77.3 697.9 L77.4 697.4 L77.4 696.8 L77.3 696.3 L77.4 695.7 L77.5 695.2 L77.6 694.5 L77.5 693.6 L77.5 692.5 L77.7 691.5 L78.3 691.1 L79.3 691.4 L80.2 692.4 L80.9 693.4 L81.4 694.0 L81.7 693.9 L82.1 693.3 L82.7 692.6 L83.3 692.2 L83.9 692.0 L84.6 691.9 L85.3 691.9 L85.9 692.1 L86.4 692.6 L86.4 693.4 L86.2 694.4 L85.9 695.2 L85.9 695.8 L86.2 696.2 L86.6 696.7 L86.6 697.3 L86.3 697.9 L85.6 698.3Z" fill="none" stroke="#f2ae5e" stroke-width="3.6" stroke-dasharray="1.0 0.6" stroke-opacity="1" stroke-linejoin="round"/>
<path d="M57.0 695.0 L56.7 695.3 L56.4 695.5 L56.3 695.7 L56.2 695.9 L56.1 696.1 L56.1 696.4 L56.0 696.7 L56.0 697.0 L56.0 697.5 L55.9 698.0 L55.7 698.5 L55.4 698.8 L55.0 698.9 L54.6 698.7 L54.2 698.4 L53.9 698.0 L53.6 697.7 L53.4 697.6 L53.0 697.6 L52.7 697.6 L52.4 697.5 L52.1 697.3 L52.1 696.9 L52.1 696.5 L52.2 696.1 L52.3 695.9 L52.1 695.7 L51.8 695.5 L51.4 695.3 L51.0 695.0 L50.7 694.6 L50.6 694.2 L50.6 693.8 L50.7 693.4 L50.9 693.1 L51.2 692.8 L51.6 692.6 L52.0 692.6 L52.5 692.6 L52.9 692.8 L53.3 693.0 L53.6 693.1 L53.8 693.0 L54.0 692.7 L54.2 692.4 L54.5 692.0 L54.9 691.8 L55.2 691.9 L55.5 692.1 L55.7 692.4 L55.9 692.7 L56.2 692.8 L56.5 692.9 L57.0 693.0 L57.4 693.1 L57.7 693.4 L57.8 693.8 L57.7 694.3 L57.4 694.7Z" fill="none" stroke="#f2ae5e" stroke-width="3.6" stroke-dasharray="1.0 0.6" stroke-opacity="1" stroke-linejoin="round"/>
<g filter="url(#hb4)">
<path d="M74.4 684.6 L74.0 685.0 L73.1 685.3 L72.1 685.5 L71.4 685.5 L71.1 685.6 L71.3 686.0 L71.5 686.5 L71.6 687.1 L71.5 687.5 L71.3 687.9 L70.9 688.3 L70.5 688.6 L70.0 688.7 L69.5 688.6 L69.0 688.2 L68.6 687.7 L68.3 687.4 L67.9 687.4 L67.5 687.5 L67.0 687.5 L66.7 687.3 L66.6 686.9 L66.6 686.4 L66.4 686.2 L65.9 686.1 L65.1 686.1 L64.4 685.9 L63.9 685.5 L63.9 685.1 L64.1 684.6 L64.6 684.2 L65.0 683.9 L65.5 683.6 L66.1 683.5 L66.6 683.4 L66.9 683.3 L67.0 683.0 L66.7 682.4 L66.5 681.6 L66.5 680.9 L66.8 680.5 L67.4 680.5 L68.0 680.8 L68.6 681.1 L69.0 681.3 L69.4 681.3 L69.8 681.3 L70.2 681.4 L70.5 681.8 L70.7 682.1 L70.9 682.3 L71.3 682.4 L71.7 682.5 L72.1 682.7 L72.4 682.9 L72.6 683.2 L73.1 683.5 L73.6 683.8 L74.2 684.1Z" fill="none" stroke="rgb(140,30,96)" stroke-width="1.8" stroke-opacity="0.35" stroke-linejoin="round"/>
<path d="M85.2 698.7 L85.2 699.2 L85.6 700.0 L86.1 701.1 L86.2 702.1 L85.9 702.9 L85.3 703.3 L84.5 703.4 L83.7 703.3 L83.0 703.1 L82.4 702.6 L81.9 702.0 L81.5 701.4 L81.2 701.2 L80.7 701.7 L80.0 702.7 L79.1 703.7 L78.2 704.1 L77.6 703.8 L77.4 702.9 L77.4 702.0 L77.3 701.3 L77.1 700.8 L76.7 700.3 L76.5 699.7 L76.7 699.1 L77.0 698.4 L77.3 697.9 L77.4 697.4 L77.4 696.8 L77.3 696.3 L77.4 695.7 L77.5 695.2 L77.6 694.5 L77.5 693.6 L77.5 692.5 L77.7 691.5 L78.3 691.1 L79.3 691.4 L80.2 692.4 L80.9 693.4 L81.4 694.0 L81.7 693.9 L82.1 693.3 L82.7 692.6 L83.3 692.2 L83.9 692.0 L84.6 691.9 L85.3 691.9 L85.9 692.1 L86.4 692.6 L86.4 693.4 L86.2 694.4 L85.9 695.2 L85.9 695.8 L86.2 696.2 L86.6 696.7 L86.6 697.3 L86.3 697.9 L85.6 698.3Z" fill="none" stroke="rgb(140,30,96)" stroke-width="1.8" stroke-opacity="0.35" stroke-linejoin="round"/>
<path d="M57.0 695.0 L56.7 695.3 L56.4 695.5 L56.3 695.7 L56.2 695.9 L56.1 696.1 L56.1 696.4 L56.0 696.7 L56.0 697.0 L56.0 697.5 L55.9 698.0 L55.7 698.5 L55.4 698.8 L55.0 698.9 L54.6 698.7 L54.2 698.4 L53.9 698.0 L53.6 697.7 L53.4 697.6 L53.0 697.6 L52.7 697.6 L52.4 697.5 L52.1 697.3 L52.1 696.9 L52.1 696.5 L52.2 696.1 L52.3 695.9 L52.1 695.7 L51.8 695.5 L51.4 695.3 L51.0 695.0 L50.7 694.6 L50.6 694.2 L50.6 693.8 L50.7 693.4 L50.9 693.1 L51.2 692.8 L51.6 692.6 L52.0 692.6 L52.5 692.6 L52.9 692.8 L53.3 693.0 L53.6 693.1 L53.8 693.0 L54.0 692.7 L54.2 692.4 L54.5 692.0 L54.9 691.8 L55.2 691.9 L55.5 692.1 L55.7 692.4 L55.9 692.7 L56.2 692.8 L56.5 692.9 L57.0 693.0 L57.4 693.1 L57.7 693.4 L57.8 693.8 L57.7 694.3 L57.4 694.7Z" fill="none" stroke="rgb(140,30,96)" stroke-width="1.8" stroke-opacity="0.35" stroke-linejoin="round"/>
</g>
<rect x="41.6" y="656.6" width="60.8" height="60.8" fill="#000" filter="url(#hf4)"/>
<rect x="41.6" y="656.6" width="60.8" height="60.8" fill="#000" filter="url(#hg4)"/>
<ellipse cx="61.2" cy="674.2" rx="0.8" ry="5.6" fill="#fdf7f4" transform="rotate(-28 61.2 674.2)"/>
<ellipse cx="69.0" cy="685.8" rx="1.5" ry="1.7" fill="#fdf7f4" transform="rotate(0 69.0 685.8)"/>
<ellipse cx="81.7" cy="698.4" rx="1.3" ry="2.2" fill="#fdf7f4" transform="rotate(10 81.7 698.4)"/>
<ellipse cx="51.5" cy="679.6" rx="1.3" ry="1.3" fill="#fdf7f4" transform="rotate(0 51.5 679.6)"/>
<ellipse cx="74" cy="669" rx="0.9" ry="0.9" fill="#fdf7f4" transform="rotate(0 74 669)"/>
<ellipse cx="90" cy="683" rx="0.8" ry="0.8" fill="#fdf7f4" transform="rotate(0 90 683)"/>
<ellipse cx="66" cy="703" rx="0.9" ry="0.9" fill="#fdf7f4" transform="rotate(0 66 703)"/>
<ellipse cx="78" cy="710" rx="0.8" ry="0.8" fill="#fdf7f4" transform="rotate(0 78 710)"/>
<ellipse cx="58" cy="688" rx="0.7" ry="0.7" fill="#fdf7f4" transform="rotate(0 58 688)"/>
<path d="M82 655 L89.8 671.5 L94.5 681 L99.2 689 L101 695 L106 695 L106 655Z" fill="#fbf9f7"/>
<path d="M40 692.5 L51.5 700.4 L58.2 707.8 L65.5 716 L66 722 L40 722Z" fill="#fbf9f7"/>
<circle cx="72.0" cy="687.0" r="29.0" fill="none" stroke="#f3d9cf" stroke-width="0.9" stroke-opacity="0.55"/>
</g>
<line x1="86.10" y1="658.30" x2="101.30" y2="658.30" stroke="#fff" stroke-width="0.8" />
<text x="93.70" y="663.30" font-size="4.9" text-anchor="middle" fill="#fff" textLength="14.60" lengthAdjust="spacingAndGlyphs" >370µm</text>
<defs><clipPath id="hc5"><circle cx="141.5" cy="687.4" r="29.5"/></clipPath><filter id="hf5" x="0" y="0" width="100%" height="100%" color-interpolation-filters="sRGB"><feTurbulence type="fractalNoise" baseFrequency="0.75" numOctaves="2" seed="53"/><feColorMatrix type="matrix" values="0 0 0 0 0.40  0 0 0 0 0.06  0 0 0 0 0.36  1.5 0 0 0 -0.72"/></filter><filter id="hg5" x="0" y="0" width="100%" height="100%" color-interpolation-filters="sRGB"><feTurbulence type="fractalNoise" baseFrequency="0.600" numOctaves="2" seed="58"/><feColorMatrix type="matrix" values="0 0 0 0 0.97  0 0 0 0 0.80  0 0 0 0 0.92  0 1.8 0 0 -0.92"/></filter><filter id="hb5" x="-5%" y="-5%" width="110%" height="110%"><feGaussianBlur stdDeviation="0.45"/></filter></defs>
<rect x="108.20" y="655.30" width="65.60" height="62.40" fill="#050505" />
<g clip-path="url(#hc5)">
<circle cx="141.5" cy="687.4" r="30.0" fill="rgb(186, 72, 136)"/>
<path d="M137.0 683.4 L136.4 683.8 L136.8 684.4 L137.8 685.4 L138.4 686.5 L137.9 687.0 L136.8 687.1 L135.8 687.3 L135.3 687.9 L134.9 688.8 L134.0 689.1 L132.7 688.6 L131.5 687.6 L130.5 686.9 L129.8 686.7 L129.0 686.8 L128.2 686.8 L127.2 686.9 L125.9 687.4 L124.1 687.9 L122.4 687.9 L121.7 687.0 L122.5 685.5 L123.9 684.2 L124.8 683.3 L124.4 683.0 L123.2 682.6 L122.0 682.1 L121.1 681.5 L120.2 680.7 L119.3 679.8 L119.1 679.0 L120.0 678.5 L121.8 678.4 L123.2 678.4 L123.8 678.1 L123.9 677.3 L124.3 676.8 L125.3 676.8 L126.5 677.1 L127.3 677.1 L127.7 676.4 L128.3 675.3 L129.2 674.6 L130.3 674.6 L131.4 675.0 L132.4 675.5 L133.2 676.2 L133.6 677.3 L133.4 678.6 L133.3 679.5 L134.0 679.6 L136.1 679.2 L138.6 678.9 L140.4 679.3 L140.8 680.2 L140.3 681.1 L139.5 681.9 L138.9 682.5 L138.0 683.0Z" fill="none" stroke="#f2ae5e" stroke-width="5.0" stroke-dasharray="1.0 0.6" stroke-opacity="1" stroke-linejoin="round"/>
<path d="M157.1 678.6 L157.5 679.0 L159.0 679.5 L160.8 680.3 L161.5 681.2 L160.8 682.0 L159.3 682.6 L158.3 683.1 L158.0 684.0 L157.6 684.9 L156.6 685.3 L155.0 685.2 L153.6 684.9 L152.7 684.9 L152.0 685.5 L151.3 686.2 L150.3 686.7 L149.3 687.4 L148.0 688.4 L146.4 689.4 L145.0 689.4 L144.5 688.0 L145.0 685.9 L145.7 684.1 L145.6 683.5 L144.3 683.8 L142.5 684.1 L140.8 684.1 L139.6 683.8 L138.4 683.3 L137.5 682.5 L137.7 681.6 L139.3 680.6 L141.3 679.8 L142.5 679.2 L142.4 678.6 L141.8 677.7 L141.8 676.9 L142.8 676.4 L143.9 676.1 L144.4 675.4 L144.5 674.3 L144.9 673.0 L145.9 672.3 L147.2 672.3 L148.5 672.5 L149.6 672.7 L150.7 673.1 L151.4 674.1 L151.8 675.2 L152.4 675.5 L153.7 674.6 L156.0 673.0 L158.4 672.0 L159.8 672.2 L159.9 673.5 L159.3 674.9 L158.6 676.1 L158.1 677.0 L157.6 677.9Z" fill="none" stroke="#f2ae5e" stroke-width="5.0" stroke-dasharray="1.0 0.6" stroke-opacity="1" stroke-linejoin="round"/>
<path d="M140.9 696.1 L141.5 696.7 L142.5 697.7 L143.3 698.8 L143.6 699.7 L143.3 700.3 L142.7 700.7 L142.0 701.0 L141.0 701.1 L139.9 700.8 L138.6 700.1 L137.5 699.2 L136.6 698.5 L135.9 698.3 L135.1 698.4 L134.1 698.4 L133.2 698.1 L132.6 697.5 L132.2 696.8 L131.7 696.3 L130.8 696.0 L129.2 695.8 L127.5 695.3 L126.2 694.6 L125.8 693.8 L126.1 693.1 L126.9 692.6 L127.8 692.1 L128.6 691.8 L129.3 691.6 L130.1 691.5 L130.6 691.3 L130.5 690.9 L129.7 689.9 L128.7 688.5 L128.1 687.2 L128.5 686.5 L129.6 686.6 L131.2 687.3 L132.6 688.1 L133.7 688.6 L134.5 688.7 L135.3 688.8 L136.2 688.9 L137.0 689.4 L137.7 690.0 L138.3 690.5 L139.1 690.8 L140.0 691.0 L141.0 691.3 L141.9 691.7 L142.7 692.3 L143.6 692.8 L144.7 693.4 L145.9 694.2 L146.7 695.0 L146.4 695.6 L144.9 696.0 L143.0 696.0 L141.4 695.9Z" fill="none" stroke="#f2ae5e" stroke-width="5.0" stroke-dasharray="1.0 0.6" stroke-opacity="1" stroke-linejoin="round"/>
<path d="M166.3 697.0 L167.5 698.0 L167.7 699.0 L166.7 699.7 L165.1 700.2 L163.7 700.4 L162.9 700.7 L162.5 701.3 L162.1 702.0 L161.5 702.4 L160.6 702.5 L159.8 702.4 L159.1 702.6 L158.5 703.0 L157.8 703.6 L157.0 704.1 L156.1 704.3 L155.2 704.4 L154.2 704.5 L153.1 704.7 L151.9 704.7 L151.0 704.2 L150.8 703.1 L151.3 701.5 L152.3 700.0 L152.9 699.1 L152.6 698.7 L151.4 698.6 L149.8 698.3 L148.4 697.8 L147.7 697.0 L147.4 696.1 L147.5 695.2 L147.7 694.4 L148.3 693.6 L149.2 693.1 L150.5 692.9 L151.8 692.9 L152.7 692.8 L153.1 692.3 L153.4 691.5 L153.8 690.8 L154.6 690.5 L155.5 690.7 L156.3 691.0 L157.0 691.0 L157.8 690.3 L158.9 689.3 L160.1 688.6 L161.3 688.5 L162.1 689.3 L162.4 690.5 L162.5 691.7 L162.4 692.8 L162.3 693.6 L162.2 694.4 L162.1 695.0 L162.3 695.5 L163.1 695.9 L164.6 696.3Z" fill="none" stroke="#f2ae5e" stroke-width="5.0" stroke-dasharray="1.0 0.6" stroke-opacity="1" stroke-linejoin="round"/>
<path d="M124.3 690.0 L124.3 690.5 L124.4 691.1 L124.4 691.7 L124.4 692.3 L124.3 692.8 L124.1 693.4 L123.9 694.0 L123.8 694.7 L123.7 695.5 L123.5 696.5 L123.2 697.4 L122.7 697.8 L122.1 697.7 L121.5 697.1 L121.0 696.0 L120.7 694.9 L120.4 694.0 L120.2 693.6 L119.9 693.6 L119.5 693.9 L119.0 694.2 L118.4 694.3 L118.0 694.1 L117.6 693.7 L117.4 693.1 L117.2 692.6 L116.9 692.0 L116.7 691.4 L116.5 690.7 L116.3 690.0 L116.4 689.3 L116.6 688.6 L116.8 688.0 L117.1 687.4 L117.3 686.8 L117.6 686.3 L118.0 685.9 L118.5 685.8 L119.0 685.8 L119.5 686.1 L119.9 686.4 L120.2 686.4 L120.4 686.0 L120.7 685.1 L121.0 684.0 L121.5 682.9 L122.1 682.3 L122.7 682.2 L123.2 682.7 L123.5 683.5 L123.7 684.5 L123.8 685.4 L123.9 686.1 L124.1 686.6 L124.3 687.1 L124.5 687.7 L124.5 688.3 L124.5 688.9 L124.4 689.5Z" fill="none" stroke="#f2ae5e" stroke-width="5.0" stroke-dasharray="1.0 0.6" stroke-opacity="1" stroke-linejoin="round"/>
<g filter="url(#hb5)">
<path d="M137.0 683.4 L136.4 683.8 L136.8 684.4 L137.8 685.4 L138.4 686.5 L137.9 687.0 L136.8 687.1 L135.8 687.3 L135.3 687.9 L134.9 688.8 L134.0 689.1 L132.7 688.6 L131.5 687.6 L130.5 686.9 L129.8 686.7 L129.0 686.8 L128.2 686.8 L127.2 686.9 L125.9 687.4 L124.1 687.9 L122.4 687.9 L121.7 687.0 L122.5 685.5 L123.9 684.2 L124.8 683.3 L124.4 683.0 L123.2 682.6 L122.0 682.1 L121.1 681.5 L120.2 680.7 L119.3 679.8 L119.1 679.0 L120.0 678.5 L121.8 678.4 L123.2 678.4 L123.8 678.1 L123.9 677.3 L124.3 676.8 L125.3 676.8 L126.5 677.1 L127.3 677.1 L127.7 676.4 L128.3 675.3 L129.2 674.6 L130.3 674.6 L131.4 675.0 L132.4 675.5 L133.2 676.2 L133.6 677.3 L133.4 678.6 L133.3 679.5 L134.0 679.6 L136.1 679.2 L138.6 678.9 L140.4 679.3 L140.8 680.2 L140.3 681.1 L139.5 681.9 L138.9 682.5 L138.0 683.0Z" fill="none" stroke="rgb(122,18,64)" stroke-width="3.2" stroke-opacity="0.6" stroke-linejoin="round"/>
<path d="M157.1 678.6 L157.5 679.0 L159.0 679.5 L160.8 680.3 L161.5 681.2 L160.8 682.0 L159.3 682.6 L158.3 683.1 L158.0 684.0 L157.6 684.9 L156.6 685.3 L155.0 685.2 L153.6 684.9 L152.7 684.9 L152.0 685.5 L151.3 686.2 L150.3 686.7 L149.3 687.4 L148.0 688.4 L146.4 689.4 L145.0 689.4 L144.5 688.0 L145.0 685.9 L145.7 684.1 L145.6 683.5 L144.3 683.8 L142.5 684.1 L140.8 684.1 L139.6 683.8 L138.4 683.3 L137.5 682.5 L137.7 681.6 L139.3 680.6 L141.3 679.8 L142.5 679.2 L142.4 678.6 L141.8 677.7 L141.8 676.9 L142.8 676.4 L143.9 676.1 L144.4 675.4 L144.5 674.3 L144.9 673.0 L145.9 672.3 L147.2 672.3 L148.5 672.5 L149.6 672.7 L150.7 673.1 L151.4 674.1 L151.8 675.2 L152.4 675.5 L153.7 674.6 L156.0 673.0 L158.4 672.0 L159.8 672.2 L159.9 673.5 L159.3 674.9 L158.6 676.1 L158.1 677.0 L157.6 677.9Z" fill="none" stroke="rgb(122,18,64)" stroke-width="3.2" stroke-opacity="0.6" stroke-linejoin="round"/>
<path d="M140.9 696.1 L141.5 696.7 L142.5 697.7 L143.3 698.8 L143.6 699.7 L143.3 700.3 L142.7 700.7 L142.0 701.0 L141.0 701.1 L139.9 700.8 L138.6 700.1 L137.5 699.2 L136.6 698.5 L135.9 698.3 L135.1 698.4 L134.1 698.4 L133.2 698.1 L132.6 697.5 L132.2 696.8 L131.7 696.3 L130.8 696.0 L129.2 695.8 L127.5 695.3 L126.2 694.6 L125.8 693.8 L126.1 693.1 L126.9 692.6 L127.8 692.1 L128.6 691.8 L129.3 691.6 L130.1 691.5 L130.6 691.3 L130.5 690.9 L129.7 689.9 L128.7 688.5 L128.1 687.2 L128.5 686.5 L129.6 686.6 L131.2 687.3 L132.6 688.1 L133.7 688.6 L134.5 688.7 L135.3 688.8 L136.2 688.9 L137.0 689.4 L137.7 690.0 L138.3 690.5 L139.1 690.8 L140.0 691.0 L141.0 691.3 L141.9 691.7 L142.7 692.3 L143.6 692.8 L144.7 693.4 L145.9 694.2 L146.7 695.0 L146.4 695.6 L144.9 696.0 L143.0 696.0 L141.4 695.9Z" fill="none" stroke="rgb(122,18,64)" stroke-width="3.2" stroke-opacity="0.6" stroke-linejoin="round"/>
<path d="M166.3 697.0 L167.5 698.0 L167.7 699.0 L166.7 699.7 L165.1 700.2 L163.7 700.4 L162.9 700.7 L162.5 701.3 L162.1 702.0 L161.5 702.4 L160.6 702.5 L159.8 702.4 L159.1 702.6 L158.5 703.0 L157.8 703.6 L157.0 704.1 L156.1 704.3 L155.2 704.4 L154.2 704.5 L153.1 704.7 L151.9 704.7 L151.0 704.2 L150.8 703.1 L151.3 701.5 L152.3 700.0 L152.9 699.1 L152.6 698.7 L151.4 698.6 L149.8 698.3 L148.4 697.8 L147.7 697.0 L147.4 696.1 L147.5 695.2 L147.7 694.4 L148.3 693.6 L149.2 693.1 L150.5 692.9 L151.8 692.9 L152.7 692.8 L153.1 692.3 L153.4 691.5 L153.8 690.8 L154.6 690.5 L155.5 690.7 L156.3 691.0 L157.0 691.0 L157.8 690.3 L158.9 689.3 L160.1 688.6 L161.3 688.5 L162.1 689.3 L162.4 690.5 L162.5 691.7 L162.4 692.8 L162.3 693.6 L162.2 694.4 L162.1 695.0 L162.3 695.5 L163.1 695.9 L164.6 696.3Z" fill="none" stroke="rgb(122,18,64)" stroke-width="3.2" stroke-opacity="0.6" stroke-linejoin="round"/>
<path d="M124.3 690.0 L124.3 690.5 L124.4 691.1 L124.4 691.7 L124.4 692.3 L124.3 692.8 L124.1 693.4 L123.9 694.0 L123.8 694.7 L123.7 695.5 L123.5 696.5 L123.2 697.4 L122.7 697.8 L122.1 697.7 L121.5 697.1 L121.0 696.0 L120.7 694.9 L120.4 694.0 L120.2 693.6 L119.9 693.6 L119.5 693.9 L119.0 694.2 L118.4 694.3 L118.0 694.1 L117.6 693.7 L117.4 693.1 L117.2 692.6 L116.9 692.0 L116.7 691.4 L116.5 690.7 L116.3 690.0 L116.4 689.3 L116.6 688.6 L116.8 688.0 L117.1 687.4 L117.3 686.8 L117.6 686.3 L118.0 685.9 L118.5 685.8 L119.0 685.8 L119.5 686.1 L119.9 686.4 L120.2 686.4 L120.4 686.0 L120.7 685.1 L121.0 684.0 L121.5 682.9 L122.1 682.3 L122.7 682.2 L123.2 682.7 L123.5 683.5 L123.7 684.5 L123.8 685.4 L123.9 686.1 L124.1 686.6 L124.3 687.1 L124.5 687.7 L124.5 688.3 L124.5 688.9 L124.4 689.5Z" fill="none" stroke="rgb(122,18,64)" stroke-width="3.2" stroke-opacity="0.6" stroke-linejoin="round"/>
</g>
<rect x="111.0" y="656.9" width="61.0" height="61.0" fill="#000" filter="url(#hf5)"/>
<rect x="111.0" y="656.9" width="61.0" height="61.0" fill="#000" filter="url(#hg5)"/>
<ellipse cx="135.0" cy="701.2" rx="8.2" ry="1.1" fill="#fdf7f4" transform="rotate(-19 135.0 701.2)"/>
<ellipse cx="136.8" cy="697.4" rx="3.2" ry="0.9" fill="#fdf7f4" transform="rotate(40 136.8 697.4)"/>
<ellipse cx="156.1" cy="706.5" rx="1.8" ry="1.6" fill="#fdf7f4" transform="rotate(0 156.1 706.5)"/>
<ellipse cx="164.9" cy="675.5" rx="1.0" ry="1.0" fill="#fdf7f4" transform="rotate(0 164.9 675.5)"/>
<ellipse cx="120" cy="679" rx="1.8" ry="0.8" fill="#fdf7f4" transform="rotate(20 120 679)"/>
<path d="M106 652 L178 652 L178 673 L163.5 668.1 L148.7 665.4 L133.9 667.5 L116.4 671.5 L106 676Z" fill="#fbf9f7"/>
<path d="M106 692 L113 697 L122 708 L135 715.5 L150 717.8 L150 722 L106 722Z" fill="#fbf9f7"/>
<circle cx="141.5" cy="687.4" r="29.1" fill="none" stroke="#f3d9cf" stroke-width="0.9" stroke-opacity="0.55"/>
</g>
<line x1="156.40" y1="658.30" x2="171.60" y2="658.30" stroke="#fff" stroke-width="0.8" />
<text x="164.00" y="663.30" font-size="4.9" text-anchor="middle" fill="#fff" textLength="14.60" lengthAdjust="spacingAndGlyphs" >370µm</text>
<defs><clipPath id="hc6"><circle cx="210.5" cy="687.0" r="29.5"/></clipPath><filter id="hf6" x="0" y="0" width="100%" height="100%" color-interpolation-filters="sRGB"><feTurbulence type="fractalNoise" baseFrequency="0.9" numOctaves="2" seed="67"/><feColorMatrix type="matrix" values="0 0 0 0 0.40  0 0 0 0 0.06  0 0 0 0 0.36  1.5 0 0 0 -0.72"/></filter><filter id="hg6" x="0" y="0" width="100%" height="100%" color-interpolation-filters="sRGB"><feTurbulence type="fractalNoise" baseFrequency="0.720" numOctaves="2" seed="72"/><feColorMatrix type="matrix" values="0 0 0 0 0.97  0 0 0 0 0.80  0 0 0 0 0.92  0 1.8 0 0 -0.92"/></filter><filter id="hb6" x="-5%" y="-5%" width="110%" height="110%"><feGaussianBlur stdDeviation="0.45"/></filter></defs>
<rect x="178.20" y="655.30" width="66.00" height="62.40" fill="#050505" />
<g clip-path="url(#hc6)">
<circle cx="210.5" cy="687.0" r="30.0" fill="rgb(200, 102, 164)"/>
<path d="M211.4 685.0 L212.0 685.4 L212.4 685.8 L212.5 686.2 L212.2 686.5 L211.7 686.8 L211.1 686.9 L210.6 687.0 L210.1 687.0 L209.6 686.8 L209.2 686.7 L208.9 686.8 L208.8 687.1 L208.7 687.8 L208.4 688.5 L208.0 688.9 L207.5 689.0 L207.1 688.6 L206.8 688.1 L206.5 687.7 L206.2 687.5 L205.9 687.4 L205.6 687.2 L205.5 686.9 L205.4 686.6 L205.4 686.3 L205.2 686.0 L205.0 685.8 L204.7 685.6 L204.5 685.3 L204.5 685.0 L204.4 684.7 L204.1 684.3 L203.8 683.9 L203.6 683.4 L203.9 683.0 L204.5 682.9 L205.4 683.1 L206.2 683.3 L206.7 683.5 L206.9 683.3 L206.9 682.9 L207.0 682.5 L207.2 682.0 L207.6 681.7 L208.0 681.5 L208.5 681.4 L208.9 681.3 L209.4 681.5 L209.7 681.9 L209.8 682.4 L209.9 682.9 L210.0 683.1 L210.3 683.2 L210.8 683.3 L211.1 683.5 L211.1 683.8 L211.0 684.2 L210.8 684.5 L211.0 684.7Z" fill="none" stroke="#f2ae5e" stroke-width="3.4000000000000004" stroke-dasharray="1.0 0.6" stroke-opacity="1" stroke-linejoin="round"/>
<path d="M198.4 700.0 L198.2 700.4 L197.9 700.8 L197.7 701.2 L197.4 701.5 L197.2 701.8 L196.9 702.1 L196.5 702.2 L196.1 702.3 L195.7 702.3 L195.4 702.5 L195.3 702.8 L195.1 703.5 L194.9 704.2 L194.5 705.0 L194.0 705.5 L193.4 705.6 L192.9 705.3 L192.5 704.7 L192.2 704.0 L192.1 703.3 L192.0 702.8 L191.7 702.5 L191.4 702.3 L191.1 702.1 L190.9 701.8 L190.8 701.4 L190.7 701.1 L190.7 700.7 L190.6 700.4 L190.4 700.0 L190.2 699.6 L190.1 699.2 L190.0 698.7 L190.1 698.3 L190.3 697.8 L190.4 697.4 L190.5 696.9 L190.7 696.3 L191.0 695.9 L191.4 695.5 L192.0 695.5 L192.7 695.8 L193.2 696.4 L193.7 697.1 L194.0 697.5 L194.2 697.7 L194.5 697.5 L194.9 697.1 L195.5 696.6 L196.1 696.4 L196.7 696.3 L197.1 696.6 L197.4 697.0 L197.6 697.4 L197.8 697.8 L198.1 698.2 L198.3 698.6 L198.5 699.0 L198.5 699.5Z" fill="none" stroke="#f2ae5e" stroke-width="3.4000000000000004" stroke-dasharray="1.0 0.6" stroke-opacity="1" stroke-linejoin="round"/>
<g filter="url(#hb6)">
<path d="M211.4 685.0 L212.0 685.4 L212.4 685.8 L212.5 686.2 L212.2 686.5 L211.7 686.8 L211.1 686.9 L210.6 687.0 L210.1 687.0 L209.6 686.8 L209.2 686.7 L208.9 686.8 L208.8 687.1 L208.7 687.8 L208.4 688.5 L208.0 688.9 L207.5 689.0 L207.1 688.6 L206.8 688.1 L206.5 687.7 L206.2 687.5 L205.9 687.4 L205.6 687.2 L205.5 686.9 L205.4 686.6 L205.4 686.3 L205.2 686.0 L205.0 685.8 L204.7 685.6 L204.5 685.3 L204.5 685.0 L204.4 684.7 L204.1 684.3 L203.8 683.9 L203.6 683.4 L203.9 683.0 L204.5 682.9 L205.4 683.1 L206.2 683.3 L206.7 683.5 L206.9 683.3 L206.9 682.9 L207.0 682.5 L207.2 682.0 L207.6 681.7 L208.0 681.5 L208.5 681.4 L208.9 681.3 L209.4 681.5 L209.7 681.9 L209.8 682.4 L209.9 682.9 L210.0 683.1 L210.3 683.2 L210.8 683.3 L211.1 683.5 L211.1 683.8 L211.0 684.2 L210.8 684.5 L211.0 684.7Z" fill="none" stroke="rgb(150,40,110)" stroke-width="1.6" stroke-opacity="0.3" stroke-linejoin="round"/>
<path d="M198.4 700.0 L198.2 700.4 L197.9 700.8 L197.7 701.2 L197.4 701.5 L197.2 701.8 L196.9 702.1 L196.5 702.2 L196.1 702.3 L195.7 702.3 L195.4 702.5 L195.3 702.8 L195.1 703.5 L194.9 704.2 L194.5 705.0 L194.0 705.5 L193.4 705.6 L192.9 705.3 L192.5 704.7 L192.2 704.0 L192.1 703.3 L192.0 702.8 L191.7 702.5 L191.4 702.3 L191.1 702.1 L190.9 701.8 L190.8 701.4 L190.7 701.1 L190.7 700.7 L190.6 700.4 L190.4 700.0 L190.2 699.6 L190.1 699.2 L190.0 698.7 L190.1 698.3 L190.3 697.8 L190.4 697.4 L190.5 696.9 L190.7 696.3 L191.0 695.9 L191.4 695.5 L192.0 695.5 L192.7 695.8 L193.2 696.4 L193.7 697.1 L194.0 697.5 L194.2 697.7 L194.5 697.5 L194.9 697.1 L195.5 696.6 L196.1 696.4 L196.7 696.3 L197.1 696.6 L197.4 697.0 L197.6 697.4 L197.8 697.8 L198.1 698.2 L198.3 698.6 L198.5 699.0 L198.5 699.5Z" fill="none" stroke="rgb(150,40,110)" stroke-width="1.6" stroke-opacity="0.3" stroke-linejoin="round"/>
</g>
<rect x="180.0" y="656.5" width="61.0" height="61.0" fill="#000" filter="url(#hf6)"/>
<rect x="180.0" y="656.5" width="61.0" height="61.0" fill="#000" filter="url(#hg6)"/>
<ellipse cx="190.4" cy="689.6" rx="9.2" ry="1.3" fill="#fdf7f4" transform="rotate(17 190.4 689.6)"/>
<ellipse cx="208.0" cy="685.0" rx="1.7" ry="1.7" fill="#fdf7f4" transform="rotate(0 208.0 685.0)"/>
<ellipse cx="220" cy="681" rx="0.9" ry="1.8" fill="#fdf7f4" transform="rotate(10 220 681)"/>
<ellipse cx="210" cy="668.8" rx="0.8" ry="1.6" fill="#fdf7f4" transform="rotate(0 210 668.8)"/>
<ellipse cx="228" cy="668.8" rx="0.8" ry="1.6" fill="#fdf7f4" transform="rotate(20 228 668.8)"/>
<ellipse cx="223.4" cy="711.2" rx="2.0" ry="1.3" fill="#fdf7f4" transform="rotate(20 223.4 711.2)"/>
<ellipse cx="232" cy="703" rx="1.6" ry="0.9" fill="#fdf7f4" transform="rotate(20 232 703)"/>
<ellipse cx="207.3" cy="711.9" rx="1.4" ry="0.9" fill="#fdf7f4" transform="rotate(0 207.3 711.9)"/>
<ellipse cx="200" cy="676" rx="0.7" ry="0.7" fill="#fdf7f4" transform="rotate(0 200 676)"/>
<circle cx="210.5" cy="687.0" r="29.1" fill="none" stroke="#f3d9cf" stroke-width="0.9" stroke-opacity="0.55"/>
</g>
<line x1="226.80" y1="658.30" x2="242.00" y2="658.30" stroke="#fff" stroke-width="0.8" />
<text x="234.40" y="663.30" font-size="4.9" text-anchor="middle" fill="#fff" textLength="14.60" lengthAdjust="spacingAndGlyphs" >370µm</text>
<text x="272.60" y="585.20" font-size="9.4" text-anchor="start" fill="#000" font-weight="bold" >vi</text>
<text x="356.25" y="596.20" font-size="8.7" text-anchor="middle" fill="#231f20" >AST</text>
<text x="292.77" y="644.75" font-size="9.6" text-anchor="middle" fill="#231f20" stroke="#231f20" stroke-width="0.1" transform="rotate(-90 292.77 644.75)" textLength="56.00" lengthAdjust="spacingAndGlyphs">AST activity (U/ml)</text>
<rect x="317.00" y="620.00" width="11.75" height="56.25" fill="#3aa935" />
<rect x="330.00" y="622.50" width="11.75" height="53.75" fill="#d0062e" />
<rect x="343.25" y="628.25" width="11.75" height="48.00" fill="#d0062e" />
<rect x="359.50" y="656.25" width="11.75" height="20.00" fill="#3aa935" />
<rect x="372.50" y="650.75" width="11.75" height="25.50" fill="#d0062e" />
<rect x="385.75" y="654.50" width="11.75" height="21.75" fill="#d0062e" />
<line x1="309.10" y1="676.25" x2="400.50" y2="676.25" stroke="#1a1a1a" stroke-width="0.9" />
<line x1="309.50" y1="611.25" x2="309.50" y2="676.65" stroke="#1a1a1a" stroke-width="0.9" />
<line x1="306.30" y1="613.75" x2="309.50" y2="613.75" stroke="#1a1a1a" stroke-width="0.8" />
<text x="305.60" y="616.27" font-size="7" text-anchor="end" fill="#231f20" textLength="8.40" lengthAdjust="spacingAndGlyphs" >35</text>
<line x1="306.30" y1="623.00" x2="309.50" y2="623.00" stroke="#1a1a1a" stroke-width="0.8" />
<text x="305.60" y="625.52" font-size="7" text-anchor="end" fill="#231f20" textLength="8.40" lengthAdjust="spacingAndGlyphs" >30</text>
<line x1="306.30" y1="632.00" x2="309.50" y2="632.00" stroke="#1a1a1a" stroke-width="0.8" />
<text x="305.60" y="634.52" font-size="7" text-anchor="end" fill="#231f20" textLength="8.40" lengthAdjust="spacingAndGlyphs" >25</text>
<line x1="306.30" y1="640.75" x2="309.50" y2="640.75" stroke="#1a1a1a" stroke-width="0.8" />
<text x="305.60" y="643.27" font-size="7" text-anchor="end" fill="#231f20" textLength="8.40" lengthAdjust="spacingAndGlyphs" >20</text>
<line x1="306.30" y1="649.75" x2="309.50" y2="649.75" stroke="#1a1a1a" stroke-width="0.8" />
<text x="305.60" y="652.27" font-size="7" text-anchor="end" fill="#231f20" textLength="8.40" lengthAdjust="spacingAndGlyphs" >15</text>
<line x1="306.30" y1="658.75" x2="309.50" y2="658.75" stroke="#1a1a1a" stroke-width="0.8" />
<text x="305.60" y="661.27" font-size="7" text-anchor="end" fill="#231f20" textLength="8.40" lengthAdjust="spacingAndGlyphs" >10</text>
<line x1="306.30" y1="667.50" x2="309.50" y2="667.50" stroke="#1a1a1a" stroke-width="0.8" />
<text x="305.60" y="670.02" font-size="7" text-anchor="end" fill="#231f20" textLength="4.20" lengthAdjust="spacingAndGlyphs" >5</text>
<line x1="306.30" y1="676.25" x2="309.50" y2="676.25" stroke="#1a1a1a" stroke-width="0.8" />
<text x="305.60" y="678.77" font-size="7" text-anchor="end" fill="#231f20" textLength="4.20" lengthAdjust="spacingAndGlyphs" >0</text>
<line x1="322.88" y1="619.50" x2="322.88" y2="620.50" stroke="#111" stroke-width="0.75" />
<line x1="320.68" y1="619.50" x2="325.07" y2="619.50" stroke="#111" stroke-width="0.75" />
<circle cx="320.50" cy="620.00" r="1.50" fill="#000"/>
<circle cx="323.80" cy="618.80" r="1.50" fill="#000"/>
<circle cx="327.00" cy="619.50" r="1.50" fill="#000"/>
<line x1="335.88" y1="621.10" x2="335.88" y2="623.90" stroke="#111" stroke-width="0.75" />
<line x1="333.68" y1="621.10" x2="338.07" y2="621.10" stroke="#111" stroke-width="0.75" />
<circle cx="335.50" cy="618.80" r="1.50" fill="#000"/>
<circle cx="334.50" cy="623.00" r="1.50" fill="#000"/>
<circle cx="338.00" cy="625.00" r="1.50" fill="#000"/>
<line x1="349.12" y1="627.25" x2="349.12" y2="629.25" stroke="#111" stroke-width="0.75" />
<line x1="346.93" y1="627.25" x2="351.32" y2="627.25" stroke="#111" stroke-width="0.75" />
<circle cx="345.50" cy="629.50" r="1.50" fill="#000"/>
<circle cx="348.80" cy="625.80" r="1.50" fill="#000"/>
<circle cx="352.50" cy="628.20" r="1.50" fill="#000"/>
<line x1="365.38" y1="655.75" x2="365.38" y2="656.75" stroke="#111" stroke-width="0.75" />
<line x1="363.18" y1="655.75" x2="367.57" y2="655.75" stroke="#111" stroke-width="0.75" />
<circle cx="362.00" cy="657.50" r="1.50" fill="#000"/>
<circle cx="365.00" cy="655.50" r="1.50" fill="#000"/>
<circle cx="368.20" cy="657.00" r="1.50" fill="#000"/>
<line x1="378.38" y1="649.75" x2="378.38" y2="651.75" stroke="#111" stroke-width="0.75" />
<line x1="376.18" y1="649.75" x2="380.57" y2="649.75" stroke="#111" stroke-width="0.75" />
<circle cx="375.00" cy="652.50" r="1.50" fill="#000"/>
<circle cx="378.30" cy="648.30" r="1.50" fill="#000"/>
<circle cx="381.70" cy="651.20" r="1.50" fill="#000"/>
<line x1="391.62" y1="653.50" x2="391.62" y2="655.50" stroke="#111" stroke-width="0.75" />
<line x1="389.43" y1="653.50" x2="393.82" y2="653.50" stroke="#111" stroke-width="0.75" />
<circle cx="388.00" cy="654.50" r="1.50" fill="#000"/>
<circle cx="391.70" cy="657.00" r="1.50" fill="#000"/>
<circle cx="395.00" cy="654.30" r="1.50" fill="#000"/>
<text x="352.50" y="604.60" font-size="7" text-anchor="middle" fill="#333" >****</text>
<line x1="324.50" y1="605.00" x2="367.50" y2="605.00" stroke="#555a66" stroke-width="0.8" />
<line x1="324.50" y1="606.70" x2="378.75" y2="606.70" stroke="#555a66" stroke-width="0.8" />
<line x1="324.50" y1="608.40" x2="391.75" y2="608.40" stroke="#555a66" stroke-width="0.8" />
<line x1="324.50" y1="610.30" x2="335.50" y2="610.30" stroke="#555a66" stroke-width="0.8" />
<text x="334.20" y="611.60" font-size="7" text-anchor="middle" fill="#333" >*</text>
<text x="344.40" y="615.30" font-size="6.8" text-anchor="middle" fill="#333" >0.14</text>
<line x1="338.75" y1="616.10" x2="350.00" y2="616.10" stroke="#555a66" stroke-width="0.7" />
<line x1="367.50" y1="643.75" x2="378.75" y2="643.75" stroke="#555a66" stroke-width="0.8" />
<text x="373.12" y="645.75" font-size="7" text-anchor="middle" fill="#333" >*</text>
<text x="387.30" y="641.80" font-size="6.8" text-anchor="middle" fill="#333" >0.14</text>
<line x1="381.25" y1="642.80" x2="393.25" y2="642.80" stroke="#555a66" stroke-width="0.7" />
<text x="316.30" y="686.05" font-size="6.6" text-anchor="end" fill="#231f20" >Heme</text>
<text x="322.88" y="686.05" font-size="6.6" text-anchor="middle" fill="#333" >–</text>
<text x="335.88" y="686.05" font-size="6.6" text-anchor="middle" fill="#333" >+</text>
<text x="349.12" y="686.05" font-size="6.6" text-anchor="middle" fill="#333" >+</text>
<text x="365.38" y="686.05" font-size="6.6" text-anchor="middle" fill="#333" >–</text>
<text x="378.38" y="686.05" font-size="6.6" text-anchor="middle" fill="#333" >+</text>
<text x="391.62" y="686.05" font-size="6.6" text-anchor="middle" fill="#333" >+</text>
<text x="316.30" y="694.05" font-size="6.6" text-anchor="end" fill="#231f20" >Pio</text>
<text x="322.88" y="694.05" font-size="6.6" text-anchor="middle" fill="#333" >–</text>
<text x="335.88" y="694.05" font-size="6.6" text-anchor="middle" fill="#333" >–</text>
<text x="349.12" y="694.05" font-size="6.6" text-anchor="middle" fill="#333" >+</text>
<text x="365.38" y="694.05" font-size="6.6" text-anchor="middle" fill="#333" >–</text>
<text x="378.38" y="694.05" font-size="6.6" text-anchor="middle" fill="#333" >–</text>
<text x="391.62" y="694.05" font-size="6.6" text-anchor="middle" fill="#333" >+</text>
<line x1="317.50" y1="696.75" x2="355.00" y2="696.75" stroke="#333" stroke-width="0.9" />
<line x1="360.00" y1="696.75" x2="397.50" y2="696.75" stroke="#333" stroke-width="0.9" />
<text x="335.50" y="706.70" font-size="6.8" text-anchor="middle" fill="#231f20" >+TAA Day1</text>
<text x="379.25" y="706.70" font-size="6.8" text-anchor="middle" fill="#231f20" >+TAA Day4</text>
<text x="407.80" y="585.20" font-size="9.4" text-anchor="start" fill="#000" font-weight="bold" >vii</text>
<text x="480.00" y="596.20" font-size="8.7" text-anchor="middle" fill="#231f20" >ANA</text>
<text x="427.77" y="643.75" font-size="9.6" text-anchor="middle" fill="#231f20" stroke="#231f20" stroke-width="0.1" transform="rotate(-90 427.77 643.75)" textLength="58.00" lengthAdjust="spacingAndGlyphs">ANA activity (U/ml)</text>
<rect x="460.50" y="640.00" width="11.50" height="36.50" fill="#3aa935" />
<rect x="473.90" y="637.30" width="11.50" height="39.20" fill="#3aa935" />
<rect x="487.20" y="631.00" width="11.60" height="45.50" fill="#d0062e" />
<line x1="454.30" y1="676.50" x2="506.00" y2="676.50" stroke="#1a1a1a" stroke-width="0.9" />
<line x1="454.70" y1="617.00" x2="454.70" y2="676.90" stroke="#1a1a1a" stroke-width="0.9" />
<line x1="451.50" y1="619.50" x2="454.70" y2="619.50" stroke="#1a1a1a" stroke-width="0.8" />
<text x="450.60" y="622.02" font-size="7" text-anchor="end" fill="#231f20" textLength="16.80" lengthAdjust="spacingAndGlyphs" >4000</text>
<line x1="451.50" y1="633.90" x2="454.70" y2="633.90" stroke="#1a1a1a" stroke-width="0.8" />
<text x="450.60" y="636.42" font-size="7" text-anchor="end" fill="#231f20" textLength="16.80" lengthAdjust="spacingAndGlyphs" >3000</text>
<line x1="451.50" y1="648.20" x2="454.70" y2="648.20" stroke="#1a1a1a" stroke-width="0.8" />
<text x="450.60" y="650.72" font-size="7" text-anchor="end" fill="#231f20" textLength="16.80" lengthAdjust="spacingAndGlyphs" >2000</text>
<line x1="451.50" y1="662.50" x2="454.70" y2="662.50" stroke="#1a1a1a" stroke-width="0.8" />
<text x="450.60" y="665.02" font-size="7" text-anchor="end" fill="#231f20" textLength="16.80" lengthAdjust="spacingAndGlyphs" >1000</text>
<line x1="451.50" y1="676.50" x2="454.70" y2="676.50" stroke="#1a1a1a" stroke-width="0.8" />
<text x="450.60" y="679.02" font-size="7" text-anchor="end" fill="#231f20" textLength="4.20" lengthAdjust="spacingAndGlyphs" >0</text>
<line x1="466.25" y1="639.20" x2="466.25" y2="640.80" stroke="#111" stroke-width="0.75" />
<line x1="464.05" y1="639.20" x2="468.45" y2="639.20" stroke="#111" stroke-width="0.75" />
<circle cx="462.80" cy="639.20" r="1.50" fill="#000"/>
<circle cx="466.50" cy="641.50" r="1.50" fill="#000"/>
<circle cx="469.20" cy="639.20" r="1.50" fill="#000"/>
<line x1="479.65" y1="636.00" x2="479.65" y2="638.60" stroke="#111" stroke-width="0.75" />
<line x1="477.45" y1="636.00" x2="481.85" y2="636.00" stroke="#111" stroke-width="0.75" />
<circle cx="476.20" cy="637.80" r="1.50" fill="#000"/>
<circle cx="479.60" cy="633.40" r="1.50" fill="#000"/>
<circle cx="483.10" cy="637.30" r="1.50" fill="#000"/>
<line x1="493.00" y1="629.40" x2="493.00" y2="632.60" stroke="#111" stroke-width="0.75" />
<line x1="490.80" y1="629.40" x2="495.20" y2="629.40" stroke="#111" stroke-width="0.75" />
<circle cx="490.00" cy="630.40" r="1.50" fill="#000"/>
<circle cx="493.50" cy="636.80" r="1.50" fill="#000"/>
<circle cx="495.80" cy="628.50" r="1.50" fill="#000"/>
<circle cx="492.30" cy="632.20" r="1.50" fill="#000"/>
<line x1="467.00" y1="620.00" x2="492.30" y2="620.00" stroke="#555a66" stroke-width="0.8" />
<text x="479.65" y="622.00" font-size="7" text-anchor="middle" fill="#333" >*</text>
<line x1="479.60" y1="625.30" x2="492.30" y2="625.30" stroke="#555a66" stroke-width="0.8" />
<text x="485.95" y="627.30" font-size="7" text-anchor="middle" fill="#333" >*</text>
<text x="460.00" y="685.80" font-size="6.6" text-anchor="end" fill="#231f20" >Heme</text>
<text x="466.25" y="685.80" font-size="6.6" text-anchor="middle" fill="#333" >–</text>
<text x="479.65" y="685.80" font-size="6.6" text-anchor="middle" fill="#333" >–</text>
<text x="493.00" y="685.80" font-size="6.6" text-anchor="middle" fill="#333" >+</text>
<line x1="461.20" y1="689.20" x2="498.80" y2="689.20" stroke="#333" stroke-width="0.9" />
<text x="479.60" y="698.60" font-size="6.8" text-anchor="middle" fill="#231f20" >+TAA Day4</text>
</g>
<rect x="0.5" y="0.5" width="519" height="724" fill="none" stroke="#5a5a5a" stroke-width="1"/>
</svg>
</body></html>
